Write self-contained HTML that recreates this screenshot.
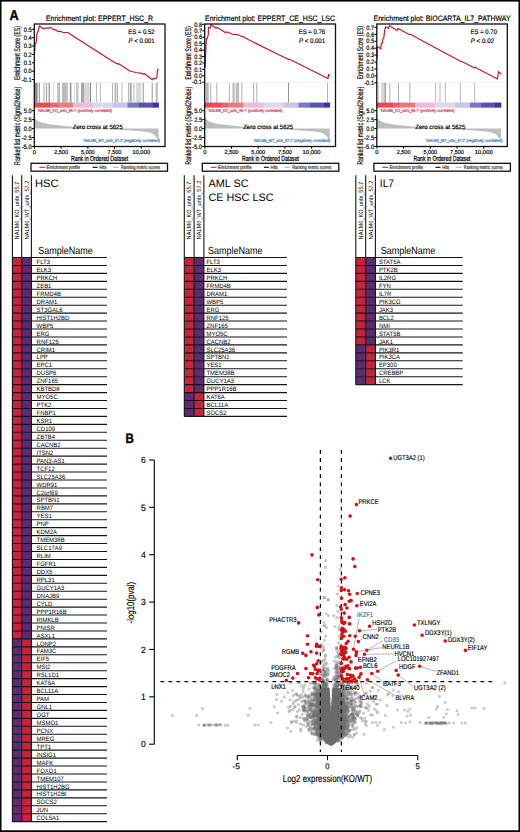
<!DOCTYPE html><html><head><meta charset="utf-8"><style>html,body{margin:0;padding:0;background:#fff;}svg{display:block;}text{font-family:"Liberation Sans",sans-serif;text-rendering:geometricPrecision;}</style></head><body>
<svg width="520" height="832" viewBox="0 0 520 832">
<rect x="0.00" y="0.00" width="520.00" height="832.00" fill="#fff"/>
<text x="46.00" y="20.70" font-size="7.9" textLength="107.0" lengthAdjust="spacingAndGlyphs" stroke="#000" stroke-width="0.18">Enrichment plot: EPPERT_HSC_R</text>
<line x1="34.30" y1="82.60" x2="165.00" y2="82.60" stroke="#e6e6e6" stroke-width="0.6"/>
<line x1="34.30" y1="102.60" x2="165.00" y2="102.60" stroke="#e6e6e6" stroke-width="0.6"/>
<line x1="34.30" y1="107.60" x2="165.00" y2="107.60" stroke="#e6e6e6" stroke-width="0.6"/>
<line x1="35.50" y1="82.80" x2="35.50" y2="102.60" stroke="#4b4b4b" stroke-width="0.65"/>
<line x1="36.50" y1="82.80" x2="36.50" y2="102.60" stroke="#4b4b4b" stroke-width="0.65"/>
<line x1="37.40" y1="82.80" x2="37.40" y2="102.60" stroke="#878787" stroke-width="0.65"/>
<line x1="39.30" y1="82.80" x2="39.30" y2="102.60" stroke="#4b4b4b" stroke-width="0.65"/>
<line x1="43.60" y1="82.80" x2="43.60" y2="102.60" stroke="#c3c3c3" stroke-width="0.65"/>
<line x1="44.20" y1="82.80" x2="44.20" y2="102.60" stroke="#c3c3c3" stroke-width="0.65"/>
<line x1="44.90" y1="82.80" x2="44.90" y2="102.60" stroke="#c3c3c3" stroke-width="0.65"/>
<line x1="46.50" y1="82.80" x2="46.50" y2="102.60" stroke="#878787" stroke-width="0.65"/>
<line x1="48.00" y1="82.80" x2="48.00" y2="102.60" stroke="#c3c3c3" stroke-width="0.65"/>
<line x1="49.30" y1="82.80" x2="49.30" y2="102.60" stroke="#4b4b4b" stroke-width="0.65"/>
<line x1="53.60" y1="82.80" x2="53.60" y2="102.60" stroke="#c3c3c3" stroke-width="0.65"/>
<line x1="58.00" y1="82.80" x2="58.00" y2="102.60" stroke="#4b4b4b" stroke-width="0.65"/>
<line x1="59.50" y1="82.80" x2="59.50" y2="102.60" stroke="#878787" stroke-width="0.65"/>
<line x1="62.40" y1="82.80" x2="62.40" y2="102.60" stroke="#9b9b9b" stroke-width="0.65"/>
<line x1="63.40" y1="82.80" x2="63.40" y2="102.60" stroke="#878787" stroke-width="0.65"/>
<line x1="64.40" y1="82.80" x2="64.40" y2="102.60" stroke="#919191" stroke-width="0.65"/>
<line x1="65.40" y1="82.80" x2="65.40" y2="102.60" stroke="#878787" stroke-width="0.65"/>
<line x1="66.40" y1="82.80" x2="66.40" y2="102.60" stroke="#9b9b9b" stroke-width="0.65"/>
<line x1="67.40" y1="82.80" x2="67.40" y2="102.60" stroke="#9b9b9b" stroke-width="0.65"/>
<line x1="70.30" y1="82.80" x2="70.30" y2="102.60" stroke="#4b4b4b" stroke-width="0.65"/>
<line x1="71.10" y1="82.80" x2="71.10" y2="102.60" stroke="#878787" stroke-width="0.65"/>
<line x1="74.30" y1="82.80" x2="74.30" y2="102.60" stroke="#c3c3c3" stroke-width="0.65"/>
<line x1="77.00" y1="82.80" x2="77.00" y2="102.60" stroke="#4b4b4b" stroke-width="0.65"/>
<line x1="78.30" y1="82.80" x2="78.30" y2="102.60" stroke="#c3c3c3" stroke-width="0.65"/>
<line x1="81.50" y1="82.80" x2="81.50" y2="102.60" stroke="#737373" stroke-width="0.65"/>
<line x1="82.50" y1="82.80" x2="82.50" y2="102.60" stroke="#737373" stroke-width="0.65"/>
<line x1="83.60" y1="82.80" x2="83.60" y2="102.60" stroke="#737373" stroke-width="0.65"/>
<line x1="84.50" y1="82.80" x2="84.50" y2="102.60" stroke="#c3c3c3" stroke-width="0.65"/>
<line x1="85.50" y1="82.80" x2="85.50" y2="102.60" stroke="#c3c3c3" stroke-width="0.65"/>
<line x1="86.50" y1="82.80" x2="86.50" y2="102.60" stroke="#c3c3c3" stroke-width="0.65"/>
<line x1="87.50" y1="82.80" x2="87.50" y2="102.60" stroke="#c3c3c3" stroke-width="0.65"/>
<line x1="88.50" y1="82.80" x2="88.50" y2="102.60" stroke="#c3c3c3" stroke-width="0.65"/>
<line x1="89.30" y1="82.80" x2="89.30" y2="102.60" stroke="#c3c3c3" stroke-width="0.65"/>
<line x1="90.50" y1="82.80" x2="90.50" y2="102.60" stroke="#4b4b4b" stroke-width="0.65"/>
<line x1="96.60" y1="82.80" x2="96.60" y2="102.60" stroke="#919191" stroke-width="0.65"/>
<line x1="100.40" y1="82.80" x2="100.40" y2="102.60" stroke="#919191" stroke-width="0.65"/>
<line x1="112.50" y1="82.80" x2="112.50" y2="102.60" stroke="#919191" stroke-width="0.65"/>
<line x1="115.20" y1="82.80" x2="115.20" y2="102.60" stroke="#5f5f5f" stroke-width="0.65"/>
<line x1="117.20" y1="82.80" x2="117.20" y2="102.60" stroke="#555555" stroke-width="0.65"/>
<line x1="121.90" y1="82.80" x2="121.90" y2="102.60" stroke="#919191" stroke-width="0.65"/>
<line x1="128.60" y1="82.80" x2="128.60" y2="102.60" stroke="#878787" stroke-width="0.65"/>
<line x1="130.30" y1="82.80" x2="130.30" y2="102.60" stroke="#5f5f5f" stroke-width="0.65"/>
<line x1="131.30" y1="82.80" x2="131.30" y2="102.60" stroke="#878787" stroke-width="0.65"/>
<line x1="134.00" y1="82.80" x2="134.00" y2="102.60" stroke="#878787" stroke-width="0.65"/>
<line x1="136.70" y1="82.80" x2="136.70" y2="102.60" stroke="#c3c3c3" stroke-width="0.65"/>
<line x1="137.70" y1="82.80" x2="137.70" y2="102.60" stroke="#b9b9b9" stroke-width="0.65"/>
<line x1="138.70" y1="82.80" x2="138.70" y2="102.60" stroke="#c3c3c3" stroke-width="0.65"/>
<line x1="139.70" y1="82.80" x2="139.70" y2="102.60" stroke="#b9b9b9" stroke-width="0.65"/>
<line x1="140.80" y1="82.80" x2="140.80" y2="102.60" stroke="#c3c3c3" stroke-width="0.65"/>
<line x1="143.20" y1="82.80" x2="143.20" y2="102.60" stroke="#555555" stroke-width="0.65"/>
<line x1="152.20" y1="82.80" x2="152.20" y2="102.60" stroke="#555555" stroke-width="0.65"/>
<line x1="156.20" y1="82.80" x2="156.20" y2="102.60" stroke="#878787" stroke-width="0.65"/>
<line x1="157.20" y1="82.80" x2="157.20" y2="102.60" stroke="#878787" stroke-width="0.65"/>
<rect x="34.30" y="102.60" width="16.46" height="5.00" fill="#ec4a52"/>
<rect x="50.46" y="102.60" width="7.76" height="5.00" fill="#e9637a"/>
<rect x="57.92" y="102.60" width="15.22" height="5.00" fill="#ee7880"/>
<rect x="72.83" y="102.60" width="20.19" height="5.00" fill="#f4b8d8"/>
<rect x="92.72" y="102.60" width="20.19" height="5.00" fill="#ddd7ef"/>
<rect x="112.61" y="102.60" width="15.22" height="5.00" fill="#cbc4e9"/>
<rect x="127.52" y="102.60" width="11.49" height="5.00" fill="#7a76c6"/>
<rect x="138.71" y="102.60" width="13.97" height="5.00" fill="#5a52b2"/>
<rect x="152.38" y="102.60" width="6.52" height="5.00" fill="#3c32a0"/>
<path d="M34.3,128.6 L34.3,116.5 L35.8,119.0 L37.8,121.1 L43.0,122.9 L49.8,124.3 L57.9,125.2 L70.3,126.5 L84.0,127.7 L94.6,128.6 L108.9,129.3 L127.5,130.2 L143.7,131.5 L149.9,132.5 L153.6,134.3 L156.1,137.2 L158.6,140.0 L158.6,128.6 Z" fill="#bdbdbd"/>
<text x="37.70" y="111.60" font-size="4.4" textLength="74.4" lengthAdjust="spacingAndGlyphs" fill="#d8283c" stroke="#d8283c" stroke-width="0.18">'NALM6_KO_untx_55.7' (positively correlated)</text>
<text x="72.80" y="129.30" font-size="6.2" textLength="50.0" lengthAdjust="spacingAndGlyphs" stroke="#000" stroke-width="0.18">Zero cross at 5625</text>
<text x="83.30" y="141.90" font-size="4.4" textLength="76.6" lengthAdjust="spacingAndGlyphs" fill="#2e6fb4" stroke="#2e6fb4" stroke-width="0.18">'NALM6_WT_untx_57.2' (negatively correlated)</text>
<polyline points="34.5,54.5 35.1,44.2 36.1,42.9 37.0,33.4 38.1,31.4 39.4,25.8 40.8,27.1 43.5,29.0 44.8,28.1 48.8,28.1 50.9,27.4 52.9,29.4 55.6,29.8 58.3,31.7 60.3,31.2 63.0,32.5 67.7,32.5 100.0,53.2 115.4,63.1 120.0,64.4 129.8,71.0 136.2,72.5 141.9,73.3 143.7,74.4 144.2,73.6 152.3,79.8 153.5,78.2 155.2,79.0 156.9,77.3 157.5,69.8 158.6,69.0" fill="none" stroke="#c8182f" stroke-width="1.2" stroke-linejoin="round"/>
<text x="128.20" y="34.00" font-size="6.6" textLength="26.5" lengthAdjust="spacingAndGlyphs" stroke="#000" stroke-width="0.18">ES = 0.52</text>
<text x="128.40" y="42.7" font-size="6.6" textLength="26.2" lengthAdjust="spacingAndGlyphs" stroke="#000" stroke-width="0.18"><tspan font-style="italic">P</tspan> &lt; 0.001</text>
<rect x="34.30" y="24.00" width="130.70" height="122.50" fill="none" stroke="#111" stroke-width="1.3"/>
<line x1="31.80" y1="29.30" x2="34.30" y2="29.30" stroke="#000" stroke-width="1"/>
<text x="31.70" y="31.50" font-size="6.3" text-anchor="end" textLength="7.9" lengthAdjust="spacingAndGlyphs" stroke="#000" stroke-width="0.18">0.5</text>
<line x1="31.80" y1="37.68" x2="34.30" y2="37.68" stroke="#000" stroke-width="1"/>
<text x="31.70" y="39.88" font-size="6.3" text-anchor="end" textLength="7.9" lengthAdjust="spacingAndGlyphs" stroke="#000" stroke-width="0.18">0.4</text>
<line x1="31.80" y1="46.06" x2="34.30" y2="46.06" stroke="#000" stroke-width="1"/>
<text x="31.70" y="48.26" font-size="6.3" text-anchor="end" textLength="7.9" lengthAdjust="spacingAndGlyphs" stroke="#000" stroke-width="0.18">0.3</text>
<line x1="31.80" y1="54.44" x2="34.30" y2="54.44" stroke="#000" stroke-width="1"/>
<text x="31.70" y="56.64" font-size="6.3" text-anchor="end" textLength="7.9" lengthAdjust="spacingAndGlyphs" stroke="#000" stroke-width="0.18">0.2</text>
<line x1="31.80" y1="62.82" x2="34.30" y2="62.82" stroke="#000" stroke-width="1"/>
<text x="31.70" y="65.02" font-size="6.3" text-anchor="end" textLength="7.9" lengthAdjust="spacingAndGlyphs" stroke="#000" stroke-width="0.18">0.1</text>
<line x1="31.80" y1="71.20" x2="34.30" y2="71.20" stroke="#000" stroke-width="1"/>
<text x="31.70" y="73.40" font-size="6.3" text-anchor="end" textLength="7.9" lengthAdjust="spacingAndGlyphs" stroke="#000" stroke-width="0.18">0.0</text>
<line x1="31.80" y1="79.58" x2="34.30" y2="79.58" stroke="#000" stroke-width="1"/>
<text x="31.70" y="81.78" font-size="6.3" text-anchor="end" textLength="10.0" lengthAdjust="spacingAndGlyphs" stroke="#000" stroke-width="0.18">-0.1</text>
<line x1="31.80" y1="110.70" x2="34.30" y2="110.70" stroke="#000" stroke-width="1"/>
<text x="31.70" y="112.90" font-size="6.3" text-anchor="end" textLength="7.9" lengthAdjust="spacingAndGlyphs" stroke="#000" stroke-width="0.18">5.0</text>
<line x1="31.80" y1="119.65" x2="34.30" y2="119.65" stroke="#000" stroke-width="1"/>
<text x="31.70" y="121.85" font-size="6.3" text-anchor="end" textLength="7.9" lengthAdjust="spacingAndGlyphs" stroke="#000" stroke-width="0.18">2.5</text>
<line x1="31.80" y1="128.60" x2="34.30" y2="128.60" stroke="#000" stroke-width="1"/>
<text x="31.70" y="130.80" font-size="6.3" text-anchor="end" textLength="7.9" lengthAdjust="spacingAndGlyphs" stroke="#000" stroke-width="0.18">0.0</text>
<line x1="31.80" y1="137.55" x2="34.30" y2="137.55" stroke="#000" stroke-width="1"/>
<text x="31.70" y="139.75" font-size="6.3" text-anchor="end" textLength="10.0" lengthAdjust="spacingAndGlyphs" stroke="#000" stroke-width="0.18">-2.5</text>
<line x1="31.80" y1="146.50" x2="34.30" y2="146.50" stroke="#000" stroke-width="1"/>
<text x="31.70" y="148.70" font-size="6.3" text-anchor="end" textLength="10.0" lengthAdjust="spacingAndGlyphs" stroke="#000" stroke-width="0.18">-5.0</text>
<line x1="34.40" y1="146.50" x2="34.40" y2="148.70" stroke="#000" stroke-width="1"/>
<text x="34.40" y="153.60" font-size="5.8" text-anchor="middle" stroke="#000" stroke-width="0.18">0</text>
<line x1="61.10" y1="146.50" x2="61.10" y2="148.70" stroke="#000" stroke-width="1"/>
<text x="61.10" y="153.60" font-size="5.8" text-anchor="middle" textLength="13.8" lengthAdjust="spacingAndGlyphs" stroke="#000" stroke-width="0.18">2,500</text>
<line x1="87.80" y1="146.50" x2="87.80" y2="148.70" stroke="#000" stroke-width="1"/>
<text x="87.80" y="153.60" font-size="5.8" text-anchor="middle" textLength="13.8" lengthAdjust="spacingAndGlyphs" stroke="#000" stroke-width="0.18">5,000</text>
<line x1="114.50" y1="146.50" x2="114.50" y2="148.70" stroke="#000" stroke-width="1"/>
<text x="114.50" y="153.60" font-size="5.8" text-anchor="middle" textLength="13.8" lengthAdjust="spacingAndGlyphs" stroke="#000" stroke-width="0.18">7,500</text>
<line x1="141.20" y1="146.50" x2="141.20" y2="148.70" stroke="#000" stroke-width="1"/>
<text x="141.20" y="153.60" font-size="5.8" text-anchor="middle" textLength="18.0" lengthAdjust="spacingAndGlyphs" stroke="#000" stroke-width="0.18">10,000</text>
<text x="71.10" y="161.00" font-size="7.4" textLength="57.0" lengthAdjust="spacingAndGlyphs" stroke="#000" stroke-width="0.25">Rank in Ordered Dataset</text>
<text x="20.20" y="53.00" font-size="8.3" text-anchor="middle" textLength="54.2" lengthAdjust="spacingAndGlyphs" transform="rotate(-90 20.20 53.00)" stroke="#000" stroke-width="0.18">Enrichment Score (ES)</text>
<text x="20.20" y="125.80" font-size="8.3" text-anchor="middle" textLength="78.2" lengthAdjust="spacingAndGlyphs" transform="rotate(-90 20.20 125.80)" stroke="#000" stroke-width="0.18">Ranked list metric (Signal2Noise)</text>
<rect x="31.00" y="163.3" width="136.50" height="7.9" fill="none" stroke="#111" stroke-width="1.3"/>
<line x1="39.50" y1="167.30" x2="45.20" y2="167.30" stroke="#cc1f36" stroke-width="1.1"/>
<text x="46.60" y="169.10" font-size="5.0" textLength="33.6" lengthAdjust="spacingAndGlyphs" fill="#333" stroke="#333" stroke-width="0.18">Enrichment profile</text>
<line x1="92.60" y1="167.30" x2="97.60" y2="167.30" stroke="#000" stroke-width="1.1"/>
<text x="99.30" y="169.10" font-size="5.0" textLength="7.3" lengthAdjust="spacingAndGlyphs" fill="#333" stroke="#333" stroke-width="0.18">Hits</text>
<line x1="113.10" y1="167.30" x2="118.60" y2="167.30" stroke="#999" stroke-width="0.8"/>
<text x="120.90" y="169.10" font-size="5.0" textLength="39.3" lengthAdjust="spacingAndGlyphs" fill="#333" stroke="#333" stroke-width="0.18">Ranking metric scores</text>
<text x="205.00" y="20.70" font-size="7.9" textLength="130.1" lengthAdjust="spacingAndGlyphs" stroke="#000" stroke-width="0.18">Enrichment plot: EPPERT_CE_HSC_LSC</text>
<line x1="204.70" y1="82.60" x2="335.50" y2="82.60" stroke="#e6e6e6" stroke-width="0.6"/>
<line x1="204.70" y1="102.60" x2="335.50" y2="102.60" stroke="#e6e6e6" stroke-width="0.6"/>
<line x1="204.70" y1="107.60" x2="335.50" y2="107.60" stroke="#e6e6e6" stroke-width="0.6"/>
<line x1="206.50" y1="82.80" x2="206.50" y2="102.60" stroke="#919191" stroke-width="0.65"/>
<line x1="207.40" y1="82.80" x2="207.40" y2="102.60" stroke="#919191" stroke-width="0.65"/>
<line x1="208.30" y1="82.80" x2="208.30" y2="102.60" stroke="#9b9b9b" stroke-width="0.65"/>
<line x1="210.80" y1="82.80" x2="210.80" y2="102.60" stroke="#878787" stroke-width="0.65"/>
<line x1="216.80" y1="82.80" x2="216.80" y2="102.60" stroke="#878787" stroke-width="0.65"/>
<line x1="229.30" y1="82.80" x2="229.30" y2="102.60" stroke="#878787" stroke-width="0.65"/>
<line x1="233.00" y1="82.80" x2="233.00" y2="102.60" stroke="#878787" stroke-width="0.65"/>
<line x1="234.00" y1="82.80" x2="234.00" y2="102.60" stroke="#878787" stroke-width="0.65"/>
<line x1="236.10" y1="82.80" x2="236.10" y2="102.60" stroke="#9b9b9b" stroke-width="0.65"/>
<line x1="237.00" y1="82.80" x2="237.00" y2="102.60" stroke="#919191" stroke-width="0.65"/>
<line x1="237.80" y1="82.80" x2="237.80" y2="102.60" stroke="#9b9b9b" stroke-width="0.65"/>
<line x1="238.60" y1="82.80" x2="238.60" y2="102.60" stroke="#9b9b9b" stroke-width="0.65"/>
<line x1="241.80" y1="82.80" x2="241.80" y2="102.60" stroke="#878787" stroke-width="0.65"/>
<line x1="253.60" y1="82.80" x2="253.60" y2="102.60" stroke="#878787" stroke-width="0.65"/>
<line x1="256.80" y1="82.80" x2="256.80" y2="102.60" stroke="#878787" stroke-width="0.65"/>
<line x1="288.50" y1="82.80" x2="288.50" y2="102.60" stroke="#555555" stroke-width="0.65"/>
<line x1="327.50" y1="82.80" x2="327.50" y2="102.60" stroke="#878787" stroke-width="0.65"/>
<rect x="204.70" y="102.60" width="16.56" height="5.00" fill="#ec4a52"/>
<rect x="220.96" y="102.60" width="7.81" height="5.00" fill="#e9637a"/>
<rect x="228.47" y="102.60" width="15.31" height="5.00" fill="#ee7880"/>
<rect x="243.48" y="102.60" width="20.32" height="5.00" fill="#f4b8d8"/>
<rect x="263.50" y="102.60" width="20.32" height="5.00" fill="#ddd7ef"/>
<rect x="283.51" y="102.60" width="15.31" height="5.00" fill="#cbc4e9"/>
<rect x="298.52" y="102.60" width="11.56" height="5.00" fill="#7a76c6"/>
<rect x="309.78" y="102.60" width="14.06" height="5.00" fill="#5a52b2"/>
<rect x="323.55" y="102.60" width="6.56" height="5.00" fill="#3c32a0"/>
<path d="M204.7,128.6 L204.7,116.5 L206.2,119.0 L208.2,121.1 L213.5,122.9 L220.3,124.3 L228.5,125.2 L241.0,126.5 L254.7,127.7 L265.4,128.6 L279.8,129.3 L298.5,130.2 L314.8,131.5 L321.0,132.5 L324.8,134.3 L327.3,137.2 L329.8,140.0 L329.8,128.6 Z" fill="#bdbdbd"/>
<text x="208.10" y="111.60" font-size="4.4" textLength="74.4" lengthAdjust="spacingAndGlyphs" fill="#d8283c" stroke="#d8283c" stroke-width="0.18">'NALM6_KO_untx_55.7' (positively correlated)</text>
<text x="243.20" y="129.30" font-size="6.2" textLength="50.0" lengthAdjust="spacingAndGlyphs" stroke="#000" stroke-width="0.18">Zero cross at 5625</text>
<text x="253.70" y="141.90" font-size="4.4" textLength="76.6" lengthAdjust="spacingAndGlyphs" fill="#2e6fb4" stroke="#2e6fb4" stroke-width="0.18">'NALM6_WT_untx_57.2' (negatively correlated)</text>
<polyline points="205.2,67.4 205.6,55.0 206.0,44.3 206.5,38.5 207.2,38.5 208.0,35.8 208.3,34.3 208.5,27.4 209.6,27.4 210.2,28.0 210.8,25.1 211.1,24.4 216.2,28.3 217.5,27.5 225.7,32.8 226.6,31.8 233.0,34.5 238.0,34.7 241.0,36.2 243.0,36.6 250.0,40.5 288.6,59.5 289.5,59.2 328.0,78.5 328.6,74.5 329.8,75.5" fill="none" stroke="#c8182f" stroke-width="1.2" stroke-linejoin="round"/>
<text x="298.70" y="34.00" font-size="6.6" textLength="26.5" lengthAdjust="spacingAndGlyphs" stroke="#000" stroke-width="0.18">ES = 0.76</text>
<text x="298.90" y="42.7" font-size="6.6" textLength="26.2" lengthAdjust="spacingAndGlyphs" stroke="#000" stroke-width="0.18"><tspan font-style="italic">P</tspan> &lt; 0.001</text>
<rect x="204.70" y="24.00" width="130.80" height="122.50" fill="none" stroke="#111" stroke-width="1.3"/>
<line x1="202.20" y1="24.36" x2="204.70" y2="24.36" stroke="#000" stroke-width="1"/>
<text x="202.10" y="26.56" font-size="6.3" text-anchor="end" textLength="7.9" lengthAdjust="spacingAndGlyphs" stroke="#000" stroke-width="0.18">0.8</text>
<line x1="202.20" y1="30.79" x2="204.70" y2="30.79" stroke="#000" stroke-width="1"/>
<text x="202.10" y="32.99" font-size="6.3" text-anchor="end" textLength="7.9" lengthAdjust="spacingAndGlyphs" stroke="#000" stroke-width="0.18">0.7</text>
<line x1="202.20" y1="37.22" x2="204.70" y2="37.22" stroke="#000" stroke-width="1"/>
<text x="202.10" y="39.42" font-size="6.3" text-anchor="end" textLength="7.9" lengthAdjust="spacingAndGlyphs" stroke="#000" stroke-width="0.18">0.6</text>
<line x1="202.20" y1="43.65" x2="204.70" y2="43.65" stroke="#000" stroke-width="1"/>
<text x="202.10" y="45.85" font-size="6.3" text-anchor="end" textLength="7.9" lengthAdjust="spacingAndGlyphs" stroke="#000" stroke-width="0.18">0.5</text>
<line x1="202.20" y1="50.08" x2="204.70" y2="50.08" stroke="#000" stroke-width="1"/>
<text x="202.10" y="52.28" font-size="6.3" text-anchor="end" textLength="7.9" lengthAdjust="spacingAndGlyphs" stroke="#000" stroke-width="0.18">0.4</text>
<line x1="202.20" y1="56.51" x2="204.70" y2="56.51" stroke="#000" stroke-width="1"/>
<text x="202.10" y="58.71" font-size="6.3" text-anchor="end" textLength="7.9" lengthAdjust="spacingAndGlyphs" stroke="#000" stroke-width="0.18">0.3</text>
<line x1="202.20" y1="62.94" x2="204.70" y2="62.94" stroke="#000" stroke-width="1"/>
<text x="202.10" y="65.14" font-size="6.3" text-anchor="end" textLength="7.9" lengthAdjust="spacingAndGlyphs" stroke="#000" stroke-width="0.18">0.2</text>
<line x1="202.20" y1="69.37" x2="204.70" y2="69.37" stroke="#000" stroke-width="1"/>
<text x="202.10" y="71.57" font-size="6.3" text-anchor="end" textLength="7.9" lengthAdjust="spacingAndGlyphs" stroke="#000" stroke-width="0.18">0.1</text>
<line x1="202.20" y1="75.80" x2="204.70" y2="75.80" stroke="#000" stroke-width="1"/>
<text x="202.10" y="78.00" font-size="6.3" text-anchor="end" textLength="7.9" lengthAdjust="spacingAndGlyphs" stroke="#000" stroke-width="0.18">0.0</text>
<line x1="202.20" y1="82.23" x2="204.70" y2="82.23" stroke="#000" stroke-width="1"/>
<text x="202.10" y="84.43" font-size="6.3" text-anchor="end" textLength="10.0" lengthAdjust="spacingAndGlyphs" stroke="#000" stroke-width="0.18">-0.1</text>
<line x1="202.20" y1="110.70" x2="204.70" y2="110.70" stroke="#000" stroke-width="1"/>
<text x="202.10" y="112.90" font-size="6.3" text-anchor="end" textLength="7.9" lengthAdjust="spacingAndGlyphs" stroke="#000" stroke-width="0.18">5.0</text>
<line x1="202.20" y1="119.65" x2="204.70" y2="119.65" stroke="#000" stroke-width="1"/>
<text x="202.10" y="121.85" font-size="6.3" text-anchor="end" textLength="7.9" lengthAdjust="spacingAndGlyphs" stroke="#000" stroke-width="0.18">2.5</text>
<line x1="202.20" y1="128.60" x2="204.70" y2="128.60" stroke="#000" stroke-width="1"/>
<text x="202.10" y="130.80" font-size="6.3" text-anchor="end" textLength="7.9" lengthAdjust="spacingAndGlyphs" stroke="#000" stroke-width="0.18">0.0</text>
<line x1="202.20" y1="137.55" x2="204.70" y2="137.55" stroke="#000" stroke-width="1"/>
<text x="202.10" y="139.75" font-size="6.3" text-anchor="end" textLength="10.0" lengthAdjust="spacingAndGlyphs" stroke="#000" stroke-width="0.18">-2.5</text>
<line x1="202.20" y1="146.50" x2="204.70" y2="146.50" stroke="#000" stroke-width="1"/>
<text x="202.10" y="148.70" font-size="6.3" text-anchor="end" textLength="10.0" lengthAdjust="spacingAndGlyphs" stroke="#000" stroke-width="0.18">-5.0</text>
<line x1="204.80" y1="146.50" x2="204.80" y2="148.70" stroke="#000" stroke-width="1"/>
<text x="204.80" y="153.60" font-size="5.8" text-anchor="middle" stroke="#000" stroke-width="0.18">0</text>
<line x1="231.50" y1="146.50" x2="231.50" y2="148.70" stroke="#000" stroke-width="1"/>
<text x="231.50" y="153.60" font-size="5.8" text-anchor="middle" textLength="13.8" lengthAdjust="spacingAndGlyphs" stroke="#000" stroke-width="0.18">2,500</text>
<line x1="258.20" y1="146.50" x2="258.20" y2="148.70" stroke="#000" stroke-width="1"/>
<text x="258.20" y="153.60" font-size="5.8" text-anchor="middle" textLength="13.8" lengthAdjust="spacingAndGlyphs" stroke="#000" stroke-width="0.18">5,000</text>
<line x1="284.90" y1="146.50" x2="284.90" y2="148.70" stroke="#000" stroke-width="1"/>
<text x="284.90" y="153.60" font-size="5.8" text-anchor="middle" textLength="13.8" lengthAdjust="spacingAndGlyphs" stroke="#000" stroke-width="0.18">7,500</text>
<line x1="311.60" y1="146.50" x2="311.60" y2="148.70" stroke="#000" stroke-width="1"/>
<text x="311.60" y="153.60" font-size="5.8" text-anchor="middle" textLength="18.0" lengthAdjust="spacingAndGlyphs" stroke="#000" stroke-width="0.18">10,000</text>
<text x="242.00" y="161.00" font-size="7.4" textLength="57.0" lengthAdjust="spacingAndGlyphs" stroke="#000" stroke-width="0.25">Rank in Ordered Dataset</text>
<text x="190.60" y="53.00" font-size="8.3" text-anchor="middle" textLength="53.6" lengthAdjust="spacingAndGlyphs" transform="rotate(-90 190.60 53.00)" stroke="#000" stroke-width="0.18">Enrichment Score (ES)</text>
<text x="190.60" y="125.80" font-size="8.3" text-anchor="middle" textLength="78.0" lengthAdjust="spacingAndGlyphs" transform="rotate(-90 190.60 125.80)" stroke="#000" stroke-width="0.18">Ranked list metric (Signal2Noise)</text>
<rect x="202.30" y="163.3" width="136.50" height="7.9" fill="none" stroke="#111" stroke-width="1.3"/>
<line x1="210.80" y1="167.30" x2="216.50" y2="167.30" stroke="#cc1f36" stroke-width="1.1"/>
<text x="217.90" y="169.10" font-size="5.0" textLength="33.6" lengthAdjust="spacingAndGlyphs" fill="#333" stroke="#333" stroke-width="0.18">Enrichment profile</text>
<line x1="263.90" y1="167.30" x2="268.90" y2="167.30" stroke="#000" stroke-width="1.1"/>
<text x="270.60" y="169.10" font-size="5.0" textLength="7.3" lengthAdjust="spacingAndGlyphs" fill="#333" stroke="#333" stroke-width="0.18">Hits</text>
<line x1="284.40" y1="167.30" x2="289.90" y2="167.30" stroke="#999" stroke-width="0.8"/>
<text x="292.20" y="169.10" font-size="5.0" textLength="39.3" lengthAdjust="spacingAndGlyphs" fill="#333" stroke="#333" stroke-width="0.18">Ranking metric scores</text>
<text x="373.50" y="20.70" font-size="7.9" textLength="137.1" lengthAdjust="spacingAndGlyphs" stroke="#000" stroke-width="0.18">Enrichment plot: BIOCARTA_IL7_PATHWAY</text>
<line x1="376.80" y1="82.60" x2="507.30" y2="82.60" stroke="#e6e6e6" stroke-width="0.6"/>
<line x1="376.80" y1="102.60" x2="507.30" y2="102.60" stroke="#e6e6e6" stroke-width="0.6"/>
<line x1="376.80" y1="107.60" x2="507.30" y2="107.60" stroke="#e6e6e6" stroke-width="0.6"/>
<line x1="378.50" y1="82.80" x2="378.50" y2="102.60" stroke="#c3c3c3" stroke-width="0.65"/>
<line x1="381.90" y1="82.80" x2="381.90" y2="102.60" stroke="#a5a5a5" stroke-width="0.65"/>
<line x1="383.10" y1="82.80" x2="383.10" y2="102.60" stroke="#a5a5a5" stroke-width="0.65"/>
<line x1="384.40" y1="82.80" x2="384.40" y2="102.60" stroke="#919191" stroke-width="0.65"/>
<line x1="385.60" y1="82.80" x2="385.60" y2="102.60" stroke="#696969" stroke-width="0.65"/>
<line x1="389.80" y1="82.80" x2="389.80" y2="102.60" stroke="#878787" stroke-width="0.65"/>
<line x1="398.50" y1="82.80" x2="398.50" y2="102.60" stroke="#878787" stroke-width="0.65"/>
<line x1="409.80" y1="82.80" x2="409.80" y2="102.60" stroke="#878787" stroke-width="0.65"/>
<line x1="435.60" y1="82.80" x2="435.60" y2="102.60" stroke="#919191" stroke-width="0.65"/>
<line x1="440.00" y1="82.80" x2="440.00" y2="102.60" stroke="#919191" stroke-width="0.65"/>
<line x1="445.40" y1="82.80" x2="445.40" y2="102.60" stroke="#919191" stroke-width="0.65"/>
<line x1="460.30" y1="82.80" x2="460.30" y2="102.60" stroke="#919191" stroke-width="0.65"/>
<line x1="474.70" y1="82.80" x2="474.70" y2="102.60" stroke="#919191" stroke-width="0.65"/>
<rect x="376.80" y="102.60" width="16.45" height="5.00" fill="#ec4a52"/>
<rect x="392.95" y="102.60" width="7.75" height="5.00" fill="#e9637a"/>
<rect x="400.40" y="102.60" width="15.20" height="5.00" fill="#ee7880"/>
<rect x="415.30" y="102.60" width="20.17" height="5.00" fill="#f4b8d8"/>
<rect x="435.17" y="102.60" width="20.17" height="5.00" fill="#ddd7ef"/>
<rect x="455.05" y="102.60" width="15.20" height="5.00" fill="#cbc4e9"/>
<rect x="469.95" y="102.60" width="11.48" height="5.00" fill="#7a76c6"/>
<rect x="481.13" y="102.60" width="13.96" height="5.00" fill="#5a52b2"/>
<rect x="494.79" y="102.60" width="6.51" height="5.00" fill="#3c32a0"/>
<path d="M376.8,128.6 L376.8,116.5 L378.3,119.0 L380.3,121.1 L385.5,122.9 L392.3,124.3 L400.4,125.2 L412.8,126.5 L426.5,127.7 L437.0,128.6 L451.3,129.3 L469.9,130.2 L486.1,131.5 L492.3,132.5 L496.0,134.3 L498.5,137.2 L501.0,140.0 L501.0,128.6 Z" fill="#bdbdbd"/>
<text x="380.20" y="111.60" font-size="4.4" textLength="74.4" lengthAdjust="spacingAndGlyphs" fill="#d8283c" stroke="#d8283c" stroke-width="0.18">'NALM6_KO_untx_55.7' (positively correlated)</text>
<text x="415.30" y="129.30" font-size="6.2" textLength="50.0" lengthAdjust="spacingAndGlyphs" stroke="#000" stroke-width="0.18">Zero cross at 5625</text>
<text x="425.80" y="141.90" font-size="4.4" textLength="76.6" lengthAdjust="spacingAndGlyphs" fill="#2e6fb4" stroke="#2e6fb4" stroke-width="0.18">'NALM6_WT_untx_57.2' (negatively correlated)</text>
<polyline points="377.1,58.5 377.4,46.5 379.3,47.5 380.8,49.1 381.3,43.2 382.5,43.0 382.9,38.8 383.8,37.9 384.6,31.1 385.6,26.8 387.0,27.3 388.5,28.3 389.6,25.7 397.1,30.5 398.1,28.5 409.1,34.5 410.6,34.3 425.0,42.2 460.5,61.3 462.0,61.5 474.5,68.0 475.0,67.2 497.5,79.0 498.5,71.7 501.5,74.1" fill="none" stroke="#c8182f" stroke-width="1.2" stroke-linejoin="round"/>
<text x="470.50" y="34.00" font-size="6.6" textLength="26.5" lengthAdjust="spacingAndGlyphs" stroke="#000" stroke-width="0.18">ES = 0.70</text>
<text x="470.70" y="42.7" font-size="6.6" textLength="23.5" lengthAdjust="spacingAndGlyphs" stroke="#000" stroke-width="0.18"><tspan font-style="italic">P</tspan> &lt; 0.02</text>
<rect x="376.80" y="24.00" width="130.50" height="122.50" fill="none" stroke="#111" stroke-width="1.3"/>
<line x1="374.30" y1="27.39" x2="376.80" y2="27.39" stroke="#000" stroke-width="1"/>
<text x="374.20" y="29.59" font-size="6.3" text-anchor="end" textLength="7.9" lengthAdjust="spacingAndGlyphs" stroke="#000" stroke-width="0.18">0.7</text>
<line x1="374.30" y1="34.32" x2="376.80" y2="34.32" stroke="#000" stroke-width="1"/>
<text x="374.20" y="36.52" font-size="6.3" text-anchor="end" textLength="7.9" lengthAdjust="spacingAndGlyphs" stroke="#000" stroke-width="0.18">0.6</text>
<line x1="374.30" y1="41.25" x2="376.80" y2="41.25" stroke="#000" stroke-width="1"/>
<text x="374.20" y="43.45" font-size="6.3" text-anchor="end" textLength="7.9" lengthAdjust="spacingAndGlyphs" stroke="#000" stroke-width="0.18">0.5</text>
<line x1="374.30" y1="48.18" x2="376.80" y2="48.18" stroke="#000" stroke-width="1"/>
<text x="374.20" y="50.38" font-size="6.3" text-anchor="end" textLength="7.9" lengthAdjust="spacingAndGlyphs" stroke="#000" stroke-width="0.18">0.4</text>
<line x1="374.30" y1="55.11" x2="376.80" y2="55.11" stroke="#000" stroke-width="1"/>
<text x="374.20" y="57.31" font-size="6.3" text-anchor="end" textLength="7.9" lengthAdjust="spacingAndGlyphs" stroke="#000" stroke-width="0.18">0.3</text>
<line x1="374.30" y1="62.04" x2="376.80" y2="62.04" stroke="#000" stroke-width="1"/>
<text x="374.20" y="64.24" font-size="6.3" text-anchor="end" textLength="7.9" lengthAdjust="spacingAndGlyphs" stroke="#000" stroke-width="0.18">0.2</text>
<line x1="374.30" y1="68.97" x2="376.80" y2="68.97" stroke="#000" stroke-width="1"/>
<text x="374.20" y="71.17" font-size="6.3" text-anchor="end" textLength="7.9" lengthAdjust="spacingAndGlyphs" stroke="#000" stroke-width="0.18">0.1</text>
<line x1="374.30" y1="75.90" x2="376.80" y2="75.90" stroke="#000" stroke-width="1"/>
<text x="374.20" y="78.10" font-size="6.3" text-anchor="end" textLength="7.9" lengthAdjust="spacingAndGlyphs" stroke="#000" stroke-width="0.18">0.0</text>
<line x1="374.30" y1="82.83" x2="376.80" y2="82.83" stroke="#000" stroke-width="1"/>
<text x="374.20" y="85.03" font-size="6.3" text-anchor="end" textLength="10.0" lengthAdjust="spacingAndGlyphs" stroke="#000" stroke-width="0.18">-0.1</text>
<line x1="374.30" y1="110.70" x2="376.80" y2="110.70" stroke="#000" stroke-width="1"/>
<text x="374.20" y="112.90" font-size="6.3" text-anchor="end" textLength="7.9" lengthAdjust="spacingAndGlyphs" stroke="#000" stroke-width="0.18">5.0</text>
<line x1="374.30" y1="119.65" x2="376.80" y2="119.65" stroke="#000" stroke-width="1"/>
<text x="374.20" y="121.85" font-size="6.3" text-anchor="end" textLength="7.9" lengthAdjust="spacingAndGlyphs" stroke="#000" stroke-width="0.18">2.5</text>
<line x1="374.30" y1="128.60" x2="376.80" y2="128.60" stroke="#000" stroke-width="1"/>
<text x="374.20" y="130.80" font-size="6.3" text-anchor="end" textLength="7.9" lengthAdjust="spacingAndGlyphs" stroke="#000" stroke-width="0.18">0.0</text>
<line x1="374.30" y1="137.55" x2="376.80" y2="137.55" stroke="#000" stroke-width="1"/>
<text x="374.20" y="139.75" font-size="6.3" text-anchor="end" textLength="10.0" lengthAdjust="spacingAndGlyphs" stroke="#000" stroke-width="0.18">-2.5</text>
<line x1="374.30" y1="146.50" x2="376.80" y2="146.50" stroke="#000" stroke-width="1"/>
<text x="374.20" y="148.70" font-size="6.3" text-anchor="end" textLength="10.0" lengthAdjust="spacingAndGlyphs" stroke="#000" stroke-width="0.18">-5.0</text>
<line x1="376.90" y1="146.50" x2="376.90" y2="148.70" stroke="#000" stroke-width="1"/>
<text x="376.90" y="153.60" font-size="5.8" text-anchor="middle" stroke="#000" stroke-width="0.18">0</text>
<line x1="403.60" y1="146.50" x2="403.60" y2="148.70" stroke="#000" stroke-width="1"/>
<text x="403.60" y="153.60" font-size="5.8" text-anchor="middle" textLength="13.8" lengthAdjust="spacingAndGlyphs" stroke="#000" stroke-width="0.18">2,500</text>
<line x1="430.30" y1="146.50" x2="430.30" y2="148.70" stroke="#000" stroke-width="1"/>
<text x="430.30" y="153.60" font-size="5.8" text-anchor="middle" textLength="13.8" lengthAdjust="spacingAndGlyphs" stroke="#000" stroke-width="0.18">5,000</text>
<line x1="457.00" y1="146.50" x2="457.00" y2="148.70" stroke="#000" stroke-width="1"/>
<text x="457.00" y="153.60" font-size="5.8" text-anchor="middle" textLength="13.8" lengthAdjust="spacingAndGlyphs" stroke="#000" stroke-width="0.18">7,500</text>
<line x1="483.70" y1="146.50" x2="483.70" y2="148.70" stroke="#000" stroke-width="1"/>
<text x="483.70" y="153.60" font-size="5.8" text-anchor="middle" textLength="18.0" lengthAdjust="spacingAndGlyphs" stroke="#000" stroke-width="0.18">10,000</text>
<text x="413.50" y="161.00" font-size="7.4" textLength="57.0" lengthAdjust="spacingAndGlyphs" stroke="#000" stroke-width="0.25">Rank in Ordered Dataset</text>
<text x="362.70" y="52.60" font-size="8.3" text-anchor="middle" textLength="53.4" lengthAdjust="spacingAndGlyphs" transform="rotate(-90 362.70 52.60)" stroke="#000" stroke-width="0.18">Enrichment Score (ES)</text>
<text x="362.70" y="125.80" font-size="8.3" text-anchor="middle" textLength="78.0" lengthAdjust="spacingAndGlyphs" transform="rotate(-90 362.70 125.80)" stroke="#000" stroke-width="0.18">Ranked list metric (Signal2Noise)</text>
<rect x="373.90" y="163.3" width="136.50" height="7.9" fill="none" stroke="#111" stroke-width="1.3"/>
<line x1="382.40" y1="167.30" x2="388.10" y2="167.30" stroke="#cc1f36" stroke-width="1.1"/>
<text x="389.50" y="169.10" font-size="5.0" textLength="33.6" lengthAdjust="spacingAndGlyphs" fill="#333" stroke="#333" stroke-width="0.18">Enrichment profile</text>
<line x1="435.50" y1="167.30" x2="440.50" y2="167.30" stroke="#000" stroke-width="1.1"/>
<text x="442.20" y="169.10" font-size="5.0" textLength="7.3" lengthAdjust="spacingAndGlyphs" fill="#333" stroke="#333" stroke-width="0.18">Hits</text>
<line x1="456.00" y1="167.30" x2="461.50" y2="167.30" stroke="#999" stroke-width="0.8"/>
<text x="463.80" y="169.10" font-size="5.0" textLength="39.3" lengthAdjust="spacingAndGlyphs" fill="#333" stroke="#333" stroke-width="0.18">Ranking metric scores</text>
<rect x="12.40" y="257.50" width="9.30" height="7.95" fill="#c9223a"/>
<rect x="21.70" y="257.50" width="9.70" height="7.95" fill="#5e2a74"/>
<text x="36.60" y="264.10" font-size="6.3" textLength="13.4" lengthAdjust="spacingAndGlyphs">FLT3</text>
<rect x="12.40" y="265.45" width="9.30" height="7.95" fill="#c9223a"/>
<rect x="21.70" y="265.45" width="9.70" height="7.95" fill="#5e2a74"/>
<text x="36.60" y="272.05" font-size="6.3" textLength="14.5" lengthAdjust="spacingAndGlyphs">ELK3</text>
<rect x="12.40" y="273.39" width="9.30" height="7.95" fill="#c9223a"/>
<rect x="21.70" y="273.39" width="9.70" height="7.95" fill="#5e2a74"/>
<text x="36.60" y="279.99" font-size="6.3" textLength="20.7" lengthAdjust="spacingAndGlyphs">PRKCH</text>
<rect x="12.40" y="281.34" width="9.30" height="7.95" fill="#c9223a"/>
<rect x="21.70" y="281.34" width="9.70" height="7.95" fill="#5e2a74"/>
<text x="36.60" y="287.94" font-size="6.3" textLength="14.8" lengthAdjust="spacingAndGlyphs">ZEB1</text>
<rect x="12.40" y="289.28" width="9.30" height="7.95" fill="#c9223a"/>
<rect x="21.70" y="289.28" width="9.70" height="7.95" fill="#5e2a74"/>
<text x="36.60" y="295.88" font-size="6.3" textLength="24.3" lengthAdjust="spacingAndGlyphs">FRMD4B</text>
<rect x="12.40" y="297.23" width="9.30" height="7.95" fill="#c9223a"/>
<rect x="21.70" y="297.23" width="9.70" height="7.95" fill="#5e2a74"/>
<text x="36.60" y="303.83" font-size="6.3" textLength="20.7" lengthAdjust="spacingAndGlyphs">DRAM1</text>
<rect x="12.40" y="305.18" width="9.30" height="7.95" fill="#c9223a"/>
<rect x="21.70" y="305.18" width="9.70" height="7.95" fill="#5e2a74"/>
<text x="36.60" y="311.78" font-size="6.3" textLength="26.0" lengthAdjust="spacingAndGlyphs">ST3GAL6</text>
<rect x="12.40" y="313.12" width="9.30" height="7.95" fill="#c9223a"/>
<rect x="21.70" y="313.12" width="9.70" height="7.95" fill="#5e2a74"/>
<text x="36.60" y="319.72" font-size="6.3" textLength="32.6" lengthAdjust="spacingAndGlyphs">HIST1H2BD</text>
<rect x="12.40" y="321.07" width="9.30" height="7.95" fill="#c9223a"/>
<rect x="21.70" y="321.07" width="9.70" height="7.95" fill="#5e2a74"/>
<text x="36.60" y="327.67" font-size="6.3" textLength="16.8" lengthAdjust="spacingAndGlyphs">WBP5</text>
<rect x="12.40" y="329.01" width="9.30" height="7.95" fill="#c9223a"/>
<rect x="21.70" y="329.01" width="9.70" height="7.95" fill="#5e2a74"/>
<text x="36.60" y="335.61" font-size="6.3" textLength="12.8" lengthAdjust="spacingAndGlyphs">ERG</text>
<rect x="12.40" y="336.96" width="9.30" height="7.95" fill="#c9223a"/>
<rect x="21.70" y="336.96" width="9.70" height="7.95" fill="#5e2a74"/>
<text x="36.60" y="343.56" font-size="6.3" textLength="22.1" lengthAdjust="spacingAndGlyphs">RNF125</text>
<rect x="12.40" y="344.91" width="9.30" height="7.95" fill="#c9223a"/>
<rect x="21.70" y="344.91" width="9.70" height="7.95" fill="#5e2a74"/>
<text x="36.60" y="351.51" font-size="6.3" textLength="18.4" lengthAdjust="spacingAndGlyphs">CRIM1</text>
<rect x="12.40" y="352.85" width="9.30" height="7.95" fill="#c9223a"/>
<rect x="21.70" y="352.85" width="9.70" height="7.95" fill="#5e2a74"/>
<text x="36.60" y="359.45" font-size="6.3" textLength="11.2" lengthAdjust="spacingAndGlyphs">LPP</text>
<rect x="12.40" y="360.80" width="9.30" height="7.95" fill="#c9223a"/>
<rect x="21.70" y="360.80" width="9.70" height="7.95" fill="#5e2a74"/>
<text x="36.60" y="367.40" font-size="6.3" textLength="15.5" lengthAdjust="spacingAndGlyphs">EPC1</text>
<rect x="12.40" y="368.74" width="9.30" height="7.95" fill="#c9223a"/>
<rect x="21.70" y="368.74" width="9.70" height="7.95" fill="#5e2a74"/>
<text x="36.60" y="375.34" font-size="6.3" textLength="19.7" lengthAdjust="spacingAndGlyphs">DUSP6</text>
<rect x="12.40" y="376.69" width="9.30" height="7.95" fill="#c9223a"/>
<rect x="21.70" y="376.69" width="9.70" height="7.95" fill="#5e2a74"/>
<text x="36.60" y="383.29" font-size="6.3" textLength="21.4" lengthAdjust="spacingAndGlyphs">ZNF165</text>
<rect x="12.40" y="384.64" width="9.30" height="7.95" fill="#c9223a"/>
<rect x="21.70" y="384.64" width="9.70" height="7.95" fill="#5e2a74"/>
<text x="36.60" y="391.24" font-size="6.3" textLength="23.0" lengthAdjust="spacingAndGlyphs">KBTBD8</text>
<rect x="12.40" y="392.58" width="9.30" height="7.95" fill="#c9223a"/>
<rect x="21.70" y="392.58" width="9.70" height="7.95" fill="#5e2a74"/>
<text x="36.60" y="399.18" font-size="6.3" textLength="21.1" lengthAdjust="spacingAndGlyphs">MYO5C</text>
<rect x="12.40" y="400.53" width="9.30" height="7.95" fill="#c9223a"/>
<rect x="21.70" y="400.53" width="9.70" height="7.95" fill="#5e2a74"/>
<text x="36.60" y="407.13" font-size="6.3" textLength="14.8" lengthAdjust="spacingAndGlyphs">PTK2</text>
<rect x="12.40" y="408.47" width="9.30" height="7.95" fill="#c9223a"/>
<rect x="21.70" y="408.47" width="9.70" height="7.95" fill="#5e2a74"/>
<text x="36.60" y="415.07" font-size="6.3" textLength="19.1" lengthAdjust="spacingAndGlyphs">FNBP1</text>
<rect x="12.40" y="416.42" width="9.30" height="7.95" fill="#c9223a"/>
<rect x="21.70" y="416.42" width="9.70" height="7.95" fill="#5e2a74"/>
<text x="36.60" y="423.02" font-size="6.3" textLength="15.5" lengthAdjust="spacingAndGlyphs">KSR1</text>
<rect x="12.40" y="424.37" width="9.30" height="7.95" fill="#c9223a"/>
<rect x="21.70" y="424.37" width="9.70" height="7.95" fill="#5e2a74"/>
<text x="36.60" y="430.97" font-size="6.3" textLength="18.4" lengthAdjust="spacingAndGlyphs">CD109</text>
<rect x="12.40" y="432.31" width="9.30" height="7.95" fill="#c9223a"/>
<rect x="21.70" y="432.31" width="9.70" height="7.95" fill="#5e2a74"/>
<text x="36.60" y="438.91" font-size="6.3" textLength="18.4" lengthAdjust="spacingAndGlyphs">ZBTB4</text>
<rect x="12.40" y="440.26" width="9.30" height="7.95" fill="#c9223a"/>
<rect x="21.70" y="440.26" width="9.70" height="7.95" fill="#5e2a74"/>
<text x="36.60" y="446.86" font-size="6.3" textLength="24.0" lengthAdjust="spacingAndGlyphs">CACNB2</text>
<rect x="12.40" y="448.20" width="9.30" height="7.95" fill="#c9223a"/>
<rect x="21.70" y="448.20" width="9.70" height="7.95" fill="#5e2a74"/>
<text x="36.60" y="454.80" font-size="6.3" textLength="16.8" lengthAdjust="spacingAndGlyphs">ITSN2</text>
<rect x="12.40" y="456.15" width="9.30" height="7.95" fill="#c9223a"/>
<rect x="21.70" y="456.15" width="9.70" height="7.95" fill="#5e2a74"/>
<text x="36.60" y="462.75" font-size="6.3" textLength="28.2" lengthAdjust="spacingAndGlyphs">PAN3-AS1</text>
<rect x="12.40" y="464.10" width="9.30" height="7.95" fill="#c9223a"/>
<rect x="21.70" y="464.10" width="9.70" height="7.95" fill="#5e2a74"/>
<text x="36.60" y="470.70" font-size="6.3" textLength="18.1" lengthAdjust="spacingAndGlyphs">TCF12</text>
<rect x="12.40" y="472.04" width="9.30" height="7.95" fill="#c9223a"/>
<rect x="21.70" y="472.04" width="9.70" height="7.95" fill="#5e2a74"/>
<text x="36.60" y="478.64" font-size="6.3" textLength="28.6" lengthAdjust="spacingAndGlyphs">SLC25A36</text>
<rect x="12.40" y="479.99" width="9.30" height="7.95" fill="#c9223a"/>
<rect x="21.70" y="479.99" width="9.70" height="7.95" fill="#5e2a74"/>
<text x="36.60" y="486.59" font-size="6.3" textLength="20.7" lengthAdjust="spacingAndGlyphs">WDR91</text>
<rect x="12.40" y="487.93" width="9.30" height="7.95" fill="#c9223a"/>
<rect x="21.70" y="487.93" width="9.70" height="7.95" fill="#5e2a74"/>
<text x="36.60" y="494.53" font-size="6.3" textLength="21.1" lengthAdjust="spacingAndGlyphs">C2orf69</text>
<rect x="12.40" y="495.88" width="9.30" height="7.95" fill="#c9223a"/>
<rect x="21.70" y="495.88" width="9.70" height="7.95" fill="#5e2a74"/>
<text x="36.60" y="502.48" font-size="6.3" textLength="23.0" lengthAdjust="spacingAndGlyphs">SPTBN1</text>
<rect x="12.40" y="503.83" width="9.30" height="7.95" fill="#c9223a"/>
<rect x="21.70" y="503.83" width="9.70" height="7.95" fill="#5e2a74"/>
<text x="36.60" y="510.43" font-size="6.3" textLength="16.5" lengthAdjust="spacingAndGlyphs">RBM7</text>
<rect x="12.40" y="511.77" width="9.30" height="7.95" fill="#c9223a"/>
<rect x="21.70" y="511.77" width="9.70" height="7.95" fill="#5e2a74"/>
<text x="36.60" y="518.37" font-size="6.3" textLength="15.1" lengthAdjust="spacingAndGlyphs">YES1</text>
<rect x="12.40" y="519.72" width="9.30" height="7.95" fill="#c9223a"/>
<rect x="21.70" y="519.72" width="9.70" height="7.95" fill="#5e2a74"/>
<text x="36.60" y="526.32" font-size="6.3" textLength="12.2" lengthAdjust="spacingAndGlyphs">PNP</text>
<rect x="12.40" y="527.66" width="9.30" height="7.95" fill="#c9223a"/>
<rect x="21.70" y="527.66" width="9.70" height="7.95" fill="#5e2a74"/>
<text x="36.60" y="534.26" font-size="6.3" textLength="20.4" lengthAdjust="spacingAndGlyphs">KDM2A</text>
<rect x="12.40" y="535.61" width="9.30" height="7.95" fill="#c9223a"/>
<rect x="21.70" y="535.61" width="9.70" height="7.95" fill="#5e2a74"/>
<text x="36.60" y="542.21" font-size="6.3" textLength="28.0" lengthAdjust="spacingAndGlyphs">TMEM38B</text>
<rect x="12.40" y="543.56" width="9.30" height="7.95" fill="#c9223a"/>
<rect x="21.70" y="543.56" width="9.70" height="7.95" fill="#5e2a74"/>
<text x="36.60" y="550.16" font-size="6.3" textLength="25.4" lengthAdjust="spacingAndGlyphs">SLC17A9</text>
<rect x="12.40" y="551.50" width="9.30" height="7.95" fill="#c9223a"/>
<rect x="21.70" y="551.50" width="9.70" height="7.95" fill="#5e2a74"/>
<text x="36.60" y="558.10" font-size="6.3" textLength="14.1" lengthAdjust="spacingAndGlyphs">RLIM</text>
<rect x="12.40" y="559.45" width="9.30" height="7.95" fill="#c9223a"/>
<rect x="21.70" y="559.45" width="9.70" height="7.95" fill="#5e2a74"/>
<text x="36.60" y="566.05" font-size="6.3" textLength="19.4" lengthAdjust="spacingAndGlyphs">FGFR1</text>
<rect x="12.40" y="567.39" width="9.30" height="7.95" fill="#c9223a"/>
<rect x="21.70" y="567.39" width="9.70" height="7.95" fill="#5e2a74"/>
<text x="36.60" y="573.99" font-size="6.3" textLength="15.8" lengthAdjust="spacingAndGlyphs">DDX5</text>
<rect x="12.40" y="575.34" width="9.30" height="7.95" fill="#c9223a"/>
<rect x="21.70" y="575.34" width="9.70" height="7.95" fill="#5e2a74"/>
<text x="36.60" y="581.94" font-size="6.3" textLength="18.1" lengthAdjust="spacingAndGlyphs">RPL31</text>
<rect x="12.40" y="583.29" width="9.30" height="7.95" fill="#c9223a"/>
<rect x="21.70" y="583.29" width="9.70" height="7.95" fill="#5e2a74"/>
<text x="36.60" y="589.89" font-size="6.3" textLength="27.6" lengthAdjust="spacingAndGlyphs">GUCY1A3</text>
<rect x="12.40" y="591.23" width="9.30" height="7.95" fill="#c9223a"/>
<rect x="21.70" y="591.23" width="9.70" height="7.95" fill="#5e2a74"/>
<text x="36.60" y="597.83" font-size="6.3" textLength="22.7" lengthAdjust="spacingAndGlyphs">DNAJB9</text>
<rect x="12.40" y="599.18" width="9.30" height="7.95" fill="#c9223a"/>
<rect x="21.70" y="599.18" width="9.70" height="7.95" fill="#5e2a74"/>
<text x="36.60" y="605.78" font-size="6.3" textLength="15.8" lengthAdjust="spacingAndGlyphs">CYLD</text>
<rect x="12.40" y="607.12" width="9.30" height="7.95" fill="#c9223a"/>
<rect x="21.70" y="607.12" width="9.70" height="7.95" fill="#5e2a74"/>
<text x="36.60" y="613.72" font-size="6.3" textLength="30.0" lengthAdjust="spacingAndGlyphs">PPP1R16B</text>
<rect x="12.40" y="615.07" width="9.30" height="7.95" fill="#c9223a"/>
<rect x="21.70" y="615.07" width="9.70" height="7.95" fill="#5e2a74"/>
<text x="36.60" y="621.67" font-size="6.3" textLength="22.0" lengthAdjust="spacingAndGlyphs">RIMKLB</text>
<rect x="12.40" y="623.02" width="9.30" height="7.95" fill="#c9223a"/>
<rect x="21.70" y="623.02" width="9.70" height="7.95" fill="#5e2a74"/>
<text x="36.60" y="629.62" font-size="6.3" textLength="18.1" lengthAdjust="spacingAndGlyphs">PNISR</text>
<rect x="12.40" y="630.96" width="9.30" height="7.95" fill="#c9223a"/>
<rect x="21.70" y="630.96" width="9.70" height="7.95" fill="#5e2a74"/>
<text x="36.60" y="637.56" font-size="6.3" textLength="18.4" lengthAdjust="spacingAndGlyphs">ASXL1</text>
<rect x="12.40" y="638.91" width="9.30" height="7.95" fill="#5e2a74"/>
<rect x="21.70" y="638.91" width="9.70" height="7.95" fill="#c9223a"/>
<text x="36.60" y="645.51" font-size="6.3" textLength="19.4" lengthAdjust="spacingAndGlyphs">LONP2</text>
<rect x="12.40" y="646.85" width="9.30" height="7.95" fill="#5e2a74"/>
<rect x="21.70" y="646.85" width="9.70" height="7.95" fill="#c9223a"/>
<text x="36.60" y="653.45" font-size="6.3" textLength="19.7" lengthAdjust="spacingAndGlyphs">FAM3C</text>
<rect x="12.40" y="654.80" width="9.30" height="7.95" fill="#5e2a74"/>
<rect x="21.70" y="654.80" width="9.70" height="7.95" fill="#c9223a"/>
<text x="36.60" y="661.40" font-size="6.3" textLength="12.5" lengthAdjust="spacingAndGlyphs">EIF5</text>
<rect x="12.40" y="662.75" width="9.30" height="7.95" fill="#5e2a74"/>
<rect x="21.70" y="662.75" width="9.70" height="7.95" fill="#c9223a"/>
<text x="36.60" y="669.35" font-size="6.3" textLength="13.8" lengthAdjust="spacingAndGlyphs">MSI2</text>
<rect x="12.40" y="670.69" width="9.30" height="7.95" fill="#5e2a74"/>
<rect x="21.70" y="670.69" width="9.70" height="7.95" fill="#c9223a"/>
<text x="36.60" y="677.29" font-size="6.3" textLength="22.4" lengthAdjust="spacingAndGlyphs">RSL1D1</text>
<rect x="12.40" y="678.64" width="9.30" height="7.95" fill="#5e2a74"/>
<rect x="21.70" y="678.64" width="9.70" height="7.95" fill="#c9223a"/>
<text x="36.60" y="685.24" font-size="6.3" textLength="18.3" lengthAdjust="spacingAndGlyphs">KAT6A</text>
<rect x="12.40" y="686.58" width="9.30" height="7.95" fill="#5e2a74"/>
<rect x="21.70" y="686.58" width="9.70" height="7.95" fill="#c9223a"/>
<text x="36.60" y="693.18" font-size="6.3" textLength="21.6" lengthAdjust="spacingAndGlyphs">BCL11A</text>
<rect x="12.40" y="694.53" width="9.30" height="7.95" fill="#5e2a74"/>
<rect x="21.70" y="694.53" width="9.70" height="7.95" fill="#c9223a"/>
<text x="36.60" y="701.13" font-size="6.3" textLength="12.4" lengthAdjust="spacingAndGlyphs">PAM</text>
<rect x="12.40" y="702.48" width="9.30" height="7.95" fill="#5e2a74"/>
<rect x="21.70" y="702.48" width="9.70" height="7.95" fill="#c9223a"/>
<text x="36.60" y="709.08" font-size="6.3" textLength="15.5" lengthAdjust="spacingAndGlyphs">GNL1</text>
<rect x="12.40" y="710.42" width="9.30" height="7.95" fill="#5e2a74"/>
<rect x="21.70" y="710.42" width="9.70" height="7.95" fill="#c9223a"/>
<text x="36.60" y="717.02" font-size="6.3" textLength="12.8" lengthAdjust="spacingAndGlyphs">OGT</text>
<rect x="12.40" y="718.37" width="9.30" height="7.95" fill="#5e2a74"/>
<rect x="21.70" y="718.37" width="9.70" height="7.95" fill="#c9223a"/>
<text x="36.60" y="724.97" font-size="6.3" textLength="21.7" lengthAdjust="spacingAndGlyphs">MSMO1</text>
<rect x="12.40" y="726.31" width="9.30" height="7.95" fill="#5e2a74"/>
<rect x="21.70" y="726.31" width="9.70" height="7.95" fill="#c9223a"/>
<text x="36.60" y="732.91" font-size="6.3" textLength="16.5" lengthAdjust="spacingAndGlyphs">PCNX</text>
<rect x="12.40" y="734.26" width="9.30" height="7.95" fill="#5e2a74"/>
<rect x="21.70" y="734.26" width="9.70" height="7.95" fill="#c9223a"/>
<text x="36.60" y="740.86" font-size="6.3" textLength="17.8" lengthAdjust="spacingAndGlyphs">MREG</text>
<rect x="12.40" y="742.21" width="9.30" height="7.95" fill="#5e2a74"/>
<rect x="21.70" y="742.21" width="9.70" height="7.95" fill="#c9223a"/>
<text x="36.60" y="748.81" font-size="6.3" textLength="14.5" lengthAdjust="spacingAndGlyphs">TPT1</text>
<rect x="12.40" y="750.15" width="9.30" height="7.95" fill="#5e2a74"/>
<rect x="21.70" y="750.15" width="9.70" height="7.95" fill="#c9223a"/>
<text x="36.60" y="756.75" font-size="6.3" textLength="19.4" lengthAdjust="spacingAndGlyphs">INSIG1</text>
<rect x="12.40" y="758.10" width="9.30" height="7.95" fill="#5e2a74"/>
<rect x="21.70" y="758.10" width="9.70" height="7.95" fill="#c9223a"/>
<text x="36.60" y="764.70" font-size="6.3" textLength="16.5" lengthAdjust="spacingAndGlyphs">MAFK</text>
<rect x="12.40" y="766.04" width="9.30" height="7.95" fill="#5e2a74"/>
<rect x="21.70" y="766.04" width="9.70" height="7.95" fill="#c9223a"/>
<text x="36.60" y="772.64" font-size="6.3" textLength="20.1" lengthAdjust="spacingAndGlyphs">FOXO1</text>
<rect x="12.40" y="773.99" width="9.30" height="7.95" fill="#5e2a74"/>
<rect x="21.70" y="773.99" width="9.70" height="7.95" fill="#c9223a"/>
<text x="36.60" y="780.59" font-size="6.3" textLength="27.3" lengthAdjust="spacingAndGlyphs">TMEM107</text>
<rect x="12.40" y="781.94" width="9.30" height="7.95" fill="#5e2a74"/>
<rect x="21.70" y="781.94" width="9.70" height="7.95" fill="#c9223a"/>
<text x="36.60" y="788.54" font-size="6.3" textLength="32.9" lengthAdjust="spacingAndGlyphs">HIST1H2BG</text>
<rect x="12.40" y="789.88" width="9.30" height="7.95" fill="#5e2a74"/>
<rect x="21.70" y="789.88" width="9.70" height="7.95" fill="#c9223a"/>
<text x="36.60" y="796.48" font-size="6.3" textLength="29.9" lengthAdjust="spacingAndGlyphs">HIST1H2BI</text>
<rect x="12.40" y="797.83" width="9.30" height="7.95" fill="#5e2a74"/>
<rect x="21.70" y="797.83" width="9.70" height="7.95" fill="#c9223a"/>
<text x="36.60" y="804.43" font-size="6.3" textLength="20.1" lengthAdjust="spacingAndGlyphs">SOCS2</text>
<rect x="12.40" y="805.77" width="9.30" height="7.95" fill="#5e2a74"/>
<rect x="21.70" y="805.77" width="9.70" height="7.95" fill="#c9223a"/>
<text x="36.60" y="812.37" font-size="6.3" textLength="11.5" lengthAdjust="spacingAndGlyphs">JUN</text>
<rect x="12.40" y="813.72" width="9.30" height="7.95" fill="#5e2a74"/>
<rect x="21.70" y="813.72" width="9.70" height="7.95" fill="#c9223a"/>
<text x="36.60" y="820.32" font-size="6.3" textLength="22.7" lengthAdjust="spacingAndGlyphs">COL5A1</text>
<line x1="12.40" y1="257.50" x2="107.00" y2="257.50" stroke="#141414" stroke-width="1.1"/>
<line x1="12.40" y1="265.45" x2="107.00" y2="265.45" stroke="#141414" stroke-width="1.1"/>
<line x1="12.40" y1="273.39" x2="107.00" y2="273.39" stroke="#141414" stroke-width="1.1"/>
<line x1="12.40" y1="281.34" x2="107.00" y2="281.34" stroke="#141414" stroke-width="1.1"/>
<line x1="12.40" y1="289.28" x2="107.00" y2="289.28" stroke="#141414" stroke-width="1.1"/>
<line x1="12.40" y1="297.23" x2="107.00" y2="297.23" stroke="#141414" stroke-width="1.1"/>
<line x1="12.40" y1="305.18" x2="107.00" y2="305.18" stroke="#141414" stroke-width="1.1"/>
<line x1="12.40" y1="313.12" x2="107.00" y2="313.12" stroke="#141414" stroke-width="1.1"/>
<line x1="12.40" y1="321.07" x2="107.00" y2="321.07" stroke="#141414" stroke-width="1.1"/>
<line x1="12.40" y1="329.01" x2="107.00" y2="329.01" stroke="#141414" stroke-width="1.1"/>
<line x1="12.40" y1="336.96" x2="107.00" y2="336.96" stroke="#141414" stroke-width="1.1"/>
<line x1="12.40" y1="344.91" x2="107.00" y2="344.91" stroke="#141414" stroke-width="1.1"/>
<line x1="12.40" y1="352.85" x2="107.00" y2="352.85" stroke="#141414" stroke-width="1.1"/>
<line x1="12.40" y1="360.80" x2="107.00" y2="360.80" stroke="#141414" stroke-width="1.1"/>
<line x1="12.40" y1="368.74" x2="107.00" y2="368.74" stroke="#141414" stroke-width="1.1"/>
<line x1="12.40" y1="376.69" x2="107.00" y2="376.69" stroke="#141414" stroke-width="1.1"/>
<line x1="12.40" y1="384.64" x2="107.00" y2="384.64" stroke="#141414" stroke-width="1.1"/>
<line x1="12.40" y1="392.58" x2="107.00" y2="392.58" stroke="#141414" stroke-width="1.1"/>
<line x1="12.40" y1="400.53" x2="107.00" y2="400.53" stroke="#141414" stroke-width="1.1"/>
<line x1="12.40" y1="408.47" x2="107.00" y2="408.47" stroke="#141414" stroke-width="1.1"/>
<line x1="12.40" y1="416.42" x2="107.00" y2="416.42" stroke="#141414" stroke-width="1.1"/>
<line x1="12.40" y1="424.37" x2="107.00" y2="424.37" stroke="#141414" stroke-width="1.1"/>
<line x1="12.40" y1="432.31" x2="107.00" y2="432.31" stroke="#141414" stroke-width="1.1"/>
<line x1="12.40" y1="440.26" x2="107.00" y2="440.26" stroke="#141414" stroke-width="1.1"/>
<line x1="12.40" y1="448.20" x2="107.00" y2="448.20" stroke="#141414" stroke-width="1.1"/>
<line x1="12.40" y1="456.15" x2="107.00" y2="456.15" stroke="#141414" stroke-width="1.1"/>
<line x1="12.40" y1="464.10" x2="107.00" y2="464.10" stroke="#141414" stroke-width="1.1"/>
<line x1="12.40" y1="472.04" x2="107.00" y2="472.04" stroke="#141414" stroke-width="1.1"/>
<line x1="12.40" y1="479.99" x2="107.00" y2="479.99" stroke="#141414" stroke-width="1.1"/>
<line x1="12.40" y1="487.93" x2="107.00" y2="487.93" stroke="#141414" stroke-width="1.1"/>
<line x1="12.40" y1="495.88" x2="107.00" y2="495.88" stroke="#141414" stroke-width="1.1"/>
<line x1="12.40" y1="503.83" x2="107.00" y2="503.83" stroke="#141414" stroke-width="1.1"/>
<line x1="12.40" y1="511.77" x2="107.00" y2="511.77" stroke="#141414" stroke-width="1.1"/>
<line x1="12.40" y1="519.72" x2="107.00" y2="519.72" stroke="#141414" stroke-width="1.1"/>
<line x1="12.40" y1="527.66" x2="107.00" y2="527.66" stroke="#141414" stroke-width="1.1"/>
<line x1="12.40" y1="535.61" x2="107.00" y2="535.61" stroke="#141414" stroke-width="1.1"/>
<line x1="12.40" y1="543.56" x2="107.00" y2="543.56" stroke="#141414" stroke-width="1.1"/>
<line x1="12.40" y1="551.50" x2="107.00" y2="551.50" stroke="#141414" stroke-width="1.1"/>
<line x1="12.40" y1="559.45" x2="107.00" y2="559.45" stroke="#141414" stroke-width="1.1"/>
<line x1="12.40" y1="567.39" x2="107.00" y2="567.39" stroke="#141414" stroke-width="1.1"/>
<line x1="12.40" y1="575.34" x2="107.00" y2="575.34" stroke="#141414" stroke-width="1.1"/>
<line x1="12.40" y1="583.29" x2="107.00" y2="583.29" stroke="#141414" stroke-width="1.1"/>
<line x1="12.40" y1="591.23" x2="107.00" y2="591.23" stroke="#141414" stroke-width="1.1"/>
<line x1="12.40" y1="599.18" x2="107.00" y2="599.18" stroke="#141414" stroke-width="1.1"/>
<line x1="12.40" y1="607.12" x2="107.00" y2="607.12" stroke="#141414" stroke-width="1.1"/>
<line x1="12.40" y1="615.07" x2="107.00" y2="615.07" stroke="#141414" stroke-width="1.1"/>
<line x1="12.40" y1="623.02" x2="107.00" y2="623.02" stroke="#141414" stroke-width="1.1"/>
<line x1="12.40" y1="630.96" x2="107.00" y2="630.96" stroke="#141414" stroke-width="1.1"/>
<line x1="12.40" y1="638.91" x2="107.00" y2="638.91" stroke="#141414" stroke-width="1.1"/>
<line x1="12.40" y1="646.85" x2="107.00" y2="646.85" stroke="#141414" stroke-width="1.1"/>
<line x1="12.40" y1="654.80" x2="107.00" y2="654.80" stroke="#141414" stroke-width="1.1"/>
<line x1="12.40" y1="662.75" x2="107.00" y2="662.75" stroke="#141414" stroke-width="1.1"/>
<line x1="12.40" y1="670.69" x2="107.00" y2="670.69" stroke="#141414" stroke-width="1.1"/>
<line x1="12.40" y1="678.64" x2="107.00" y2="678.64" stroke="#141414" stroke-width="1.1"/>
<line x1="12.40" y1="686.58" x2="107.00" y2="686.58" stroke="#141414" stroke-width="1.1"/>
<line x1="12.40" y1="694.53" x2="107.00" y2="694.53" stroke="#141414" stroke-width="1.1"/>
<line x1="12.40" y1="702.48" x2="107.00" y2="702.48" stroke="#141414" stroke-width="1.1"/>
<line x1="12.40" y1="710.42" x2="107.00" y2="710.42" stroke="#141414" stroke-width="1.1"/>
<line x1="12.40" y1="718.37" x2="107.00" y2="718.37" stroke="#141414" stroke-width="1.1"/>
<line x1="12.40" y1="726.31" x2="107.00" y2="726.31" stroke="#141414" stroke-width="1.1"/>
<line x1="12.40" y1="734.26" x2="107.00" y2="734.26" stroke="#141414" stroke-width="1.1"/>
<line x1="12.40" y1="742.21" x2="107.00" y2="742.21" stroke="#141414" stroke-width="1.1"/>
<line x1="12.40" y1="750.15" x2="107.00" y2="750.15" stroke="#141414" stroke-width="1.1"/>
<line x1="12.40" y1="758.10" x2="107.00" y2="758.10" stroke="#141414" stroke-width="1.1"/>
<line x1="12.40" y1="766.04" x2="107.00" y2="766.04" stroke="#141414" stroke-width="1.1"/>
<line x1="12.40" y1="773.99" x2="107.00" y2="773.99" stroke="#141414" stroke-width="1.1"/>
<line x1="12.40" y1="781.94" x2="107.00" y2="781.94" stroke="#141414" stroke-width="1.1"/>
<line x1="12.40" y1="789.88" x2="107.00" y2="789.88" stroke="#141414" stroke-width="1.1"/>
<line x1="12.40" y1="797.83" x2="107.00" y2="797.83" stroke="#141414" stroke-width="1.1"/>
<line x1="12.40" y1="805.77" x2="107.00" y2="805.77" stroke="#141414" stroke-width="1.1"/>
<line x1="12.40" y1="813.72" x2="107.00" y2="813.72" stroke="#141414" stroke-width="1.1"/>
<line x1="12.40" y1="821.67" x2="107.00" y2="821.67" stroke="#141414" stroke-width="1.1"/>
<line x1="12.40" y1="175.30" x2="12.40" y2="821.67" stroke="#141414" stroke-width="1.1"/>
<line x1="21.70" y1="175.30" x2="21.70" y2="821.67" stroke="#141414" stroke-width="1.1"/>
<line x1="31.40" y1="175.30" x2="31.40" y2="821.67" stroke="#141414" stroke-width="1.1"/>
<text x="19.25" y="239.40" font-size="6.2" textLength="57.7" lengthAdjust="spacingAndGlyphs" transform="rotate(-90 19.25 239.40)">NALM6_KO_untx_55.7</text>
<text x="28.75" y="239.40" font-size="6.2" textLength="58.8" lengthAdjust="spacingAndGlyphs" transform="rotate(-90 28.75 239.40)">NALM6_WT_untx_57.2</text>
<text x="35.00" y="186.60" font-size="10.9" textLength="23.6" lengthAdjust="spacingAndGlyphs">HSC</text>
<text x="38.20" y="253.80" font-size="10.4" textLength="54.5" lengthAdjust="spacingAndGlyphs">SampleName</text>
<rect x="184.30" y="257.50" width="9.80" height="7.95" fill="#c9223a"/>
<rect x="194.10" y="257.50" width="9.80" height="7.95" fill="#5e2a74"/>
<text x="206.50" y="264.10" font-size="6.3" textLength="13.4" lengthAdjust="spacingAndGlyphs">FLT3</text>
<rect x="184.30" y="265.45" width="9.80" height="7.95" fill="#c9223a"/>
<rect x="194.10" y="265.45" width="9.80" height="7.95" fill="#5e2a74"/>
<text x="206.50" y="272.05" font-size="6.3" textLength="14.5" lengthAdjust="spacingAndGlyphs">ELK3</text>
<rect x="184.30" y="273.39" width="9.80" height="7.95" fill="#c9223a"/>
<rect x="194.10" y="273.39" width="9.80" height="7.95" fill="#5e2a74"/>
<text x="206.50" y="279.99" font-size="6.3" textLength="20.7" lengthAdjust="spacingAndGlyphs">PRKCH</text>
<rect x="184.30" y="281.34" width="9.80" height="7.95" fill="#c9223a"/>
<rect x="194.10" y="281.34" width="9.80" height="7.95" fill="#5e2a74"/>
<text x="206.50" y="287.94" font-size="6.3" textLength="24.3" lengthAdjust="spacingAndGlyphs">FRMD4B</text>
<rect x="184.30" y="289.28" width="9.80" height="7.95" fill="#c9223a"/>
<rect x="194.10" y="289.28" width="9.80" height="7.95" fill="#5e2a74"/>
<text x="206.50" y="295.88" font-size="6.3" textLength="20.7" lengthAdjust="spacingAndGlyphs">DRAM1</text>
<rect x="184.30" y="297.23" width="9.80" height="7.95" fill="#c9223a"/>
<rect x="194.10" y="297.23" width="9.80" height="7.95" fill="#5e2a74"/>
<text x="206.50" y="303.83" font-size="6.3" textLength="16.8" lengthAdjust="spacingAndGlyphs">WBP5</text>
<rect x="184.30" y="305.18" width="9.80" height="7.95" fill="#c9223a"/>
<rect x="194.10" y="305.18" width="9.80" height="7.95" fill="#5e2a74"/>
<text x="206.50" y="311.78" font-size="6.3" textLength="12.8" lengthAdjust="spacingAndGlyphs">ERG</text>
<rect x="184.30" y="313.12" width="9.80" height="7.95" fill="#c9223a"/>
<rect x="194.10" y="313.12" width="9.80" height="7.95" fill="#5e2a74"/>
<text x="206.50" y="319.72" font-size="6.3" textLength="22.1" lengthAdjust="spacingAndGlyphs">RNF125</text>
<rect x="184.30" y="321.07" width="9.80" height="7.95" fill="#c9223a"/>
<rect x="194.10" y="321.07" width="9.80" height="7.95" fill="#5e2a74"/>
<text x="206.50" y="327.67" font-size="6.3" textLength="21.4" lengthAdjust="spacingAndGlyphs">ZNF165</text>
<rect x="184.30" y="329.01" width="9.80" height="7.95" fill="#c9223a"/>
<rect x="194.10" y="329.01" width="9.80" height="7.95" fill="#5e2a74"/>
<text x="206.50" y="335.61" font-size="6.3" textLength="21.1" lengthAdjust="spacingAndGlyphs">MYO5C</text>
<rect x="184.30" y="336.96" width="9.80" height="7.95" fill="#c9223a"/>
<rect x="194.10" y="336.96" width="9.80" height="7.95" fill="#5e2a74"/>
<text x="206.50" y="343.56" font-size="6.3" textLength="24.0" lengthAdjust="spacingAndGlyphs">CACNB2</text>
<rect x="184.30" y="344.91" width="9.80" height="7.95" fill="#c9223a"/>
<rect x="194.10" y="344.91" width="9.80" height="7.95" fill="#5e2a74"/>
<text x="206.50" y="351.51" font-size="6.3" textLength="28.6" lengthAdjust="spacingAndGlyphs">SLC25A36</text>
<rect x="184.30" y="352.85" width="9.80" height="7.95" fill="#c9223a"/>
<rect x="194.10" y="352.85" width="9.80" height="7.95" fill="#5e2a74"/>
<text x="206.50" y="359.45" font-size="6.3" textLength="23.0" lengthAdjust="spacingAndGlyphs">SPTBN1</text>
<rect x="184.30" y="360.80" width="9.80" height="7.95" fill="#c9223a"/>
<rect x="194.10" y="360.80" width="9.80" height="7.95" fill="#5e2a74"/>
<text x="206.50" y="367.40" font-size="6.3" textLength="15.1" lengthAdjust="spacingAndGlyphs">YES1</text>
<rect x="184.30" y="368.74" width="9.80" height="7.95" fill="#c9223a"/>
<rect x="194.10" y="368.74" width="9.80" height="7.95" fill="#5e2a74"/>
<text x="206.50" y="375.34" font-size="6.3" textLength="28.0" lengthAdjust="spacingAndGlyphs">TMEM38B</text>
<rect x="184.30" y="376.69" width="9.80" height="7.95" fill="#c9223a"/>
<rect x="194.10" y="376.69" width="9.80" height="7.95" fill="#5e2a74"/>
<text x="206.50" y="383.29" font-size="6.3" textLength="27.6" lengthAdjust="spacingAndGlyphs">GUCY1A3</text>
<rect x="184.30" y="384.64" width="9.80" height="7.95" fill="#c9223a"/>
<rect x="194.10" y="384.64" width="9.80" height="7.95" fill="#5e2a74"/>
<text x="206.50" y="391.24" font-size="6.3" textLength="30.0" lengthAdjust="spacingAndGlyphs">PPP1R16B</text>
<rect x="184.30" y="392.58" width="9.80" height="7.95" fill="#5e2a74"/>
<rect x="194.10" y="392.58" width="9.80" height="7.95" fill="#c9223a"/>
<text x="206.50" y="399.18" font-size="6.3" textLength="18.3" lengthAdjust="spacingAndGlyphs">KAT6A</text>
<rect x="184.30" y="400.53" width="9.80" height="7.95" fill="#5e2a74"/>
<rect x="194.10" y="400.53" width="9.80" height="7.95" fill="#c9223a"/>
<text x="206.50" y="407.13" font-size="6.3" textLength="21.6" lengthAdjust="spacingAndGlyphs">BCL11A</text>
<rect x="184.30" y="408.47" width="9.80" height="7.95" fill="#5e2a74"/>
<rect x="194.10" y="408.47" width="9.80" height="7.95" fill="#c9223a"/>
<text x="206.50" y="415.07" font-size="6.3" textLength="20.1" lengthAdjust="spacingAndGlyphs">SOCS2</text>
<line x1="184.30" y1="257.50" x2="287.00" y2="257.50" stroke="#141414" stroke-width="1.1"/>
<line x1="184.30" y1="265.45" x2="287.00" y2="265.45" stroke="#141414" stroke-width="1.1"/>
<line x1="184.30" y1="273.39" x2="287.00" y2="273.39" stroke="#141414" stroke-width="1.1"/>
<line x1="184.30" y1="281.34" x2="287.00" y2="281.34" stroke="#141414" stroke-width="1.1"/>
<line x1="184.30" y1="289.28" x2="287.00" y2="289.28" stroke="#141414" stroke-width="1.1"/>
<line x1="184.30" y1="297.23" x2="287.00" y2="297.23" stroke="#141414" stroke-width="1.1"/>
<line x1="184.30" y1="305.18" x2="287.00" y2="305.18" stroke="#141414" stroke-width="1.1"/>
<line x1="184.30" y1="313.12" x2="287.00" y2="313.12" stroke="#141414" stroke-width="1.1"/>
<line x1="184.30" y1="321.07" x2="287.00" y2="321.07" stroke="#141414" stroke-width="1.1"/>
<line x1="184.30" y1="329.01" x2="287.00" y2="329.01" stroke="#141414" stroke-width="1.1"/>
<line x1="184.30" y1="336.96" x2="287.00" y2="336.96" stroke="#141414" stroke-width="1.1"/>
<line x1="184.30" y1="344.91" x2="287.00" y2="344.91" stroke="#141414" stroke-width="1.1"/>
<line x1="184.30" y1="352.85" x2="287.00" y2="352.85" stroke="#141414" stroke-width="1.1"/>
<line x1="184.30" y1="360.80" x2="287.00" y2="360.80" stroke="#141414" stroke-width="1.1"/>
<line x1="184.30" y1="368.74" x2="287.00" y2="368.74" stroke="#141414" stroke-width="1.1"/>
<line x1="184.30" y1="376.69" x2="287.00" y2="376.69" stroke="#141414" stroke-width="1.1"/>
<line x1="184.30" y1="384.64" x2="287.00" y2="384.64" stroke="#141414" stroke-width="1.1"/>
<line x1="184.30" y1="392.58" x2="287.00" y2="392.58" stroke="#141414" stroke-width="1.1"/>
<line x1="184.30" y1="400.53" x2="287.00" y2="400.53" stroke="#141414" stroke-width="1.1"/>
<line x1="184.30" y1="408.47" x2="287.00" y2="408.47" stroke="#141414" stroke-width="1.1"/>
<line x1="184.30" y1="416.42" x2="287.00" y2="416.42" stroke="#141414" stroke-width="1.1"/>
<line x1="184.30" y1="175.30" x2="184.30" y2="416.42" stroke="#141414" stroke-width="1.1"/>
<line x1="194.10" y1="175.30" x2="194.10" y2="416.42" stroke="#141414" stroke-width="1.1"/>
<line x1="203.90" y1="175.30" x2="203.90" y2="416.42" stroke="#141414" stroke-width="1.1"/>
<text x="191.40" y="239.40" font-size="6.2" textLength="57.7" lengthAdjust="spacingAndGlyphs" transform="rotate(-90 191.40 239.40)">NALM6_KO_untx_55.7</text>
<text x="201.20" y="239.40" font-size="6.2" textLength="58.8" lengthAdjust="spacingAndGlyphs" transform="rotate(-90 201.20 239.40)">NALM6_WT_untx_57.2</text>
<text x="208.50" y="186.60" font-size="10.9" textLength="40.0" lengthAdjust="spacingAndGlyphs">AML SC</text>
<text x="208.50" y="201.20" font-size="10.9" textLength="65.0" lengthAdjust="spacingAndGlyphs">CE HSC LSC</text>
<text x="207.90" y="253.80" font-size="10.4" textLength="54.5" lengthAdjust="spacingAndGlyphs">SampleName</text>
<rect x="355.80" y="257.50" width="9.90" height="7.95" fill="#c9223a"/>
<rect x="365.70" y="257.50" width="9.70" height="7.95" fill="#5e2a74"/>
<text x="378.90" y="264.10" font-size="6.3" textLength="21.5" lengthAdjust="spacingAndGlyphs">STAT5A</text>
<rect x="355.80" y="265.45" width="9.90" height="7.95" fill="#c9223a"/>
<rect x="365.70" y="265.45" width="9.70" height="7.95" fill="#5e2a74"/>
<text x="378.90" y="272.05" font-size="6.3" textLength="18.8" lengthAdjust="spacingAndGlyphs">PTK2B</text>
<rect x="355.80" y="273.39" width="9.90" height="7.95" fill="#c9223a"/>
<rect x="365.70" y="273.39" width="9.70" height="7.95" fill="#5e2a74"/>
<text x="378.90" y="279.99" font-size="6.3" textLength="17.1" lengthAdjust="spacingAndGlyphs">IL2RG</text>
<rect x="355.80" y="281.34" width="9.90" height="7.95" fill="#c9223a"/>
<rect x="365.70" y="281.34" width="9.70" height="7.95" fill="#5e2a74"/>
<text x="378.90" y="287.94" font-size="6.3" textLength="11.8" lengthAdjust="spacingAndGlyphs">FYN</text>
<rect x="355.80" y="289.28" width="9.90" height="7.95" fill="#c9223a"/>
<rect x="365.70" y="289.28" width="9.70" height="7.95" fill="#5e2a74"/>
<text x="378.90" y="295.88" font-size="6.3" textLength="12.5" lengthAdjust="spacingAndGlyphs">IL7R</text>
<rect x="355.80" y="297.23" width="9.90" height="7.95" fill="#c9223a"/>
<rect x="365.70" y="297.23" width="9.70" height="7.95" fill="#5e2a74"/>
<text x="378.90" y="303.83" font-size="6.3" textLength="21.7" lengthAdjust="spacingAndGlyphs">PIK3CG</text>
<rect x="355.80" y="305.18" width="9.90" height="7.95" fill="#c9223a"/>
<rect x="365.70" y="305.18" width="9.70" height="7.95" fill="#5e2a74"/>
<text x="378.90" y="311.78" font-size="6.3" textLength="14.2" lengthAdjust="spacingAndGlyphs">JAK3</text>
<rect x="355.80" y="313.12" width="9.90" height="7.95" fill="#c9223a"/>
<rect x="365.70" y="313.12" width="9.70" height="7.95" fill="#5e2a74"/>
<text x="378.90" y="319.72" font-size="6.3" textLength="14.8" lengthAdjust="spacingAndGlyphs">BCL2</text>
<rect x="355.80" y="321.07" width="9.90" height="7.95" fill="#c9223a"/>
<rect x="365.70" y="321.07" width="9.70" height="7.95" fill="#5e2a74"/>
<text x="378.90" y="327.67" font-size="6.3" textLength="10.9" lengthAdjust="spacingAndGlyphs">NMI</text>
<rect x="355.80" y="329.01" width="9.90" height="7.95" fill="#c9223a"/>
<rect x="365.70" y="329.01" width="9.70" height="7.95" fill="#5e2a74"/>
<text x="378.90" y="335.61" font-size="6.3" textLength="21.5" lengthAdjust="spacingAndGlyphs">STAT5B</text>
<rect x="355.80" y="336.96" width="9.90" height="7.95" fill="#c9223a"/>
<rect x="365.70" y="336.96" width="9.70" height="7.95" fill="#5e2a74"/>
<text x="378.90" y="343.56" font-size="6.3" textLength="14.2" lengthAdjust="spacingAndGlyphs">JAK1</text>
<rect x="355.80" y="344.91" width="9.90" height="7.95" fill="#5e2a74"/>
<rect x="365.70" y="344.91" width="9.70" height="7.95" fill="#c9223a"/>
<text x="378.90" y="351.51" font-size="6.3" textLength="20.4" lengthAdjust="spacingAndGlyphs">PIK3R1</text>
<rect x="355.80" y="352.85" width="9.90" height="7.95" fill="#5e2a74"/>
<rect x="365.70" y="352.85" width="9.70" height="7.95" fill="#c9223a"/>
<text x="378.90" y="359.45" font-size="6.3" textLength="21.1" lengthAdjust="spacingAndGlyphs">PIK3CA</text>
<rect x="355.80" y="360.80" width="9.90" height="7.95" fill="#5e2a74"/>
<rect x="365.70" y="360.80" width="9.70" height="7.95" fill="#c9223a"/>
<text x="378.90" y="367.40" font-size="6.3" textLength="17.8" lengthAdjust="spacingAndGlyphs">EP300</text>
<rect x="355.80" y="368.74" width="9.90" height="7.95" fill="#5e2a74"/>
<rect x="365.70" y="368.74" width="9.70" height="7.95" fill="#c9223a"/>
<text x="378.90" y="375.34" font-size="6.3" textLength="24.4" lengthAdjust="spacingAndGlyphs">CREBBP</text>
<rect x="355.80" y="376.69" width="9.90" height="7.95" fill="#5e2a74"/>
<rect x="365.70" y="376.69" width="9.70" height="7.95" fill="#c9223a"/>
<text x="378.90" y="383.29" font-size="6.3" textLength="11.5" lengthAdjust="spacingAndGlyphs">LCK</text>
<line x1="355.80" y1="257.50" x2="462.70" y2="257.50" stroke="#141414" stroke-width="1.1"/>
<line x1="355.80" y1="265.45" x2="462.70" y2="265.45" stroke="#141414" stroke-width="1.1"/>
<line x1="355.80" y1="273.39" x2="462.70" y2="273.39" stroke="#141414" stroke-width="1.1"/>
<line x1="355.80" y1="281.34" x2="462.70" y2="281.34" stroke="#141414" stroke-width="1.1"/>
<line x1="355.80" y1="289.28" x2="462.70" y2="289.28" stroke="#141414" stroke-width="1.1"/>
<line x1="355.80" y1="297.23" x2="462.70" y2="297.23" stroke="#141414" stroke-width="1.1"/>
<line x1="355.80" y1="305.18" x2="462.70" y2="305.18" stroke="#141414" stroke-width="1.1"/>
<line x1="355.80" y1="313.12" x2="462.70" y2="313.12" stroke="#141414" stroke-width="1.1"/>
<line x1="355.80" y1="321.07" x2="462.70" y2="321.07" stroke="#141414" stroke-width="1.1"/>
<line x1="355.80" y1="329.01" x2="462.70" y2="329.01" stroke="#141414" stroke-width="1.1"/>
<line x1="355.80" y1="336.96" x2="462.70" y2="336.96" stroke="#141414" stroke-width="1.1"/>
<line x1="355.80" y1="344.91" x2="462.70" y2="344.91" stroke="#141414" stroke-width="1.1"/>
<line x1="355.80" y1="352.85" x2="462.70" y2="352.85" stroke="#141414" stroke-width="1.1"/>
<line x1="355.80" y1="360.80" x2="462.70" y2="360.80" stroke="#141414" stroke-width="1.1"/>
<line x1="355.80" y1="368.74" x2="462.70" y2="368.74" stroke="#141414" stroke-width="1.1"/>
<line x1="355.80" y1="376.69" x2="462.70" y2="376.69" stroke="#141414" stroke-width="1.1"/>
<line x1="355.80" y1="384.64" x2="462.70" y2="384.64" stroke="#141414" stroke-width="1.1"/>
<line x1="355.80" y1="175.30" x2="355.80" y2="384.64" stroke="#141414" stroke-width="1.1"/>
<line x1="365.70" y1="175.30" x2="365.70" y2="384.64" stroke="#141414" stroke-width="1.1"/>
<line x1="375.40" y1="175.30" x2="375.40" y2="384.64" stroke="#141414" stroke-width="1.1"/>
<text x="362.95" y="239.40" font-size="6.2" textLength="57.7" lengthAdjust="spacingAndGlyphs" transform="rotate(-90 362.95 239.40)">NALM6_KO_untx_55.7</text>
<text x="372.75" y="239.40" font-size="6.2" textLength="58.8" lengthAdjust="spacingAndGlyphs" transform="rotate(-90 372.75 239.40)">NALM6_WT_untx_57.2</text>
<text x="379.80" y="186.60" font-size="10.9" textLength="14.2" lengthAdjust="spacingAndGlyphs">IL7</text>
<text x="380.70" y="253.80" font-size="10.4" textLength="54.5" lengthAdjust="spacingAndGlyphs">SampleName</text>
<text x="9.40" y="19.60" font-size="14.2" textLength="9.2" lengthAdjust="spacingAndGlyphs" font-weight="bold" stroke="#000" stroke-width="0.35">A</text>
<line x1="154.30" y1="459.90" x2="154.30" y2="744.20" stroke="#000" stroke-width="1.1"/>
<line x1="149.20" y1="744.20" x2="154.30" y2="744.20" stroke="#000" stroke-width="1.1"/>
<text x="145.70" y="747.40" font-size="9.0" text-anchor="end" textLength="4.8" lengthAdjust="spacingAndGlyphs" stroke="#000" stroke-width="0.15">0</text>
<line x1="149.20" y1="696.83" x2="154.30" y2="696.83" stroke="#000" stroke-width="1.1"/>
<text x="145.70" y="700.03" font-size="9.0" text-anchor="end" textLength="4.8" lengthAdjust="spacingAndGlyphs" stroke="#000" stroke-width="0.15">1</text>
<line x1="149.20" y1="649.46" x2="154.30" y2="649.46" stroke="#000" stroke-width="1.1"/>
<text x="145.70" y="652.66" font-size="9.0" text-anchor="end" textLength="4.8" lengthAdjust="spacingAndGlyphs" stroke="#000" stroke-width="0.15">2</text>
<line x1="149.20" y1="602.09" x2="154.30" y2="602.09" stroke="#000" stroke-width="1.1"/>
<text x="145.70" y="605.29" font-size="9.0" text-anchor="end" textLength="4.8" lengthAdjust="spacingAndGlyphs" stroke="#000" stroke-width="0.15">3</text>
<line x1="149.20" y1="554.72" x2="154.30" y2="554.72" stroke="#000" stroke-width="1.1"/>
<text x="145.70" y="557.92" font-size="9.0" text-anchor="end" textLength="4.8" lengthAdjust="spacingAndGlyphs" stroke="#000" stroke-width="0.15">4</text>
<line x1="149.20" y1="507.35" x2="154.30" y2="507.35" stroke="#000" stroke-width="1.1"/>
<text x="145.70" y="510.55" font-size="9.0" text-anchor="end" textLength="4.8" lengthAdjust="spacingAndGlyphs" stroke="#000" stroke-width="0.15">5</text>
<line x1="149.20" y1="459.98" x2="154.30" y2="459.98" stroke="#000" stroke-width="1.1"/>
<text x="145.70" y="463.18" font-size="9.0" text-anchor="end" textLength="4.8" lengthAdjust="spacingAndGlyphs" stroke="#000" stroke-width="0.15">6</text>
<text x="134.40" y="602.60" font-size="10.0" text-anchor="middle" textLength="41.6" lengthAdjust="spacingAndGlyphs" transform="rotate(-90 134.40 602.60)" stroke="#000" stroke-width="0.15">-log10(pval)</text>
<line x1="237.25" y1="755.50" x2="417.75" y2="755.50" stroke="#000" stroke-width="1.1"/>
<line x1="237.25" y1="755.50" x2="237.25" y2="760.20" stroke="#000" stroke-width="1.1"/>
<text x="236.15" y="768.60" font-size="8.2" text-anchor="middle" textLength="7.6" lengthAdjust="spacingAndGlyphs" stroke="#000" stroke-width="0.15">-5</text>
<line x1="327.50" y1="755.50" x2="327.50" y2="760.20" stroke="#000" stroke-width="1.1"/>
<text x="327.50" y="768.60" font-size="8.2" text-anchor="middle" textLength="4.3" lengthAdjust="spacingAndGlyphs" stroke="#000" stroke-width="0.15">0</text>
<line x1="417.75" y1="755.50" x2="417.75" y2="760.20" stroke="#000" stroke-width="1.1"/>
<text x="417.75" y="768.60" font-size="8.2" text-anchor="middle" textLength="4.3" lengthAdjust="spacingAndGlyphs" stroke="#000" stroke-width="0.15">5</text>
<text x="282.80" y="781.50" font-size="10.0" textLength="89.4" lengthAdjust="spacingAndGlyphs" stroke="#000" stroke-width="0.15">Log2 expression(KO/WT)</text>
<text x="125.60" y="442.90" font-size="13.7" textLength="8.3" lengthAdjust="spacingAndGlyphs" font-weight="bold" stroke="#000" stroke-width="0.4">B</text>
<polygon points="320.4,688 329.6,688 331,714 332.4,688 341.4,688 341.4,735.6 331.1,744.5 320.4,735.6" fill="#6e6e6e"/>
<path d="M330.1 740.2h0M328.5 721.1h0M324.1 705.4h0M337.3 732.6h0M328.2 734.6h0M332.7 731.2h0M332.4 734.3h0M329.4 735.5h0M339.2 655.4h0M328.9 738.8h0M326.9 711.3h0M335.1 734.0h0M328.6 726.8h0M330.7 742.2h0M330.8 743.3h0M326.6 735.2h0M328.8 739.2h0M332.6 730.2h0M335.0 737.0h0M331.5 740.6h0M329.3 740.7h0M332.6 734.6h0M334.1 726.2h0M331.2 740.8h0M323.3 722.1h0M337.9 693.5h0M308.9 710.8h0M322.6 651.6h0M327.2 698.5h0M325.2 725.2h0M327.4 738.3h0M333.5 716.3h0M328.6 726.6h0M328.6 735.3h0M329.5 729.3h0M332.9 739.3h0M334.5 722.1h0M329.9 733.7h0M319.4 711.8h0M319.3 718.3h0M321.9 726.2h0M333.6 709.5h0M333.8 726.4h0M329.5 722.2h0M329.0 721.9h0M325.5 729.1h0M332.8 729.7h0M332.2 742.2h0M334.8 732.9h0M328.7 735.4h0M332.2 728.1h0M333.0 732.3h0M317.5 717.4h0M332.8 724.8h0M346.5 713.0h0M327.4 740.4h0M333.7 715.2h0M336.4 706.3h0M329.0 733.9h0M334.1 731.1h0M323.3 720.3h0M326.2 716.1h0M324.9 733.0h0M332.1 731.0h0M327.9 738.8h0M337.2 719.9h0M339.3 732.5h0M332.2 736.3h0M319.6 722.9h0M333.2 724.5h0M337.4 701.7h0M320.4 733.2h0M341.8 727.5h0M334.1 742.2h0M323.1 701.2h0M328.6 718.4h0M332.5 718.8h0M335.5 730.8h0M294.9 706.4h0M333.2 734.4h0M327.8 738.3h0M328.1 727.0h0M322.3 716.0h0M326.5 723.4h0M337.0 719.4h0M336.0 732.6h0M309.9 683.3h0M337.2 735.5h0M326.5 721.4h0M333.8 717.1h0M333.2 717.4h0M328.7 709.4h0M333.7 703.3h0M353.6 710.0h0M337.7 715.8h0M328.5 711.6h0M316.8 699.0h0M334.7 729.4h0M336.9 724.4h0M321.8 695.5h0M327.7 714.5h0M337.6 714.7h0M334.9 697.0h0M334.1 729.9h0M341.5 697.0h0M319.9 724.9h0M337.9 722.4h0M322.3 730.6h0M328.2 726.4h0M324.8 709.1h0M325.7 726.2h0M328.8 730.5h0M322.5 721.6h0M326.3 737.0h0M347.1 734.1h0M337.9 735.1h0M325.6 727.2h0M351.0 703.7h0M330.2 735.5h0M334.1 716.8h0M341.5 732.3h0M328.3 728.2h0M341.0 674.3h0M318.4 697.9h0M349.8 693.3h0M335.9 701.2h0M327.6 730.0h0M332.4 724.8h0M327.3 719.2h0M334.9 732.0h0M337.7 705.6h0M311.1 711.0h0M326.5 700.5h0M341.1 696.8h0M331.8 732.4h0M342.2 726.0h0M327.5 735.2h0M331.7 734.7h0M331.9 735.6h0M334.4 710.8h0M329.1 724.6h0M342.0 727.3h0M326.7 709.6h0M325.4 737.9h0M305.2 700.9h0M333.1 740.6h0M328.5 718.1h0M333.2 737.2h0M321.1 707.7h0M324.7 702.4h0M329.4 722.2h0M309.1 695.4h0M320.0 733.2h0M337.6 698.4h0M320.1 706.2h0M325.2 715.0h0M328.8 727.2h0M334.0 738.9h0M335.5 704.8h0M324.0 729.1h0M323.4 695.0h0M335.1 711.0h0M324.7 705.0h0M334.2 726.3h0M321.9 737.4h0M330.2 730.6h0M332.3 709.1h0M308.4 725.2h0M340.1 721.3h0M318.6 713.9h0M319.0 727.0h0M336.4 708.6h0M334.7 735.9h0M335.0 705.3h0M326.6 727.4h0M333.4 719.4h0M338.9 710.9h0M329.0 717.2h0M315.4 707.5h0M310.7 703.2h0M307.5 716.0h0M334.9 733.4h0M312.3 699.9h0M318.0 701.9h0M335.7 734.2h0M334.4 726.0h0M328.4 722.3h0M352.4 718.3h0M334.6 700.7h0M346.7 726.2h0M318.1 717.3h0M329.1 723.9h0M335.3 722.5h0M327.5 742.5h0M342.9 729.6h0M320.4 704.7h0M329.8 722.6h0M328.3 708.3h0M335.6 724.2h0M327.5 735.8h0M340.9 731.5h0M325.0 733.3h0M311.0 710.2h0M353.4 726.9h0M322.9 719.7h0M335.7 726.9h0M339.6 730.0h0M350.5 721.5h0M335.3 733.2h0M324.2 734.7h0M332.7 710.5h0M336.4 707.1h0M327.6 730.5h0M336.5 725.6h0M337.0 702.5h0M326.1 722.8h0M326.2 733.7h0M315.5 723.4h0M334.3 739.8h0M325.0 712.9h0M321.3 730.9h0M332.9 702.0h0M327.8 735.1h0M324.3 726.4h0M353.4 720.8h0M335.6 704.6h0M338.8 721.1h0M328.8 742.7h0M344.7 688.5h0M324.1 728.8h0M341.2 714.0h0M325.3 723.0h0M338.9 694.8h0M342.8 711.6h0M325.9 738.9h0M318.8 710.7h0M343.4 709.0h0M338.9 730.4h0M339.9 716.1h0M327.7 718.5h0M342.0 723.8h0M338.2 726.4h0M326.7 736.0h0M318.3 702.8h0M337.2 716.9h0M344.3 725.3h0M321.8 702.6h0M340.6 703.1h0M326.2 714.5h0M322.2 713.0h0M335.9 724.5h0M319.4 719.8h0M316.7 733.9h0M322.9 709.9h0M326.8 737.2h0M327.3 711.8h0M334.8 704.5h0M335.1 736.5h0M331.9 712.3h0M337.3 694.7h0M339.4 702.0h0M347.2 712.6h0M339.9 684.6h0M349.4 717.3h0M338.0 713.2h0M332.8 723.0h0M329.4 719.1h0M336.0 734.4h0M350.8 682.5h0M361.6 701.2h0M340.2 734.9h0M337.0 721.0h0M338.6 741.1h0M326.9 720.4h0M340.3 713.5h0M315.2 726.7h0M334.7 704.1h0M322.5 705.9h0M321.5 713.0h0M317.5 715.0h0M335.8 719.9h0M357.7 716.4h0M328.3 713.6h0M326.6 710.2h0M336.1 708.8h0M335.5 691.9h0M339.1 700.8h0M322.2 730.7h0M338.3 703.6h0M341.2 714.0h0M337.3 728.4h0M314.9 696.9h0M342.5 737.5h0M333.6 696.9h0M342.5 734.6h0M328.4 696.2h0M322.6 714.0h0M327.9 728.2h0M303.7 708.4h0M343.9 733.6h0M326.6 705.0h0M335.5 717.0h0M340.0 727.6h0M335.0 708.8h0M338.9 709.7h0M328.0 679.8h0M340.3 722.4h0M338.0 672.4h0M323.5 684.6h0M338.5 720.8h0M321.9 719.3h0M330.1 727.7h0M356.3 713.7h0M322.9 721.6h0M325.7 688.6h0M339.0 721.7h0M323.8 692.3h0M324.2 702.7h0M325.4 725.5h0M352.2 704.3h0M326.6 707.0h0M351.4 701.5h0M342.1 734.2h0M315.6 711.7h0M323.4 732.8h0M323.1 716.3h0M327.4 699.1h0M335.7 722.5h0M324.6 734.8h0M324.9 730.7h0M337.4 687.6h0M374.1 696.4h0M308.4 711.0h0M339.1 724.2h0M341.2 725.5h0M318.5 722.8h0M328.0 700.6h0M341.1 725.0h0M327.4 704.5h0M337.9 718.2h0M335.2 710.8h0M325.7 724.0h0M350.7 701.6h0M344.0 728.2h0M336.0 693.3h0M328.1 708.2h0M339.0 705.7h0M338.4 689.2h0M335.3 739.4h0M310.7 704.5h0M345.5 697.6h0M313.3 721.8h0M324.2 735.8h0M327.2 687.2h0M354.1 693.6h0M331.6 730.4h0M315.1 706.5h0M348.4 693.1h0M323.1 732.7h0M327.8 704.7h0M324.8 708.2h0M322.1 710.7h0M323.0 723.0h0M319.2 735.0h0M318.5 709.0h0M336.4 722.0h0M335.1 714.7h0M342.5 694.7h0M340.5 705.7h0M330.0 731.5h0M326.8 696.2h0M355.3 682.4h0M324.4 705.5h0M325.0 725.4h0M339.3 715.2h0M327.3 697.0h0M337.9 677.5h0M323.0 725.5h0M325.0 703.4h0M325.7 710.7h0M336.4 681.8h0M344.5 723.0h0M346.9 728.3h0M336.8 700.2h0M318.3 722.4h0M341.3 706.8h0M323.5 697.2h0M320.9 716.2h0M339.4 726.5h0M334.7 719.3h0M326.3 683.5h0M338.1 729.7h0M306.7 718.8h0M341.2 724.0h0M329.4 711.0h0M313.6 682.5h0M327.7 741.1h0M319.7 713.0h0M336.2 722.3h0M322.1 719.0h0M292.8 709.7h0M325.2 686.2h0M339.4 705.2h0M324.8 717.8h0M336.5 701.1h0M328.4 711.7h0M320.3 703.4h0M350.4 718.4h0M214.5 725.0h0M387.0 705.5h0M433.5 723.0h0M446.3 713.8h0M325.8 560.5h0M326.5 627.7h0M441.9 722.6h0M209.7 724.8h0" stroke="#6c6c6c" stroke-opacity=".36" stroke-width="3.2" stroke-linecap="round" fill="none"/>
<path d="M327.3 715.2h0M341.6 719.8h0M318.3 686.7h0M324.4 715.9h0M337.9 733.3h0M323.5 712.6h0M330.6 743.1h0M332.7 723.8h0M326.3 731.0h0M329.8 738.2h0M326.4 721.6h0M343.2 722.7h0M325.0 721.7h0M301.4 685.5h0M327.3 692.2h0M331.1 743.5h0M338.2 721.6h0M349.9 683.3h0M339.5 708.2h0M315.9 721.5h0M331.5 743.2h0M332.7 735.9h0M334.4 718.4h0M331.0 743.8h0M330.7 743.4h0M330.3 742.8h0M332.5 732.4h0M330.6 740.4h0M332.5 734.4h0M324.5 737.7h0M328.9 739.6h0M326.2 738.1h0M328.8 736.2h0M331.0 743.5h0M337.6 714.7h0M327.6 732.1h0M331.5 743.1h0M334.4 708.4h0M322.5 718.8h0M335.5 738.5h0M327.6 707.7h0M336.8 700.5h0M331.2 741.9h0M324.1 732.6h0M323.4 733.8h0M329.8 730.8h0M325.3 731.2h0M325.1 727.2h0M326.9 715.0h0M333.7 739.0h0M334.2 722.3h0M329.1 732.1h0M320.8 739.3h0M323.6 699.5h0M341.6 725.7h0M329.0 736.2h0M336.7 715.3h0M332.7 733.7h0M332.0 734.5h0M305.0 701.1h0M330.2 733.9h0M325.2 686.6h0M332.1 722.3h0M328.6 741.8h0M337.2 686.0h0M340.7 719.4h0M327.4 736.9h0M334.3 729.0h0M333.8 735.6h0M319.9 728.6h0M336.4 727.9h0M333.0 736.6h0M317.7 698.8h0M329.0 739.3h0M333.9 712.4h0M312.2 682.4h0M337.8 715.4h0M338.8 717.5h0M322.5 712.3h0M336.2 714.4h0M333.2 722.0h0M325.8 723.7h0M334.8 728.2h0M321.7 723.9h0M337.4 694.0h0M323.4 699.9h0M333.5 717.8h0M332.1 725.9h0M336.9 714.5h0M333.9 734.1h0M322.8 710.5h0M328.1 728.2h0M336.3 725.2h0M323.7 715.9h0M328.2 738.0h0M328.8 730.1h0M328.7 740.9h0M320.1 704.8h0M332.7 732.7h0M333.2 726.1h0M344.4 724.2h0M328.7 741.0h0M337.0 725.8h0M326.1 734.1h0M338.8 710.8h0M335.0 712.3h0M332.5 729.1h0M327.7 738.4h0M327.6 718.4h0M329.2 725.2h0M332.6 741.2h0M334.8 734.8h0M337.5 731.2h0M333.8 730.7h0M325.9 715.1h0M335.9 733.6h0M335.2 725.5h0M322.1 722.1h0M329.0 719.3h0M317.2 706.0h0M328.5 726.7h0M332.0 728.0h0M320.0 706.5h0M335.1 717.3h0M334.9 729.6h0M325.7 733.1h0M315.3 724.5h0M315.2 711.6h0M327.7 734.7h0M328.3 723.9h0M329.6 734.7h0M339.9 714.0h0M334.5 731.7h0M332.4 723.9h0M299.2 682.3h0M340.6 724.6h0M336.1 730.7h0M353.4 682.4h0M334.2 679.3h0M328.9 732.6h0M335.9 712.9h0M335.3 734.4h0M334.7 728.0h0M334.6 731.5h0M333.2 740.2h0M329.3 725.7h0M315.5 719.4h0M339.7 704.4h0M350.4 692.0h0M337.9 722.2h0M322.5 711.2h0M335.5 724.1h0M336.3 663.8h0M329.1 728.0h0M334.3 738.8h0M339.8 727.5h0M325.5 709.1h0M337.8 738.0h0M318.1 713.0h0M290.1 699.8h0M331.7 732.6h0M320.4 716.9h0M311.4 700.6h0M328.8 704.6h0M336.3 725.1h0M324.3 720.8h0M335.6 721.8h0M344.1 691.0h0M324.0 702.5h0M342.9 713.7h0M333.5 709.0h0M334.5 735.6h0M339.8 716.3h0M329.3 725.6h0M329.7 719.5h0M339.8 723.7h0M326.2 713.5h0M326.4 722.3h0M293.0 703.8h0M322.6 698.2h0M329.1 729.4h0M323.6 710.4h0M340.6 720.7h0M325.6 700.6h0M322.4 716.3h0M324.9 722.5h0M337.7 740.9h0M340.8 725.1h0M340.2 732.1h0M339.3 722.4h0M316.2 723.3h0M326.4 732.2h0M334.6 728.1h0M326.1 734.7h0M324.3 715.2h0M317.6 722.3h0M330.1 735.0h0M322.1 689.4h0M333.4 715.6h0M334.8 702.3h0M350.3 700.5h0M320.9 730.7h0M325.4 724.6h0M343.3 731.9h0M326.3 735.1h0M327.8 722.0h0M342.2 708.7h0M321.5 691.8h0M334.4 729.9h0M339.0 731.2h0M326.6 709.1h0M343.7 703.4h0M337.7 706.7h0M328.5 708.2h0M335.4 721.9h0M310.2 721.7h0M342.2 712.9h0M298.2 695.3h0M323.6 697.4h0M320.9 701.8h0M341.1 716.9h0M339.7 722.1h0M328.1 715.2h0M335.8 735.1h0M328.5 713.1h0M325.0 719.9h0M341.2 716.8h0M325.5 735.5h0M338.0 731.2h0M341.4 710.6h0M333.3 699.8h0M320.8 731.3h0M334.2 708.5h0M325.8 731.1h0M326.2 704.7h0M334.9 698.4h0M335.1 722.5h0M307.9 723.8h0M331.6 729.5h0M337.2 693.4h0M321.9 700.5h0M319.8 717.2h0M336.6 721.6h0M328.9 712.4h0M334.0 713.8h0M320.5 717.9h0M331.9 728.2h0M336.3 648.1h0M329.1 718.2h0M305.1 704.5h0M333.4 722.7h0M339.9 721.8h0M342.7 731.0h0M325.2 722.1h0M332.9 701.2h0M323.3 708.3h0M320.1 716.5h0M316.7 718.0h0M327.9 711.9h0M334.0 712.5h0M335.0 727.3h0M338.8 728.5h0M320.6 713.2h0M344.5 726.3h0M315.8 681.7h0M335.0 731.1h0M338.6 729.5h0M320.0 690.8h0M337.7 714.8h0M338.5 730.3h0M332.6 707.5h0M327.5 689.3h0M316.0 723.4h0M343.5 729.4h0M324.0 692.8h0M319.5 713.3h0M303.3 709.0h0M346.5 690.4h0M330.1 731.3h0M339.2 720.8h0M306.9 711.3h0M325.2 697.2h0M320.8 701.4h0M335.0 714.6h0M318.7 684.0h0M338.0 733.5h0M323.5 683.4h0M326.7 700.2h0M325.2 716.8h0M324.6 717.3h0M323.4 729.8h0M335.7 736.3h0M315.2 690.2h0M334.2 699.8h0M324.1 720.4h0M328.7 713.3h0M336.8 700.1h0M337.1 737.7h0M346.4 733.4h0M317.6 706.7h0M324.3 707.1h0M339.3 714.8h0M327.6 713.3h0M323.3 716.8h0M336.4 723.6h0M326.3 702.0h0M323.4 700.8h0M319.6 710.6h0M335.1 691.8h0M341.3 721.1h0M335.2 725.6h0M321.3 726.3h0M325.3 719.5h0M337.7 711.8h0M325.1 720.4h0M328.4 688.6h0M327.7 715.2h0M338.6 733.9h0M341.7 713.3h0M325.0 720.8h0M340.1 699.1h0M338.3 723.6h0M334.6 689.6h0M335.6 713.3h0M324.1 712.0h0M328.0 714.0h0M325.7 726.3h0M342.3 712.2h0M336.4 693.7h0M314.9 688.6h0M393.1 689.9h0M332.8 714.8h0M320.6 711.8h0M329.2 719.2h0M329.0 698.9h0M334.9 709.5h0M316.7 701.4h0M327.2 697.4h0M338.7 716.5h0M340.2 707.6h0M300.5 724.2h0M336.4 723.7h0M303.1 691.5h0M320.6 707.0h0M304.4 707.3h0M311.4 718.2h0M335.1 710.3h0M326.2 712.0h0M326.5 702.9h0M325.5 712.6h0M321.3 714.1h0M321.2 726.2h0M337.3 720.9h0M337.3 704.4h0M333.3 705.6h0M339.8 702.2h0M342.4 713.4h0M336.3 715.6h0M340.3 710.8h0M327.4 720.6h0M337.6 723.2h0M338.0 706.2h0M336.1 735.1h0M327.6 709.9h0M325.5 739.9h0M340.9 705.1h0M322.6 679.2h0M323.0 649.3h0M329.0 705.7h0M325.8 717.1h0M332.0 731.1h0M342.2 685.4h0M308.4 696.4h0M337.7 730.4h0M326.9 719.8h0M321.3 709.7h0M326.8 712.4h0M344.2 716.8h0M320.6 689.9h0M330.1 730.5h0M321.4 702.4h0M323.6 701.7h0M334.4 711.8h0M339.9 730.9h0M339.3 719.2h0M338.7 702.2h0M321.1 692.7h0M324.8 736.7h0M320.8 695.7h0M317.7 734.0h0M334.3 709.5h0M317.2 725.0h0M328.1 712.6h0M345.8 715.1h0M333.4 742.3h0M323.0 723.9h0M320.4 663.3h0M322.6 700.0h0M323.0 723.8h0M341.5 729.8h0M337.5 705.5h0M337.6 738.7h0M339.4 730.7h0M334.8 703.3h0M327.5 714.9h0M321.6 699.4h0M316.7 718.7h0M344.8 726.7h0M217.0 725.0h0M397.5 710.0h0M435.5 723.0h0M449.5 723.0h0M325.4 567.4h0M321.5 632.0h0M438.3 722.6h0M217.9 725.0h0" stroke="#6c6c6c" stroke-opacity=".36" stroke-width="3.2" stroke-linecap="round" fill="none"/>
<path d="M290.0 710.4h0M329.8 740.3h0M330.0 736.3h0M330.6 742.8h0M333.3 720.0h0M324.3 695.8h0M331.4 740.5h0M330.2 740.4h0M330.2 742.6h0M330.8 742.8h0M329.3 742.0h0M340.8 710.0h0M328.4 739.1h0M332.1 735.9h0M330.3 737.9h0M338.6 727.3h0M321.7 720.2h0M330.4 741.6h0M329.5 733.5h0M329.7 737.1h0M333.8 722.6h0M316.6 716.5h0M339.0 702.1h0M332.2 728.6h0M331.6 733.6h0M330.3 741.4h0M330.8 743.8h0M334.4 719.7h0M328.5 732.2h0M327.6 739.0h0M333.4 733.9h0M333.6 730.1h0M329.4 732.1h0M319.9 706.4h0M331.7 742.0h0M332.3 728.8h0M338.0 699.9h0M352.2 713.5h0M322.8 727.2h0M332.3 715.2h0M329.9 740.5h0M336.9 737.5h0M330.1 735.9h0M316.5 693.8h0M335.4 701.3h0M325.3 721.8h0M331.7 739.0h0M320.2 723.2h0M338.8 714.6h0M324.2 714.2h0M338.2 702.3h0M337.6 721.7h0M333.5 698.3h0M343.2 713.0h0M330.3 736.3h0M337.9 721.1h0M338.7 693.9h0M332.8 731.1h0M328.5 708.5h0M333.1 738.4h0M325.0 712.9h0M328.5 716.3h0M327.6 689.8h0M328.1 736.8h0M322.2 720.4h0M325.9 732.3h0M323.3 702.7h0M323.8 726.5h0M329.7 739.8h0M328.0 704.5h0M337.3 727.1h0M327.5 717.4h0M328.3 718.5h0M327.6 736.5h0M333.8 709.6h0M353.3 711.3h0M388.8 693.4h0M325.4 719.1h0M332.1 741.4h0M328.7 741.1h0M333.5 741.4h0M338.0 670.0h0M325.1 736.2h0M336.4 730.9h0M330.2 733.7h0M334.1 721.0h0M320.7 674.8h0M328.5 705.6h0M330.1 739.9h0M341.1 700.4h0M327.8 733.5h0M332.5 743.0h0M329.1 729.0h0M326.5 711.4h0M310.9 704.5h0M338.5 724.5h0M334.7 735.1h0M337.7 724.9h0M325.4 715.8h0M334.4 722.6h0M327.6 717.0h0M328.6 729.4h0M332.6 727.3h0M336.8 729.1h0M313.6 720.0h0M338.4 684.7h0M327.5 722.9h0M352.5 719.3h0M340.0 668.5h0M314.0 696.8h0M320.6 731.6h0M334.9 736.7h0M336.9 732.5h0M332.7 727.1h0M333.9 741.9h0M333.6 707.3h0M326.0 724.7h0M328.0 670.1h0M343.4 710.7h0M324.6 730.8h0M337.6 738.1h0M321.9 678.4h0M333.0 710.4h0M357.5 714.9h0M337.1 706.1h0M310.6 717.4h0M309.4 702.2h0M308.9 724.0h0M335.1 728.8h0M326.5 715.9h0M324.3 725.5h0M335.1 724.7h0M336.0 716.1h0M328.9 737.5h0M341.8 729.8h0M327.5 731.0h0M326.9 722.6h0M337.4 731.5h0M333.5 722.0h0M333.7 728.6h0M334.3 717.8h0M321.5 716.2h0M325.6 736.7h0M341.2 731.6h0M334.7 710.4h0M326.7 710.3h0M336.5 731.2h0M320.1 718.9h0M335.4 691.2h0M329.0 727.2h0M324.9 718.3h0M324.7 727.9h0M338.4 737.0h0M337.3 727.8h0M336.6 737.0h0M324.0 711.9h0M274.8 686.8h0M327.2 723.3h0M337.7 707.2h0M343.0 732.0h0M327.1 692.1h0M328.8 724.2h0M341.3 721.7h0M324.9 729.9h0M339.4 669.0h0M324.0 722.0h0M340.7 715.4h0M336.3 718.2h0M325.9 741.2h0M340.2 721.7h0M332.4 710.2h0M337.6 738.5h0M333.9 699.5h0M336.5 711.5h0M326.9 719.8h0M321.5 733.1h0M335.3 734.3h0M337.7 694.8h0M339.0 722.1h0M325.0 625.5h0M347.9 728.2h0M346.6 719.9h0M325.8 733.0h0M370.6 714.8h0M338.5 708.1h0M329.0 707.6h0M337.1 719.2h0M333.9 701.6h0M329.0 724.7h0M335.4 734.1h0M325.9 699.1h0M337.3 733.6h0M325.3 731.1h0M320.0 697.9h0M323.6 718.6h0M320.7 708.4h0M325.4 741.6h0M324.6 733.2h0M328.8 721.3h0M324.7 732.0h0M326.0 735.5h0M322.2 716.3h0M324.0 707.8h0M325.4 734.6h0M342.6 695.0h0M340.2 737.6h0M344.7 694.1h0M294.1 701.7h0M335.4 700.0h0M327.5 699.6h0M334.0 723.1h0M328.1 716.3h0M323.1 732.0h0M321.9 727.9h0M336.8 716.0h0M340.8 729.3h0M329.2 726.9h0M335.5 692.9h0M315.1 695.5h0M335.5 710.4h0M306.4 696.4h0M336.0 724.1h0M323.9 697.2h0M331.7 735.7h0M324.2 703.6h0M320.4 719.9h0M325.0 683.8h0M320.7 690.3h0M331.8 733.1h0M333.7 715.0h0M335.2 735.6h0M313.4 705.3h0M328.6 712.6h0M333.8 727.7h0M352.5 737.3h0M343.8 723.3h0M319.3 717.7h0M335.2 731.5h0M337.3 723.2h0M328.4 702.7h0M314.6 710.3h0M334.8 710.4h0M336.9 711.5h0M337.7 728.2h0M318.3 722.5h0M325.6 672.2h0M335.4 736.4h0M316.7 715.9h0M360.0 710.9h0M328.6 697.0h0M320.6 673.2h0M326.6 712.9h0M334.9 719.0h0M324.3 719.0h0M352.0 726.3h0M342.3 722.9h0M335.8 707.7h0M336.5 724.2h0M325.8 728.4h0M324.5 706.0h0M330.1 727.2h0M343.0 735.7h0M337.0 716.9h0M343.4 707.6h0M312.8 703.3h0M334.1 711.7h0M321.5 711.9h0M334.5 741.2h0M367.3 704.2h0M321.8 722.3h0M326.7 738.2h0M337.6 696.7h0M336.1 698.1h0M340.0 699.8h0M333.4 702.4h0M324.6 693.8h0M324.4 718.4h0M318.3 722.4h0M337.0 713.6h0M329.2 718.1h0M321.6 696.8h0M340.7 737.6h0M325.8 739.4h0M334.7 701.3h0M327.1 728.6h0M334.7 700.6h0M324.1 736.6h0M319.4 719.2h0M322.5 714.9h0M340.8 710.2h0M334.7 707.0h0M339.1 731.2h0M333.4 713.3h0M336.4 720.5h0M337.0 723.1h0M344.1 683.4h0M342.5 717.4h0M327.9 718.3h0M294.8 707.5h0M342.5 735.4h0M330.2 732.4h0M340.5 698.4h0M340.8 691.6h0M321.7 717.9h0M328.3 717.0h0M317.0 696.7h0M338.1 726.2h0M316.6 730.5h0M345.0 709.6h0M335.4 720.9h0M328.0 716.7h0M334.7 711.9h0M317.4 701.9h0M315.9 706.2h0M320.7 700.2h0M339.2 710.1h0M304.7 695.6h0M323.8 738.9h0M321.1 720.1h0M323.9 722.1h0M334.0 725.4h0M351.4 698.2h0M321.4 730.0h0M343.9 692.7h0M326.7 713.8h0M338.8 732.8h0M321.1 732.6h0M338.4 724.4h0M339.0 711.6h0M313.2 712.8h0M337.1 719.2h0M338.6 737.8h0M315.5 692.6h0M339.1 731.9h0M338.1 705.8h0M313.3 716.7h0M325.4 688.2h0M326.9 709.1h0M323.3 718.0h0M324.0 717.0h0M327.9 742.5h0M321.1 721.8h0M324.7 689.5h0M314.3 715.6h0M337.0 703.4h0M344.1 725.9h0M319.0 721.9h0M326.3 686.1h0M332.6 718.6h0M324.5 738.4h0M323.6 700.2h0M324.0 707.5h0M324.4 706.5h0M324.6 714.5h0M323.3 713.1h0M348.5 716.7h0M298.5 704.7h0M326.5 710.0h0M346.1 734.9h0M335.1 693.3h0M276.5 699.5h0M336.6 717.2h0M345.6 711.2h0M324.5 687.6h0M322.5 702.8h0M325.6 673.7h0M333.6 713.0h0M344.0 724.8h0M324.5 721.2h0M322.8 728.5h0M321.6 718.2h0M322.1 715.8h0M335.5 690.4h0M332.3 707.9h0M338.2 725.2h0M340.5 733.5h0M322.9 721.4h0M334.9 626.5h0M340.3 718.9h0M318.6 703.6h0M319.5 708.3h0M322.0 720.0h0M323.8 703.6h0M324.3 708.3h0M316.9 714.0h0M324.3 706.6h0M335.0 698.5h0M324.3 719.8h0M348.9 698.3h0M311.2 705.8h0M343.4 707.1h0M340.4 667.2h0M323.5 719.3h0M333.1 693.5h0M320.0 699.2h0M320.2 729.7h0M325.7 704.8h0M339.0 662.1h0M347.3 681.8h0M327.8 706.5h0M339.2 713.4h0M337.1 692.0h0M338.0 738.0h0M346.3 681.6h0M341.7 718.5h0M340.1 653.6h0M311.0 705.2h0M338.8 731.6h0M220.0 725.0h0M404.5 710.0h0M437.5 723.0h0M453.8 723.0h0M338.2 585.8h0M325.8 636.2h0M426.0 723.4h0M209.4 725.0h0" stroke="#6c6c6c" stroke-opacity=".36" stroke-width="3.2" stroke-linecap="round" fill="none"/>
<path d="M333.9 724.0h0M328.6 738.7h0M332.5 741.2h0M320.0 717.9h0M332.9 695.3h0M330.4 741.1h0M325.9 706.6h0M332.2 725.2h0M319.5 693.1h0M332.3 734.1h0M331.6 741.0h0M324.6 711.7h0M320.1 717.6h0M332.5 733.5h0M327.5 734.1h0M335.6 723.4h0M326.3 740.9h0M331.4 739.7h0M339.0 702.3h0M341.5 728.0h0M334.1 732.5h0M332.9 731.1h0M339.5 716.1h0M327.5 727.9h0M323.8 710.8h0M324.1 701.1h0M321.9 705.6h0M327.5 726.8h0M334.0 711.0h0M353.4 724.1h0M312.1 704.0h0M326.6 719.4h0M323.6 695.3h0M332.3 740.2h0M327.8 700.1h0M326.8 733.6h0M333.0 725.0h0M338.8 722.5h0M326.0 726.4h0M326.3 726.0h0M329.0 739.9h0M328.9 734.6h0M328.6 723.2h0M337.1 726.0h0M328.7 733.2h0M327.5 707.4h0M332.7 721.6h0M334.4 738.0h0M343.8 705.2h0M355.6 713.9h0M329.4 735.7h0M334.9 679.0h0M322.6 723.5h0M332.5 729.7h0M326.6 714.0h0M326.3 675.2h0M377.4 704.1h0M320.7 673.7h0M339.8 706.1h0M324.7 710.9h0M320.9 721.8h0M328.4 721.3h0M333.6 736.1h0M334.4 718.1h0M333.5 736.8h0M325.1 728.7h0M329.8 731.9h0M323.0 691.2h0M333.1 732.3h0M322.0 711.7h0M333.5 735.0h0M333.1 738.0h0M334.4 724.4h0M326.8 730.8h0M332.9 727.1h0M335.2 726.0h0M329.0 739.6h0M328.1 724.6h0M337.2 734.8h0M332.9 725.2h0M331.7 738.1h0M323.2 712.3h0M326.4 712.8h0M328.6 739.0h0M327.7 739.1h0M332.4 730.1h0M332.9 719.6h0M335.8 708.8h0M336.5 721.5h0M338.7 724.6h0M320.5 708.6h0M326.1 728.6h0M324.6 733.8h0M330.2 734.8h0M329.6 728.6h0M320.0 711.4h0M326.6 732.8h0M314.8 721.0h0M343.6 716.5h0M332.4 731.3h0M333.2 729.3h0M311.4 709.5h0M340.5 701.2h0M331.6 735.7h0M327.2 693.2h0M336.1 697.4h0M337.8 727.9h0M331.8 732.1h0M323.2 691.8h0M348.2 725.9h0M326.3 724.4h0M326.4 711.2h0M325.4 724.3h0M335.8 730.0h0M343.0 721.2h0M331.0 744.0h0M333.2 739.0h0M324.6 726.7h0M327.5 719.4h0M329.4 743.3h0M338.1 719.8h0M346.6 721.1h0M322.5 727.0h0M336.5 706.5h0M301.3 694.6h0M339.8 731.5h0M334.9 737.8h0M336.2 716.7h0M322.7 671.5h0M304.4 720.0h0M319.5 694.6h0M326.0 728.1h0M349.7 702.1h0M323.0 730.3h0M330.1 732.8h0M328.5 722.1h0M333.6 740.0h0M336.2 716.8h0M339.4 704.6h0M322.2 714.1h0M328.9 731.9h0M328.5 729.5h0M335.9 694.1h0M360.1 696.4h0M329.0 723.6h0M339.3 718.2h0M317.4 706.8h0M334.3 731.5h0M329.6 727.6h0M326.8 727.7h0M326.0 695.1h0M328.2 731.4h0M325.2 719.3h0M333.7 710.3h0M324.8 739.2h0M319.4 694.0h0M333.1 740.0h0M343.9 708.2h0M316.9 696.3h0M320.5 713.5h0M326.3 732.1h0M322.5 702.8h0M334.6 718.2h0M331.8 734.9h0M324.6 723.1h0M326.6 724.6h0M352.9 713.9h0M320.4 723.4h0M303.5 725.1h0M332.8 719.6h0M324.8 724.7h0M333.9 711.1h0M333.0 742.6h0M324.5 727.0h0M323.5 680.6h0M343.4 723.5h0M337.1 713.5h0M337.6 725.1h0M317.2 740.4h0M317.2 699.1h0M330.1 734.9h0M350.3 735.6h0M332.3 726.4h0M320.2 717.9h0M332.8 724.0h0M325.4 702.5h0M339.8 732.4h0M321.1 710.7h0M322.9 682.3h0M339.1 716.4h0M336.5 735.5h0M317.5 698.4h0M292.6 690.3h0M343.5 712.3h0M328.3 727.8h0M314.8 716.9h0M324.6 715.6h0M326.0 730.2h0M317.6 728.5h0M334.6 729.8h0M329.7 729.6h0M323.8 669.0h0M318.7 727.8h0M327.1 728.8h0M316.6 707.8h0M337.4 716.4h0M326.2 731.2h0M333.8 706.4h0M337.0 713.4h0M318.2 726.2h0M329.4 716.2h0M338.8 727.7h0M317.6 716.8h0M325.8 731.8h0M321.8 708.9h0M338.2 727.0h0M323.6 717.1h0M334.1 694.8h0M324.7 719.2h0M326.1 719.7h0M333.5 723.4h0M336.2 718.8h0M320.7 721.1h0M327.6 718.0h0M321.6 725.8h0M337.0 698.3h0M328.8 717.4h0M344.4 716.7h0M315.4 721.3h0M324.1 622.8h0M341.3 712.1h0M328.1 723.2h0M337.0 736.8h0M334.8 712.5h0M325.9 714.6h0M326.4 731.7h0M326.6 724.5h0M335.2 732.6h0M326.3 727.4h0M334.6 688.2h0M326.3 736.0h0M326.7 724.7h0M323.4 737.7h0M334.6 720.5h0M334.7 719.9h0M335.8 715.2h0M324.7 722.4h0M327.7 704.8h0M337.0 723.8h0M338.3 728.6h0M340.0 694.5h0M335.0 723.6h0M343.2 703.3h0M324.7 706.3h0M332.8 721.8h0M333.1 711.0h0M353.3 709.5h0M342.9 724.6h0M340.7 724.2h0M364.8 718.2h0M336.2 671.5h0M320.9 732.3h0M337.3 717.4h0M337.3 729.7h0M325.8 731.6h0M325.6 725.5h0M332.6 721.2h0M326.5 703.0h0M320.8 730.3h0M333.1 710.1h0M337.1 713.6h0M327.8 695.5h0M360.8 706.3h0M337.3 726.8h0M332.6 715.8h0M337.6 694.6h0M326.8 712.7h0M315.5 683.6h0M297.9 699.6h0M325.8 727.1h0M334.9 716.3h0M335.2 676.3h0M321.7 704.4h0M308.8 706.4h0M328.2 712.0h0M335.1 695.1h0M339.5 715.1h0M322.0 709.6h0M342.4 703.8h0M330.2 732.1h0M335.8 676.4h0M337.9 704.5h0M332.7 716.3h0M336.0 728.5h0M313.2 693.8h0M345.7 716.9h0M334.6 692.3h0M337.7 701.5h0M351.6 710.5h0M317.2 695.7h0M335.4 705.5h0M335.5 705.4h0M320.6 717.6h0M343.7 711.9h0M335.4 736.1h0M323.8 721.8h0M326.5 693.0h0M344.2 709.1h0M329.7 743.3h0M322.8 724.7h0M327.4 694.8h0M326.5 722.0h0M339.8 708.3h0M338.4 723.5h0M340.1 706.6h0M341.8 722.7h0M311.9 692.5h0M327.8 705.7h0M324.5 721.7h0M326.8 673.3h0M317.4 728.3h0M324.5 683.8h0M324.0 711.2h0M353.2 700.3h0M350.7 720.1h0M322.2 728.8h0M339.3 706.7h0M357.0 727.5h0M300.1 698.0h0M343.3 700.2h0M326.0 737.5h0M343.7 709.2h0M340.3 709.2h0M340.5 716.4h0M342.7 727.2h0M326.7 737.9h0M339.5 636.2h0M355.5 718.8h0M326.5 698.5h0M334.0 711.7h0M335.2 716.6h0M324.5 693.6h0M325.1 722.2h0M338.4 700.8h0M332.2 743.8h0M322.1 687.3h0M324.5 713.9h0M347.4 722.4h0M322.7 723.4h0M324.4 738.2h0M334.1 716.6h0M326.2 740.7h0M299.8 699.0h0M333.8 695.9h0M343.6 689.4h0M336.8 715.2h0M324.3 717.6h0M321.6 696.3h0M321.3 727.0h0M335.1 708.8h0M318.6 727.2h0M323.3 709.4h0M338.4 714.6h0M335.1 691.7h0M338.7 720.5h0M338.3 707.9h0M341.4 722.8h0M328.1 698.1h0M320.6 719.5h0M305.0 708.0h0M325.0 717.6h0M337.4 717.7h0M344.1 711.6h0M333.2 702.9h0M325.4 711.0h0M319.6 691.1h0M337.0 740.8h0M322.0 704.0h0M326.3 688.8h0M325.1 705.4h0M325.0 735.4h0M320.6 733.3h0M328.1 717.7h0M308.1 698.9h0M342.9 732.4h0M335.8 712.3h0M334.1 694.4h0M319.4 696.2h0M323.8 708.9h0M325.7 706.1h0M335.7 709.0h0M339.2 725.2h0M322.0 708.5h0M337.0 729.2h0M351.8 694.0h0M325.3 700.8h0M317.4 734.5h0M355.6 711.5h0M337.8 720.2h0M332.5 713.5h0M341.1 737.0h0M311.5 713.5h0M327.7 742.1h0M319.5 713.9h0M325.1 703.7h0M338.6 642.8h0M334.3 705.8h0M338.4 696.1h0M225.0 725.3h0M410.0 708.8h0M439.5 723.0h0M457.0 710.8h0M324.3 597.7h0M438.5 723.3h0M430.2 722.7h0M216.0 724.6h0" stroke="#6c6c6c" stroke-opacity=".36" stroke-width="3.2" stroke-linecap="round" fill="none"/>
<path d="M332.7 734.2h0M327.9 725.7h0M342.2 717.6h0M328.1 736.9h0M330.5 741.7h0M329.3 735.9h0M333.1 702.1h0M320.5 729.2h0M335.8 738.1h0M329.7 741.3h0M328.3 733.2h0M328.7 735.2h0M320.5 697.2h0M332.2 719.9h0M347.2 698.8h0M328.4 701.8h0M341.0 727.9h0M342.6 713.6h0M333.0 720.3h0M326.2 699.3h0M315.6 689.5h0M330.2 740.7h0M328.0 736.6h0M323.6 699.4h0M329.5 738.7h0M331.5 738.8h0M332.5 735.9h0M325.3 729.7h0M334.1 741.6h0M344.2 717.1h0M322.5 695.9h0M334.7 711.7h0M335.2 728.8h0M314.1 713.0h0M319.0 707.9h0M365.0 707.5h0M334.7 733.3h0M334.6 722.4h0M329.3 731.7h0M334.2 736.9h0M326.9 728.3h0M335.2 657.1h0M333.7 729.6h0M328.6 719.9h0M333.9 703.2h0M333.5 726.4h0M329.7 741.9h0M329.9 727.4h0M329.5 737.3h0M341.8 706.9h0M337.7 722.9h0M327.1 717.2h0M329.6 742.4h0M325.7 712.6h0M329.6 733.3h0M338.3 711.1h0M336.0 721.0h0M338.0 724.8h0M333.4 695.6h0M326.2 719.9h0M339.9 718.7h0M332.9 737.8h0M333.1 738.8h0M327.9 737.1h0M337.9 720.7h0M334.4 737.0h0M328.4 734.3h0M335.2 738.3h0M319.7 710.3h0M323.6 727.7h0M332.0 738.0h0M330.3 739.5h0M342.8 699.6h0M328.4 722.7h0M333.5 738.5h0M328.4 716.8h0M328.8 733.5h0M327.2 727.0h0M333.8 738.9h0M320.3 697.2h0M333.9 721.5h0M332.5 739.7h0M332.7 742.4h0M335.6 734.9h0M325.0 725.1h0M316.3 693.6h0M335.4 731.1h0M330.4 738.9h0M314.8 714.9h0M333.0 717.7h0M327.7 715.2h0M327.5 722.8h0M334.3 724.9h0M334.1 714.6h0M329.8 742.8h0M348.9 724.9h0M323.5 717.7h0M327.4 725.1h0M329.6 721.1h0M320.7 727.6h0M332.2 741.6h0M322.8 719.6h0M336.0 720.3h0M330.1 732.5h0M326.6 725.8h0M322.4 736.6h0M353.2 717.5h0M324.5 675.9h0M328.7 721.1h0M304.1 718.9h0M321.9 698.6h0M333.8 734.4h0M328.9 739.3h0M328.6 719.0h0M328.6 728.2h0M327.2 710.2h0M337.1 734.7h0M320.9 723.5h0M340.5 693.2h0M325.7 711.6h0M332.5 727.7h0M328.7 724.8h0M318.8 692.9h0M345.9 722.3h0M314.9 734.6h0M335.5 728.6h0M333.5 716.3h0M347.6 683.8h0M338.0 718.4h0M333.6 716.2h0M328.5 736.7h0M327.9 692.6h0M321.6 725.8h0M333.2 709.5h0M341.1 678.2h0M372.6 715.0h0M332.4 728.7h0M319.2 709.1h0M315.3 724.9h0M334.1 713.4h0M328.3 731.9h0M334.3 731.8h0M326.7 705.6h0M318.4 727.1h0M348.8 691.0h0M328.4 696.8h0M331.9 731.5h0M321.9 718.2h0M342.7 714.1h0M339.2 727.2h0M328.9 720.0h0M334.1 713.9h0M336.1 714.4h0M318.4 711.0h0M339.4 726.8h0M334.1 724.7h0M327.4 705.8h0M336.2 667.3h0M335.2 733.3h0M324.5 720.2h0M336.3 729.2h0M328.0 702.4h0M346.1 705.4h0M318.2 724.0h0M324.8 705.1h0M326.0 709.5h0M333.0 708.0h0M329.2 729.6h0M315.5 705.8h0M323.1 722.4h0M336.3 717.9h0M332.9 725.9h0M342.8 702.9h0M327.5 694.8h0M322.8 722.1h0M339.4 728.8h0M307.8 706.9h0M340.1 705.4h0M323.0 718.3h0M326.0 742.4h0M326.8 718.1h0M326.5 734.7h0M335.0 737.5h0M339.6 700.8h0M334.1 735.4h0M337.7 719.6h0M322.7 716.3h0M326.0 739.1h0M337.5 714.8h0M319.2 697.3h0M338.9 703.5h0M295.3 693.9h0M340.2 703.0h0M323.8 709.8h0M328.3 714.8h0M333.8 714.9h0M343.7 726.6h0M340.6 693.9h0M337.6 738.1h0M337.3 711.1h0M336.9 661.8h0M329.3 724.4h0M320.4 713.2h0M334.6 733.7h0M324.5 640.1h0M328.0 712.5h0M330.2 735.7h0M346.0 717.5h0M332.9 724.7h0M326.8 710.4h0M347.7 703.4h0M323.8 728.4h0M339.4 709.0h0M338.5 719.8h0M335.2 713.7h0M317.6 719.7h0M316.8 729.5h0M322.3 734.4h0M335.6 738.4h0M337.3 705.9h0M326.7 699.6h0M323.3 715.4h0M322.6 727.2h0M333.3 693.6h0M333.7 709.6h0M341.0 710.3h0M339.0 725.7h0M324.5 717.9h0M318.9 726.0h0M325.1 726.5h0M329.8 722.6h0M319.6 727.5h0M334.3 718.8h0M328.8 742.8h0M329.5 720.3h0M337.3 709.7h0M337.4 718.1h0M323.9 675.1h0M342.8 708.8h0M327.0 700.9h0M353.6 706.9h0M310.1 707.8h0M341.3 711.8h0M339.1 711.6h0M324.2 732.0h0M338.4 676.2h0M335.1 720.2h0M323.7 728.3h0M339.6 693.5h0M333.4 707.0h0M319.7 717.8h0M336.4 721.5h0M350.5 705.3h0M327.5 710.5h0M338.2 724.0h0M325.6 733.5h0M322.7 724.8h0M318.3 715.7h0M336.3 727.1h0M321.8 697.0h0M324.8 723.4h0M320.3 742.1h0M331.9 732.0h0M337.4 686.1h0M322.4 726.4h0M323.3 695.5h0M323.8 709.3h0M337.3 716.0h0M333.8 723.3h0M313.9 723.9h0M335.7 689.4h0M338.1 726.1h0M330.2 733.3h0M338.9 736.5h0M334.3 661.0h0M320.1 722.4h0M333.5 714.3h0M327.8 714.8h0M325.6 687.8h0M340.1 731.9h0M335.6 731.6h0M333.9 708.3h0M310.1 709.5h0M333.4 709.6h0M336.8 738.4h0M344.1 724.5h0M331.9 730.6h0M325.1 711.8h0M332.7 711.8h0M304.2 711.3h0M324.2 690.8h0M325.0 703.0h0M337.7 720.8h0M339.3 703.3h0M330.5 734.6h0M344.0 716.3h0M327.8 740.9h0M341.2 698.1h0M341.3 673.4h0M318.1 702.8h0M325.4 720.8h0M328.0 709.5h0M337.0 717.2h0M328.0 742.0h0M347.2 708.6h0M326.5 731.2h0M338.3 730.7h0M339.1 725.4h0M334.3 738.7h0M324.7 724.2h0M339.2 695.6h0M335.9 716.1h0M333.4 701.7h0M340.2 697.5h0M343.4 718.0h0M326.9 707.3h0M310.2 726.5h0M325.8 735.8h0M334.2 702.5h0M333.5 703.8h0M353.3 729.6h0M343.6 721.1h0M328.3 707.0h0M325.8 696.1h0M340.8 700.2h0M324.8 728.5h0M323.7 738.3h0M339.6 733.4h0M323.7 666.0h0M325.9 701.6h0M316.3 721.1h0M339.3 704.4h0M336.4 713.4h0M335.2 711.3h0M326.7 704.3h0M327.2 708.8h0M342.4 712.7h0M304.4 706.0h0M322.0 739.9h0M340.2 725.3h0M325.4 717.4h0M302.7 697.2h0M325.9 717.5h0M335.8 687.1h0M350.0 714.5h0M305.2 703.1h0M341.4 720.1h0M324.4 700.4h0M329.3 718.0h0M339.6 668.0h0M342.7 714.1h0M327.0 715.7h0M313.7 729.6h0M338.1 718.7h0M327.0 739.1h0M340.9 684.0h0M336.7 711.0h0M309.9 697.9h0M335.5 739.3h0M337.9 731.3h0M312.5 711.6h0M337.2 717.5h0M324.5 723.5h0M319.8 726.5h0M339.3 723.7h0M288.5 707.3h0M321.2 707.9h0M339.5 720.0h0M325.9 684.3h0M315.3 704.4h0M324.0 703.9h0M323.7 733.0h0M336.9 722.0h0M345.3 733.1h0M325.9 713.7h0M354.2 716.0h0M323.6 693.8h0M339.1 699.2h0M324.8 719.1h0M321.8 698.3h0M296.6 693.8h0M318.4 697.2h0M339.8 700.7h0M302.1 706.9h0M327.9 698.3h0M310.3 704.7h0M338.0 678.6h0M317.9 727.9h0M325.0 719.8h0M316.6 709.7h0M339.8 705.7h0M343.1 711.3h0M318.6 694.9h0M327.3 680.4h0M309.6 714.1h0M336.8 706.7h0M337.4 736.3h0M342.7 720.2h0M340.9 700.9h0M344.5 716.6h0M340.6 729.0h0M332.6 719.3h0M322.3 723.7h0M315.7 724.7h0M336.2 705.0h0M338.3 698.6h0M323.6 726.3h0M337.7 685.4h0M228.0 725.3h0M408.0 711.3h0M441.5 723.0h0M458.0 714.5h0M328.2 599.7h0M441.9 723.5h0M445.6 723.4h0M220.6 724.5h0" stroke="#6c6c6c" stroke-opacity=".36" stroke-width="3.2" stroke-linecap="round" fill="none"/>
<path d="M330.4 742.2h0M329.4 734.3h0M322.6 728.3h0M325.6 724.6h0M330.5 741.1h0M325.0 736.3h0M333.8 717.9h0M329.8 736.9h0M327.4 732.2h0M324.9 659.2h0M333.0 708.4h0M376.2 704.0h0M326.3 730.4h0M316.3 715.0h0M335.5 737.5h0M328.7 741.0h0M331.4 742.4h0M337.6 728.6h0M334.0 700.0h0M338.1 727.2h0M334.7 722.9h0M332.6 730.3h0M342.4 708.8h0M326.9 734.7h0M329.3 732.2h0M329.9 738.8h0M329.1 714.5h0M333.7 731.3h0M326.1 728.3h0M333.3 729.0h0M328.6 737.8h0M332.1 729.9h0M334.6 724.1h0M348.1 723.7h0M335.2 698.3h0M333.1 731.9h0M322.1 712.9h0M315.1 727.2h0M333.0 703.4h0M319.0 712.4h0M337.2 725.7h0M332.4 724.6h0M332.4 736.0h0M334.3 734.7h0M331.6 741.5h0M328.5 719.5h0M324.5 736.9h0M337.2 687.9h0M290.6 682.8h0M332.3 732.5h0M329.3 733.6h0M325.3 724.8h0M334.7 713.5h0M329.6 735.2h0M344.8 729.2h0M330.1 739.1h0M328.4 715.6h0M330.3 737.8h0M335.1 707.1h0M336.3 733.0h0M321.1 732.0h0M333.8 739.2h0M332.3 739.6h0M342.7 692.9h0M333.0 730.5h0M327.8 735.9h0M325.5 726.8h0M338.0 704.1h0M343.7 696.8h0M322.6 725.4h0M336.3 737.5h0M333.6 728.6h0M329.0 726.6h0M328.4 718.6h0M324.7 673.4h0M324.6 732.0h0M332.3 733.2h0M327.4 726.9h0M326.1 734.4h0M335.6 727.9h0M329.2 727.3h0M323.4 737.1h0M311.5 694.6h0M323.5 713.9h0M323.7 705.3h0M312.7 683.5h0M327.0 697.1h0M329.1 732.9h0M327.3 703.1h0M323.6 681.0h0M336.7 724.8h0M326.8 718.0h0M334.1 742.9h0M351.5 707.3h0M305.2 721.2h0M334.6 729.1h0M327.0 718.7h0M327.2 725.1h0M326.0 711.1h0M343.5 703.3h0M333.1 733.3h0M328.0 719.8h0M328.8 717.2h0M325.8 729.2h0M338.5 696.8h0M339.0 729.9h0M354.0 699.9h0M305.3 718.3h0M335.0 689.5h0M325.8 722.0h0M317.1 693.0h0M326.3 732.7h0M337.8 724.7h0M335.7 721.2h0M325.1 735.3h0M329.3 728.1h0M340.9 705.7h0M323.6 700.2h0M326.2 735.8h0M337.4 718.0h0M333.8 717.1h0M328.8 726.4h0M341.2 716.3h0M341.2 720.9h0M332.8 723.0h0M326.9 699.4h0M340.3 719.2h0M334.4 715.5h0M323.4 716.4h0M339.0 696.3h0M334.0 727.4h0M333.5 712.1h0M340.6 710.4h0M334.4 739.3h0M337.1 725.3h0M334.7 720.9h0M327.7 738.6h0M340.8 719.4h0M348.9 721.5h0M297.3 711.5h0M324.6 708.1h0M321.8 644.1h0M325.3 739.1h0M328.0 723.3h0M346.7 730.7h0M328.2 722.5h0M314.7 733.2h0M334.9 713.6h0M340.5 694.3h0M348.7 693.0h0M321.0 706.7h0M327.2 699.9h0M334.9 714.2h0M336.3 712.6h0M334.8 700.9h0M326.1 724.9h0M329.2 721.5h0M327.8 721.6h0M339.7 710.4h0M325.9 713.5h0M337.1 677.0h0M327.0 723.2h0M335.2 704.8h0M324.0 684.5h0M335.7 715.4h0M339.9 692.1h0M325.9 727.9h0M335.8 705.6h0M322.6 674.4h0M323.1 696.1h0M327.3 731.3h0M346.3 699.6h0M324.5 703.8h0M332.9 711.5h0M339.7 697.1h0M334.6 741.7h0M326.8 728.6h0M361.2 706.3h0M338.2 657.3h0M350.8 688.0h0M334.7 724.8h0M328.3 721.5h0M328.7 730.2h0M333.3 705.5h0M338.8 709.7h0M328.8 730.3h0M335.6 727.6h0M328.6 732.5h0M338.1 727.7h0M325.9 733.9h0M333.5 708.4h0M327.4 739.0h0M327.8 715.1h0M307.3 715.4h0M341.3 712.6h0M333.9 719.0h0M336.7 719.7h0M329.0 720.6h0M323.4 699.9h0M308.3 701.5h0M317.2 706.4h0M319.6 711.7h0M326.2 694.1h0M325.5 733.8h0M339.6 725.0h0M337.7 723.6h0M366.3 725.6h0M326.1 725.7h0M336.2 699.1h0M314.2 714.9h0M333.6 714.5h0M323.9 719.7h0M309.5 716.2h0M337.2 727.3h0M327.0 731.9h0M326.8 726.2h0M336.9 722.5h0M341.7 719.2h0M316.1 721.2h0M328.4 705.3h0M325.2 707.2h0M328.3 710.9h0M327.2 705.1h0M337.0 737.1h0M338.5 703.9h0M322.1 718.0h0M335.0 724.2h0M332.8 717.6h0M317.3 728.9h0M325.0 728.1h0M344.6 686.3h0M335.7 725.9h0M340.9 712.0h0M335.7 718.1h0M326.7 706.4h0M327.0 714.7h0M327.8 728.8h0M326.7 729.7h0M326.3 717.5h0M328.2 694.7h0M328.4 710.7h0M336.7 726.9h0M336.0 730.1h0M324.8 725.3h0M323.3 726.9h0M338.6 704.2h0M333.4 710.5h0M327.2 730.1h0M325.8 728.8h0M321.9 713.4h0M317.9 714.6h0M334.2 725.9h0M338.8 722.0h0M335.7 699.6h0M326.6 716.7h0M340.5 725.1h0M334.9 718.3h0M354.1 718.2h0M316.7 693.8h0M336.2 665.3h0M337.0 724.9h0M327.0 715.1h0M340.5 709.2h0M340.8 721.0h0M336.2 716.5h0M333.5 709.3h0M326.4 703.3h0M338.3 702.6h0M335.0 725.5h0M345.3 732.0h0M325.8 725.3h0M327.8 721.6h0M335.0 715.3h0M338.8 729.9h0M336.7 738.4h0M321.7 726.5h0M324.0 682.1h0M335.5 725.5h0M322.9 696.7h0M376.7 710.8h0M325.9 730.2h0M323.7 736.2h0M339.8 730.4h0M321.2 721.3h0M336.3 685.2h0M326.2 687.3h0M328.1 675.1h0M318.2 706.0h0M346.0 719.4h0M321.8 737.0h0M336.5 706.6h0M332.1 715.7h0M326.4 717.2h0M326.4 694.4h0M393.2 727.1h0M336.4 687.7h0M338.5 720.9h0M339.2 728.1h0M319.8 698.9h0M327.9 692.7h0M337.2 709.7h0M321.8 718.5h0M349.0 694.4h0M310.2 703.8h0M338.3 724.9h0M318.4 719.8h0M334.8 694.4h0M327.5 706.8h0M337.8 703.2h0M317.6 724.0h0M319.0 693.1h0M337.9 734.3h0M325.8 736.2h0M323.6 701.6h0M326.5 706.6h0M336.5 739.1h0M326.9 702.1h0M328.4 710.8h0M321.2 724.5h0M338.8 717.1h0M320.9 722.7h0M322.5 688.8h0M338.3 728.9h0M337.6 736.7h0M327.2 714.5h0M355.4 722.4h0M325.3 711.5h0M334.5 701.7h0M348.2 708.8h0M336.5 703.9h0M336.3 722.1h0M340.4 713.1h0M337.3 712.4h0M323.0 723.1h0M314.6 704.5h0M321.8 728.7h0M323.8 713.2h0M339.0 711.8h0M343.6 715.8h0M321.6 714.6h0M354.9 709.4h0M324.9 719.6h0M335.9 702.5h0M321.2 696.8h0M327.3 709.8h0M338.5 698.2h0M316.8 704.9h0M338.5 724.6h0M296.1 700.5h0M325.4 708.9h0M337.0 736.4h0M348.4 706.1h0M343.2 713.4h0M324.2 718.3h0M312.7 705.3h0M341.8 726.4h0M325.0 722.9h0M338.1 694.3h0M346.4 719.8h0M334.4 706.0h0M327.2 679.6h0M324.3 650.1h0M337.2 703.4h0M336.2 676.8h0M316.9 728.9h0M336.0 698.7h0M333.5 713.1h0M322.4 699.2h0M361.0 704.9h0M314.7 687.4h0M321.4 715.0h0M314.2 710.7h0M324.3 697.1h0M345.7 694.7h0M339.0 720.2h0M343.5 719.7h0M321.8 660.6h0M329.1 717.8h0M318.6 736.3h0M324.7 716.0h0M323.6 689.1h0M336.7 675.7h0M345.1 706.4h0M339.7 693.5h0M311.5 728.4h0M338.7 666.4h0M348.2 717.0h0M327.0 682.8h0M315.5 721.9h0M318.6 689.6h0M324.5 715.8h0M339.0 728.4h0M342.7 727.5h0M340.1 711.5h0M320.4 725.6h0M324.1 738.5h0M325.7 740.5h0M336.7 664.5h0M341.2 700.2h0M323.2 736.8h0M338.8 716.5h0M322.5 726.8h0M324.0 730.5h0M343.0 728.1h0M334.8 692.3h0M357.0 706.4h0M343.6 703.0h0M306.2 720.0h0M248.2 715.3h0M410.5 715.0h0M444.0 723.0h0M462.0 723.0h0M336.9 605.4h0M440.8 723.5h0M431.8 723.6h0M216.7 725.3h0" stroke="#6c6c6c" stroke-opacity=".36" stroke-width="3.2" stroke-linecap="round" fill="none"/>
<path d="M329.1 720.2h0M333.2 737.3h0M327.4 717.4h0M324.4 724.4h0M337.5 733.7h0M322.3 712.0h0M331.7 737.0h0M333.1 731.4h0M329.6 739.1h0M329.5 736.1h0M334.4 736.8h0M333.6 720.5h0M290.7 706.3h0M333.1 728.5h0M323.8 723.1h0M330.8 742.7h0M332.0 738.7h0M320.8 720.2h0M328.4 733.5h0M329.9 739.4h0M328.5 717.7h0M330.5 743.6h0M342.4 693.9h0M337.9 732.9h0M326.8 732.2h0M327.5 732.1h0M331.6 737.2h0M332.4 725.7h0M347.0 708.3h0M337.6 711.8h0M330.0 740.1h0M329.5 737.8h0M330.6 739.2h0M317.7 692.1h0M329.5 738.2h0M336.9 728.7h0M317.5 733.4h0M336.6 668.5h0M327.2 733.6h0M328.2 729.4h0M330.0 737.1h0M328.9 740.2h0M329.5 737.6h0M319.5 712.3h0M326.1 713.0h0M314.2 700.2h0M332.6 736.7h0M329.5 734.4h0M344.4 725.9h0M337.3 716.1h0M337.4 727.0h0M329.6 723.8h0M328.2 720.8h0M333.7 732.3h0M327.3 725.4h0M327.3 713.1h0M336.2 733.9h0M339.4 692.8h0M330.2 738.7h0M331.8 727.7h0M324.0 736.4h0M331.8 737.0h0M334.0 723.3h0M336.9 730.5h0M327.2 711.7h0M334.2 728.6h0M329.5 725.1h0M328.4 737.0h0M339.4 715.3h0M331.9 736.6h0M322.2 719.4h0M334.9 702.9h0M336.0 734.8h0M321.1 690.6h0M337.3 718.2h0M324.4 690.1h0M333.6 734.8h0M334.5 708.5h0M332.2 737.2h0M323.0 669.8h0M325.9 730.6h0M330.2 739.3h0M333.7 732.6h0M329.0 730.9h0M332.5 722.7h0M320.2 709.1h0M334.8 732.2h0M334.0 732.1h0M333.8 725.9h0M324.7 708.3h0M334.7 713.0h0M333.5 715.2h0M336.0 729.3h0M333.8 711.8h0M325.3 722.7h0M340.3 718.9h0M317.4 690.9h0M321.4 723.6h0M322.9 716.1h0M343.2 710.9h0M334.2 737.1h0M334.4 737.1h0M303.8 686.7h0M328.9 738.6h0M324.3 705.8h0M334.2 723.1h0M326.2 689.7h0M326.6 728.3h0M342.1 700.8h0M326.2 720.7h0M329.8 729.7h0M333.3 733.8h0M327.7 719.7h0M327.5 712.6h0M338.0 724.0h0M324.8 727.8h0M323.2 715.1h0M337.8 727.6h0M322.8 705.7h0M328.2 725.2h0M326.1 726.7h0M336.8 714.7h0M339.3 732.6h0M320.8 724.1h0M329.9 743.1h0M319.8 728.9h0M337.0 737.9h0M338.2 701.6h0M328.0 730.9h0M310.5 717.6h0M327.7 729.4h0M346.9 698.7h0M339.0 715.0h0M336.1 725.2h0M338.9 719.2h0M342.9 720.1h0M323.2 714.5h0M332.9 717.1h0M323.3 705.9h0M345.0 704.7h0M341.5 702.6h0M352.1 724.7h0M323.0 717.3h0M327.3 734.2h0M335.6 738.1h0M334.3 728.7h0M325.4 724.2h0M329.5 719.0h0M318.2 734.9h0M334.7 735.5h0M337.4 733.0h0M327.4 723.6h0M322.2 732.3h0M327.4 694.5h0M327.3 733.4h0M327.9 721.9h0M333.8 724.7h0M334.0 725.6h0M335.0 723.8h0M336.7 699.9h0M329.3 728.7h0M288.9 711.6h0M333.3 728.1h0M338.0 696.2h0M338.1 710.3h0M358.2 693.1h0M337.5 694.2h0M334.4 731.9h0M328.7 715.1h0M345.3 697.1h0M326.3 725.1h0M325.4 701.5h0M336.5 728.0h0M328.5 713.9h0M323.2 676.1h0M335.4 725.2h0M341.3 667.8h0M327.6 739.3h0M337.6 702.3h0M338.4 719.0h0M337.4 724.7h0M336.5 723.8h0M336.0 738.1h0M326.0 709.2h0M334.4 713.7h0M327.9 724.2h0M338.5 737.3h0M325.4 727.7h0M336.0 714.8h0M326.1 736.9h0M342.1 701.7h0M318.2 727.3h0M342.7 698.0h0M326.4 716.0h0M337.9 716.0h0M321.1 733.3h0M325.8 675.3h0M340.4 697.3h0M325.6 732.1h0M326.5 701.3h0M328.7 714.1h0M344.2 709.9h0M340.9 716.7h0M330.2 731.7h0M322.5 730.6h0M326.0 716.3h0M333.2 718.5h0M339.6 672.5h0M377.7 712.8h0M317.2 700.5h0M337.5 704.3h0M337.1 719.8h0M328.9 716.1h0M325.2 719.7h0M339.5 707.4h0M338.1 721.6h0M323.8 714.0h0M327.8 719.4h0M333.4 704.6h0M323.5 690.3h0M337.3 731.2h0M320.9 738.2h0M326.5 700.1h0M338.1 725.5h0M338.5 719.2h0M325.7 721.5h0M319.8 717.4h0M326.5 732.4h0M334.9 726.1h0M324.6 723.3h0M340.2 733.6h0M318.9 714.4h0M333.6 715.4h0M322.8 732.6h0M319.9 711.0h0M331.0 744.0h0M323.6 735.0h0M319.8 699.6h0M316.7 722.8h0M325.1 727.9h0M318.7 696.4h0M307.6 710.1h0M344.5 714.0h0M319.7 733.9h0M332.7 721.5h0M311.7 733.4h0M313.4 715.4h0M348.2 694.7h0M332.5 717.7h0M325.6 705.8h0M349.4 730.8h0M335.0 741.4h0M335.0 697.8h0M336.2 693.6h0M323.1 722.9h0M336.1 728.1h0M336.2 736.1h0M338.5 724.4h0M340.3 693.7h0M322.4 722.3h0M336.2 735.6h0M338.0 726.4h0M337.6 718.0h0M318.6 728.7h0M338.3 738.1h0M333.8 718.7h0M328.0 720.4h0M341.5 711.8h0M341.0 684.1h0M341.2 703.1h0M318.7 718.6h0M343.9 702.2h0M351.6 688.2h0M309.0 709.0h0M343.1 705.2h0M328.3 673.9h0M360.8 702.3h0M320.8 713.9h0M327.7 711.8h0M327.1 730.8h0M335.6 732.6h0M322.8 720.7h0M335.7 713.5h0M324.6 701.9h0M347.1 721.9h0M333.2 710.6h0M315.2 684.5h0M323.0 714.5h0M335.2 698.0h0M328.0 708.4h0M340.6 708.0h0M333.2 742.0h0M324.3 728.7h0M322.9 721.5h0M336.0 723.0h0M325.1 714.6h0M335.5 732.6h0M328.0 712.1h0M340.8 720.3h0M338.1 728.5h0M320.4 726.1h0M316.6 694.7h0M324.9 728.3h0M320.7 731.3h0M326.5 721.4h0M320.4 699.0h0M337.6 735.6h0M320.8 720.4h0M326.1 664.5h0M305.0 684.8h0M326.7 721.9h0M336.3 672.1h0M307.5 718.9h0M303.1 710.3h0M303.2 706.3h0M325.2 736.7h0M336.6 697.3h0M344.6 710.4h0M337.9 728.7h0M326.2 705.5h0M332.9 713.0h0M339.8 717.1h0M335.2 710.2h0M338.8 726.2h0M327.4 718.6h0M323.2 716.4h0M337.1 718.9h0M338.6 699.7h0M319.8 720.2h0M293.0 695.6h0M326.0 715.1h0M325.6 685.7h0M341.9 683.8h0M318.5 696.4h0M341.2 707.1h0M328.1 709.9h0M316.9 730.1h0M335.4 735.6h0M322.5 698.8h0M337.8 729.2h0M320.1 731.4h0M342.7 709.0h0M322.4 735.3h0M325.8 740.1h0M335.0 738.4h0M321.9 700.5h0M332.5 713.9h0M341.9 711.6h0M323.4 699.0h0M321.4 731.0h0M336.4 669.2h0M326.0 710.0h0M318.9 711.2h0M344.2 696.5h0M344.6 717.1h0M352.4 699.4h0M341.1 729.9h0M335.8 689.9h0M341.6 724.5h0M327.6 720.5h0M333.7 677.6h0M326.1 740.5h0M347.1 691.9h0M340.4 723.6h0M333.1 706.8h0M336.0 736.1h0M327.5 702.3h0M324.1 687.3h0M344.3 718.4h0M339.9 702.8h0M325.5 714.7h0M337.6 731.0h0M340.3 732.7h0M339.2 706.1h0M357.8 711.5h0M355.0 719.0h0M358.1 698.0h0M320.3 728.6h0M325.6 734.2h0M326.2 683.7h0M325.0 716.4h0M332.4 720.4h0M319.1 688.8h0M339.4 734.4h0M338.7 718.9h0M321.8 694.1h0M324.5 712.4h0M305.7 708.9h0M340.6 729.7h0M377.4 725.6h0M321.1 712.7h0M324.6 714.4h0M323.1 734.7h0M318.1 701.8h0M339.0 675.0h0M326.2 712.8h0M343.4 714.7h0M333.9 705.8h0M339.3 696.8h0M315.6 714.4h0M326.4 700.0h0M334.1 719.5h0M321.8 696.1h0M321.2 662.0h0M326.9 669.0h0M336.0 704.2h0M322.9 710.7h0M172.4 715.3h0M254.8 725.0h0M401.3 722.5h0M446.3 723.0h0M465.5 723.0h0M337.7 611.5h0M426.6 723.0h0M436.8 723.2h0M204.3 725.3h0" stroke="#6c6c6c" stroke-opacity=".36" stroke-width="3.2" stroke-linecap="round" fill="none"/>
<path d="M331.7 740.9h0M329.6 731.8h0M325.3 718.7h0M334.4 730.7h0M325.6 729.6h0M332.5 741.1h0M332.9 731.3h0M331.5 740.0h0M326.3 705.3h0M323.9 710.9h0M326.2 728.6h0M344.0 715.2h0M331.5 739.9h0M331.5 740.4h0M328.7 733.0h0M328.5 726.1h0M331.6 740.8h0M332.7 738.5h0M323.2 712.0h0M343.8 730.2h0M335.8 700.7h0M336.3 731.5h0M329.9 741.9h0M332.4 723.0h0M325.0 730.6h0M328.0 724.2h0M334.8 738.6h0M328.4 737.6h0M323.6 715.5h0M331.4 743.2h0M326.6 711.9h0M327.4 691.7h0M338.5 732.5h0M321.4 714.8h0M335.3 735.8h0M330.0 738.7h0M340.2 569.4h0M327.3 732.9h0M333.5 715.1h0M326.4 722.4h0M329.2 737.4h0M328.1 741.4h0M344.4 695.4h0M349.2 724.0h0M336.2 711.0h0M335.9 720.7h0M331.9 737.6h0M319.4 702.9h0M311.6 699.8h0M322.4 685.6h0M326.8 723.9h0M328.7 716.7h0M328.6 708.9h0M329.4 741.6h0M330.0 739.7h0M332.1 740.5h0M326.9 732.7h0M328.9 742.3h0M328.8 730.9h0M342.4 715.1h0M326.8 733.5h0M329.5 734.6h0M347.5 706.3h0M336.0 708.4h0M320.7 697.9h0M338.8 723.5h0M338.1 700.8h0M336.4 700.1h0M333.9 728.0h0M307.0 713.6h0M327.5 734.6h0M336.6 737.2h0M339.8 716.7h0M340.5 685.2h0M328.4 718.3h0M328.8 736.0h0M333.4 720.7h0M327.0 725.6h0M326.3 742.9h0M336.9 737.1h0M334.2 737.9h0M333.9 732.8h0M333.9 731.5h0M327.3 707.3h0M338.1 653.0h0M343.7 727.9h0M327.4 732.2h0M327.6 734.5h0M337.4 709.8h0M328.9 734.1h0M328.5 723.9h0M334.8 715.4h0M312.6 734.2h0M330.1 737.5h0M338.0 725.5h0M335.0 727.5h0M312.8 711.4h0M322.7 724.1h0M321.2 701.0h0M333.6 736.8h0M333.2 711.7h0M322.7 726.8h0M326.7 729.7h0M335.7 707.7h0M336.5 730.5h0M333.0 737.4h0M326.8 726.7h0M329.1 723.9h0M340.4 732.5h0M334.7 734.1h0M333.5 722.5h0M322.6 722.8h0M343.4 719.9h0M334.1 720.9h0M325.8 721.8h0M328.7 740.2h0M342.4 709.3h0M325.3 705.6h0M329.7 726.6h0M340.8 704.2h0M339.0 727.0h0M328.8 725.8h0M333.8 721.7h0M335.7 727.4h0M335.8 727.9h0M328.7 741.7h0M324.5 737.6h0M328.0 718.6h0M335.0 729.0h0M332.6 733.4h0M333.6 730.4h0M347.5 697.9h0M342.4 695.3h0M327.1 702.7h0M328.5 720.3h0M334.5 709.1h0M331.8 733.3h0M329.1 729.9h0M327.9 728.6h0M332.7 722.9h0M335.9 734.6h0M333.2 725.7h0M336.5 732.8h0M333.2 716.1h0M332.0 732.1h0M341.5 732.0h0M324.0 660.9h0M335.4 717.1h0M345.6 688.6h0M326.9 721.8h0M335.0 696.1h0M327.7 731.6h0M333.5 720.3h0M327.9 708.1h0M333.5 707.1h0M315.3 712.4h0M316.0 697.8h0M332.9 742.8h0M333.0 722.7h0M336.3 729.7h0M342.3 710.3h0M324.6 727.4h0M324.8 693.6h0M334.9 720.6h0M332.1 743.2h0M336.3 698.4h0M321.9 736.2h0M326.6 727.6h0M340.1 722.2h0M344.0 704.0h0M320.7 735.6h0M330.0 733.9h0M337.2 729.4h0M326.0 708.5h0M328.3 732.9h0M339.2 708.7h0M339.4 722.8h0M335.2 737.7h0M356.6 684.3h0M338.7 710.5h0M323.3 722.8h0M317.7 693.3h0M333.0 721.3h0M321.0 713.4h0M323.9 726.0h0M338.8 720.8h0M322.1 700.3h0M324.7 716.3h0M321.4 688.9h0M335.4 739.5h0M336.6 734.3h0M334.3 718.3h0M322.3 711.0h0M323.6 696.6h0M340.6 710.0h0M339.7 682.5h0M323.0 705.5h0M333.6 688.5h0M333.9 740.8h0M330.0 732.9h0M339.2 723.0h0M343.5 733.0h0M343.4 736.4h0M325.2 718.8h0M333.2 727.2h0M303.8 707.2h0M334.2 721.7h0M324.9 706.5h0M344.1 731.6h0M326.7 717.4h0M365.9 693.0h0M338.8 711.4h0M316.7 713.1h0M334.8 694.7h0M320.0 708.8h0M338.1 719.9h0M313.7 728.2h0M338.2 710.5h0M324.0 726.3h0M358.1 714.2h0M320.0 731.1h0M343.1 713.9h0M335.9 715.9h0M323.3 707.5h0M322.8 695.1h0M339.6 714.6h0M343.6 717.5h0M327.5 719.5h0M321.5 729.3h0M284.2 696.9h0M327.0 740.7h0M340.1 681.9h0M336.2 736.8h0M310.4 706.8h0M333.3 711.6h0M325.3 725.7h0M310.2 717.2h0M337.0 716.1h0M324.7 700.1h0M336.0 734.5h0M327.0 722.9h0M335.4 721.2h0M325.3 712.3h0M337.3 705.0h0M335.8 698.2h0M317.9 732.6h0M317.1 689.9h0M323.0 717.7h0M338.4 730.6h0M344.4 705.7h0M333.1 719.4h0M324.6 726.5h0M341.1 709.3h0M338.8 717.8h0M336.8 678.6h0M314.3 701.0h0M325.4 730.6h0M336.5 738.2h0M317.4 715.5h0M329.1 743.3h0M337.0 722.6h0M325.3 733.6h0M327.3 726.4h0M296.7 721.1h0M338.4 717.7h0M334.4 713.0h0M342.6 729.0h0M320.0 692.6h0M344.4 734.9h0M338.8 676.4h0M339.7 706.3h0M324.3 684.1h0M322.0 703.8h0M343.4 700.8h0M336.0 714.8h0M334.2 727.1h0M335.3 711.7h0M363.4 713.2h0M321.4 718.9h0M322.4 719.9h0M348.8 731.4h0M337.9 725.8h0M325.5 720.8h0M296.6 722.7h0M325.8 711.0h0M314.1 703.2h0M327.7 742.5h0M332.7 715.2h0M345.6 733.9h0M337.4 732.2h0M339.4 720.0h0M310.6 711.0h0M351.3 701.5h0M332.1 743.1h0M339.1 733.1h0M320.7 709.4h0M324.9 737.6h0M326.2 725.5h0M362.5 720.9h0M320.9 705.2h0M340.1 717.8h0M334.1 716.8h0M328.3 699.8h0M334.5 698.5h0M351.9 696.7h0M338.0 725.2h0M335.8 732.5h0M353.3 719.8h0M309.2 701.3h0M317.8 713.0h0M330.2 733.2h0M314.4 714.7h0M338.5 700.2h0M338.7 685.3h0M320.5 732.8h0M321.1 705.2h0M352.9 714.5h0M317.6 712.0h0M300.7 730.9h0M337.1 722.2h0M328.4 707.9h0M327.8 728.6h0M324.7 731.5h0M319.1 718.6h0M325.7 738.4h0M308.8 708.4h0M324.0 663.6h0M351.7 704.5h0M326.8 697.2h0M320.1 700.9h0M325.9 714.4h0M329.5 720.5h0M338.1 739.6h0M338.4 714.3h0M323.7 733.6h0M340.0 709.9h0M315.2 687.2h0M303.8 709.9h0M320.5 697.5h0M335.8 704.2h0M317.1 695.1h0M325.2 717.5h0M326.1 736.6h0M326.4 713.1h0M338.7 718.3h0M326.5 708.9h0M335.5 705.3h0M324.7 711.2h0M324.7 721.4h0M330.1 733.2h0M339.3 727.6h0M308.6 730.2h0M319.2 704.6h0M335.2 702.1h0M346.2 708.3h0M313.8 703.4h0M323.0 706.7h0M322.7 722.4h0M339.7 724.1h0M322.2 710.2h0M326.7 693.5h0M335.1 699.7h0M339.1 740.5h0M322.9 687.8h0M342.9 733.2h0M327.4 711.4h0M349.0 722.8h0M337.5 710.9h0M313.7 694.2h0M346.7 710.1h0M332.8 711.5h0M347.5 688.2h0M334.9 706.4h0M319.6 724.8h0M326.1 704.7h0M340.9 727.6h0M316.9 732.6h0M326.8 707.2h0M318.7 720.2h0M319.4 719.2h0M328.6 743.3h0M323.0 735.4h0M318.1 711.6h0M337.4 655.6h0M348.7 737.0h0M326.0 707.4h0M339.9 706.7h0M327.6 692.8h0M335.7 693.9h0M314.3 687.7h0M339.1 720.3h0M504.9 682.9h0M339.4 731.7h0M323.6 716.8h0M324.4 706.2h0M343.5 692.0h0M407.1 716.0h0M336.2 667.5h0M323.3 705.4h0M327.2 705.5h0M327.0 696.3h0M340.4 728.1h0M315.2 684.4h0M343.5 707.5h0M344.5 710.4h0M336.6 712.5h0M337.1 703.2h0M196.6 715.3h0M258.0 725.0h0M405.5 723.0h0M428.8 717.5h0M472.0 708.0h0M326.2 613.8h0M444.9 723.2h0M430.1 723.5h0" stroke="#6c6c6c" stroke-opacity=".36" stroke-width="3.2" stroke-linecap="round" fill="none"/>
<path d="M326.6 703.2h0M321.2 730.4h0M335.5 719.8h0M328.7 719.1h0M326.9 730.3h0M327.4 731.4h0M331.0 743.9h0M330.1 740.8h0M335.3 729.2h0M342.8 703.9h0M312.1 694.6h0M332.6 733.1h0M333.0 729.6h0M324.5 722.8h0M329.9 736.9h0M327.3 703.7h0M330.1 741.8h0M330.0 736.6h0M328.8 735.2h0M334.3 708.1h0M333.1 737.7h0M340.6 690.6h0M339.5 731.5h0M332.1 739.1h0M339.1 722.2h0M320.8 731.9h0M329.8 738.4h0M332.9 699.8h0M331.0 744.0h0M329.1 735.7h0M329.5 732.4h0M328.9 734.9h0M330.0 741.1h0M328.4 715.8h0M331.2 743.5h0M308.3 713.9h0M327.4 725.1h0M332.6 738.1h0M334.5 716.6h0M329.1 726.7h0M327.9 733.8h0M329.8 731.4h0M328.1 719.4h0M347.9 703.9h0M333.7 741.1h0M334.0 704.3h0M335.0 722.6h0M332.0 736.1h0M334.8 730.5h0M329.9 733.8h0M331.9 737.4h0M347.2 714.4h0M326.6 727.0h0M336.0 679.2h0M333.9 720.0h0M332.7 736.2h0M324.9 734.7h0M328.7 725.9h0M326.9 730.2h0M333.8 708.0h0M330.6 737.4h0M333.3 735.1h0M328.0 714.0h0M341.0 719.1h0M332.6 727.9h0M330.1 734.5h0M326.9 737.5h0M323.2 729.0h0M334.6 717.3h0M338.4 736.1h0M333.2 720.1h0M317.0 732.8h0M333.8 735.2h0M336.5 735.8h0M322.1 731.5h0M328.3 721.5h0M327.8 732.1h0M328.9 732.4h0M326.4 705.0h0M324.1 737.3h0M327.3 693.1h0M329.0 732.6h0M322.8 711.3h0M314.5 719.0h0M333.6 711.9h0M329.4 731.9h0M326.8 723.5h0M335.4 733.9h0M327.9 734.7h0M328.5 695.3h0M315.3 693.6h0M343.8 722.4h0M335.8 722.8h0M327.4 731.5h0M335.3 730.4h0M333.4 739.7h0M366.3 707.9h0M360.5 706.7h0M319.9 724.2h0M333.2 737.5h0M333.1 734.7h0M325.0 720.4h0M378.2 690.3h0M334.4 739.5h0M342.5 691.8h0M325.0 719.0h0M336.4 732.0h0M338.1 721.6h0M364.1 734.3h0M321.6 724.6h0M332.3 727.9h0M328.3 723.5h0M327.5 736.6h0M326.8 713.9h0M344.2 734.0h0M320.9 716.4h0M338.0 733.6h0M328.8 697.0h0M326.3 714.5h0M327.6 720.3h0M344.0 698.4h0M301.8 701.8h0M316.3 733.3h0M328.6 722.1h0M326.3 729.2h0M355.2 704.9h0M329.0 731.0h0M336.4 713.6h0M355.5 712.1h0M345.9 712.0h0M328.6 731.8h0M339.4 720.8h0M328.7 740.0h0M332.6 728.6h0M328.0 724.4h0M322.9 686.5h0M334.2 740.1h0M338.4 730.5h0M329.2 716.0h0M328.6 738.0h0M323.1 682.7h0M340.4 720.7h0M331.9 733.7h0M318.6 718.9h0M333.0 710.7h0M324.4 715.6h0M336.5 649.2h0M342.7 714.9h0M327.0 722.5h0M325.6 739.0h0M312.3 715.9h0M333.3 706.8h0M365.3 723.8h0M329.0 725.5h0M333.4 723.2h0M340.2 718.9h0M323.3 720.3h0M336.9 704.8h0M327.8 729.9h0M314.1 704.7h0M332.7 721.1h0M337.7 722.5h0M327.2 713.6h0M326.8 718.7h0M335.4 731.6h0M334.3 715.7h0M326.0 707.8h0M325.2 714.7h0M346.8 707.2h0M340.5 719.1h0M340.8 701.9h0M336.9 729.7h0M328.9 729.4h0M336.7 715.1h0M336.9 723.3h0M338.0 735.6h0M336.2 738.6h0M328.6 727.6h0M318.1 729.0h0M338.0 734.1h0M339.9 723.1h0M326.6 728.9h0M311.8 721.4h0M329.3 727.3h0M325.7 702.5h0M329.2 720.0h0M338.0 735.2h0M329.4 725.6h0M329.1 723.3h0M335.6 737.1h0M312.3 704.3h0M337.6 725.0h0M335.4 740.3h0M334.7 733.2h0M326.8 710.5h0M324.4 735.8h0M326.3 734.2h0M318.5 701.1h0M341.6 707.6h0M319.6 705.3h0M326.6 738.3h0M328.0 714.8h0M336.6 730.5h0M326.6 733.6h0M326.7 710.4h0M334.6 696.3h0M310.8 731.2h0M325.9 730.8h0M332.0 735.9h0M328.0 727.6h0M324.0 703.2h0M324.6 727.7h0M333.0 716.0h0M324.6 722.6h0M328.4 710.0h0M328.8 722.4h0M332.7 690.8h0M336.7 717.8h0M356.7 733.0h0M321.1 699.1h0M340.4 713.3h0M336.9 703.6h0M339.3 715.8h0M325.8 738.2h0M333.0 719.4h0M327.5 711.8h0M339.4 715.2h0M322.7 711.5h0M336.5 733.2h0M333.3 727.9h0M335.8 738.8h0M326.7 690.8h0M339.1 708.6h0M321.0 713.8h0M337.3 710.5h0M343.9 728.9h0M326.1 725.5h0M341.8 686.7h0M325.5 725.6h0M327.0 709.7h0M328.0 724.1h0M337.7 716.9h0M329.3 724.1h0M334.1 740.9h0M337.6 725.4h0M323.1 716.1h0M341.2 728.0h0M335.0 696.5h0M342.8 706.9h0M317.3 716.3h0M337.3 721.5h0M334.6 724.0h0M332.9 712.7h0M290.8 731.4h0M325.4 716.8h0M352.4 703.5h0M334.0 705.7h0M318.5 711.8h0M345.4 708.4h0M305.7 694.7h0M326.8 700.3h0M319.8 734.9h0M323.8 728.4h0M338.5 724.4h0M336.2 698.8h0M335.4 705.5h0M320.3 731.0h0M329.0 722.3h0M320.8 720.3h0M328.2 689.0h0M335.4 683.1h0M327.3 716.1h0M318.4 711.8h0M333.8 714.5h0M336.9 729.3h0M307.8 720.5h0M326.6 724.3h0M331.9 721.0h0M315.8 687.3h0M323.2 669.4h0M337.1 698.8h0M323.7 725.6h0M351.7 715.1h0M329.6 724.2h0M337.9 672.4h0M342.2 732.7h0M322.9 680.6h0M331.0 744.1h0M323.2 699.6h0M337.1 734.6h0M338.1 707.2h0M327.8 742.5h0M287.7 728.0h0M336.0 726.2h0M337.0 715.5h0M327.1 699.4h0M325.4 692.1h0M323.8 725.5h0M325.5 703.6h0M361.7 703.7h0M337.0 720.8h0M359.5 701.6h0M337.5 738.9h0M341.8 699.8h0M338.7 733.1h0M335.6 717.8h0M347.6 701.9h0M327.8 740.5h0M327.6 705.1h0M329.1 722.4h0M312.1 724.4h0M352.4 709.8h0M347.5 720.9h0M334.9 704.3h0M335.9 710.1h0M324.4 732.7h0M319.5 718.9h0M334.2 694.4h0M338.3 715.6h0M338.2 740.5h0M325.8 738.8h0M319.8 705.8h0M324.1 725.0h0M336.9 733.9h0M325.4 739.6h0M324.7 729.1h0M338.9 737.1h0M321.1 727.6h0M329.2 716.7h0M331.9 731.3h0M329.3 714.6h0M317.9 700.4h0M313.2 700.2h0M336.5 723.4h0M319.8 685.4h0M339.1 718.6h0M342.3 726.3h0M317.7 736.3h0M324.1 721.9h0M335.1 707.7h0M339.5 724.3h0M333.6 687.7h0M325.6 698.3h0M325.6 717.5h0M320.7 717.5h0M348.7 718.0h0M322.4 716.8h0M327.7 719.7h0M326.9 704.0h0M325.3 696.8h0M347.5 682.1h0M328.1 697.5h0M323.3 719.3h0M335.4 706.9h0M336.1 720.3h0M329.0 711.5h0M326.5 725.2h0M374.4 709.2h0M322.3 689.4h0M334.7 711.3h0M322.6 727.3h0M311.8 716.8h0M320.4 701.5h0M314.4 682.6h0M343.4 727.7h0M321.8 726.4h0M321.9 692.8h0M345.9 693.7h0M324.1 703.0h0M337.1 731.8h0M322.3 738.7h0M324.4 713.8h0M339.0 700.5h0M333.0 718.8h0M334.4 714.6h0M347.7 712.2h0M341.8 725.8h0M322.0 700.0h0M321.3 731.0h0M321.1 707.5h0M330.1 731.0h0M333.6 705.6h0M318.4 709.9h0M334.7 710.7h0M338.2 740.2h0M337.2 708.4h0M338.6 701.9h0M370.2 691.2h0M324.1 696.1h0M312.9 687.5h0M329.4 717.1h0M347.6 717.8h0M340.7 704.9h0M352.7 717.7h0M340.4 729.6h0M326.7 693.0h0M342.1 713.9h0M337.1 698.7h0M346.1 726.6h0M322.0 719.3h0M340.7 728.0h0M325.7 739.8h0M338.8 708.9h0M347.8 726.0h0M366.5 721.5h0M342.3 699.7h0M355.1 702.6h0M202.5 708.4h0M271.0 722.5h0M410.0 721.8h0M439.5 696.3h0M475.0 708.0h0M328.5 615.7h0M444.0 722.5h0M439.8 723.6h0" stroke="#6c6c6c" stroke-opacity=".36" stroke-width="3.2" stroke-linecap="round" fill="none"/>
<path d="M329.2 723.0h0M337.1 727.6h0M325.1 705.4h0M337.5 723.2h0M326.2 730.4h0M334.0 723.7h0M325.6 728.8h0M334.0 728.9h0M329.0 735.6h0M332.1 737.0h0M334.1 717.4h0M331.0 744.1h0M333.1 720.6h0M325.2 735.0h0M345.6 714.1h0M330.1 736.4h0M319.5 706.5h0M328.9 731.6h0M336.8 682.5h0M303.6 700.7h0M333.4 739.5h0M327.4 737.8h0M335.1 697.0h0M330.5 740.0h0M329.0 733.1h0M328.8 705.7h0M345.3 721.1h0M333.1 736.2h0M333.8 729.3h0M336.3 687.9h0M331.4 738.8h0M345.5 705.3h0M331.0 743.8h0M333.5 731.2h0M335.6 730.6h0M328.4 710.6h0M332.8 738.2h0M316.8 694.7h0M335.5 690.8h0M300.3 696.5h0M340.7 714.4h0M335.0 718.5h0M333.6 733.9h0M333.8 722.0h0M316.8 703.7h0M329.5 740.2h0M322.0 682.3h0M336.6 712.0h0M338.8 722.9h0M333.3 737.6h0M329.0 711.1h0M327.4 709.6h0M327.8 694.7h0M329.8 736.9h0M331.8 736.8h0M332.3 737.3h0M330.8 744.0h0M328.9 720.5h0M337.2 721.2h0M349.6 706.9h0M325.9 729.9h0M333.0 717.4h0M332.1 737.9h0M332.9 736.5h0M323.8 671.0h0M326.9 716.3h0M333.7 724.4h0M336.0 695.4h0M335.7 731.9h0M320.1 712.3h0M334.6 740.5h0M328.9 725.4h0M327.6 737.5h0M333.5 741.4h0M332.4 735.9h0M330.1 735.0h0M327.3 727.6h0M344.4 702.6h0M332.2 735.9h0M335.3 718.1h0M326.3 723.4h0M327.9 733.1h0M341.3 697.9h0M325.8 719.6h0M335.3 719.1h0M329.7 726.3h0M341.1 720.1h0M334.3 707.4h0M332.6 731.0h0M335.1 726.1h0M333.2 739.2h0M333.1 736.9h0M333.0 714.3h0M332.3 725.7h0M328.1 741.5h0M333.2 734.0h0M333.3 718.9h0M327.6 729.7h0M337.1 702.0h0M333.6 726.3h0M327.3 738.6h0M384.1 729.7h0M328.0 721.6h0M322.1 720.8h0M331.7 734.6h0M335.6 723.5h0M325.1 707.3h0M318.3 701.4h0M334.4 730.3h0M333.9 724.1h0M320.5 713.4h0M335.5 737.3h0M334.1 726.4h0M345.3 704.3h0M333.4 740.0h0M341.5 719.9h0M327.2 684.5h0M322.5 710.1h0M327.2 724.0h0M327.9 729.5h0M324.8 738.4h0M325.7 737.4h0M339.6 696.0h0M333.7 729.2h0M328.6 728.2h0M338.9 626.8h0M316.8 692.6h0M326.8 720.7h0M324.9 736.0h0M332.8 725.0h0M332.7 729.4h0M337.2 697.1h0M334.0 736.9h0M329.2 725.3h0M327.7 726.5h0M329.3 703.8h0M354.7 721.5h0M330.0 735.4h0M338.1 709.6h0M329.0 730.9h0M336.5 699.1h0M333.3 727.0h0M347.5 689.1h0M336.5 674.7h0M326.9 734.2h0M336.6 730.8h0M294.1 721.2h0M328.6 723.6h0M312.2 725.0h0M327.1 699.0h0M342.2 709.1h0M307.8 722.9h0M355.6 692.5h0M329.0 709.7h0M316.9 699.4h0M325.1 716.6h0M335.7 680.6h0M342.0 717.4h0M336.3 721.1h0M329.5 705.4h0M334.2 730.7h0M302.2 714.3h0M335.7 734.9h0M336.1 729.6h0M360.5 717.8h0M344.8 710.9h0M324.4 676.7h0M331.9 733.8h0M323.6 722.9h0M324.0 702.8h0M327.0 714.6h0M322.6 721.5h0M337.1 699.3h0M324.8 728.8h0M326.8 708.0h0M325.7 722.1h0M336.6 737.7h0M323.9 720.3h0M318.2 721.3h0M319.8 723.8h0M328.8 722.0h0M359.1 696.6h0M337.0 726.5h0M319.0 715.3h0M335.6 737.5h0M334.3 714.8h0M328.9 720.3h0M325.1 682.8h0M327.9 736.2h0M322.8 703.7h0M336.4 688.3h0M348.9 719.9h0M335.5 740.8h0M328.9 714.1h0M364.1 695.0h0M321.5 731.9h0M339.8 720.8h0M337.5 728.3h0M334.3 721.9h0M328.7 702.4h0M334.3 740.4h0M335.2 724.9h0M324.7 721.3h0M337.0 723.2h0M326.2 715.7h0M332.6 720.0h0M325.2 718.1h0M343.9 725.1h0M327.8 741.9h0M339.2 735.6h0M326.6 720.0h0M308.9 715.8h0M346.4 729.1h0M327.1 692.9h0M326.4 722.9h0M308.7 704.4h0M334.5 741.4h0M333.7 715.1h0M323.1 701.6h0M335.0 721.5h0M342.1 697.5h0M321.0 719.6h0M326.8 706.8h0M338.1 739.4h0M337.2 721.3h0M333.0 715.3h0M325.0 721.0h0M335.5 700.0h0M318.0 723.4h0M334.0 718.6h0M339.5 708.0h0M325.7 726.4h0M336.6 728.5h0M341.6 732.8h0M323.4 730.4h0M322.3 705.8h0M324.0 737.7h0M325.5 713.1h0M326.7 725.9h0M318.3 701.0h0M326.5 702.1h0M327.7 717.0h0M334.3 706.2h0M334.9 725.8h0M327.8 721.5h0M322.6 704.9h0M359.4 712.6h0M336.0 673.4h0M338.8 725.2h0M333.8 719.8h0M323.7 723.7h0M333.9 711.0h0M322.2 715.0h0M333.5 694.6h0M335.3 723.9h0M324.4 697.3h0M325.0 737.8h0M336.8 721.8h0M328.8 708.3h0M328.8 713.9h0M333.9 706.4h0M341.9 737.6h0M335.5 736.4h0M312.8 717.2h0M320.7 735.3h0M337.2 705.8h0M333.9 723.0h0M325.6 656.4h0M338.0 725.1h0M328.5 715.7h0M340.4 693.0h0M334.9 706.1h0M324.6 699.4h0M346.8 724.8h0M324.1 733.2h0M336.8 697.4h0M336.6 709.9h0M313.7 712.9h0M334.2 719.6h0M336.7 666.2h0M325.1 684.2h0M334.6 717.3h0M345.7 714.1h0M332.8 743.3h0M340.1 734.2h0M323.4 712.7h0M324.9 714.6h0M327.4 720.1h0M336.4 728.6h0M337.9 699.3h0M327.7 709.8h0M344.8 704.4h0M334.0 693.5h0M335.1 732.2h0M314.7 699.8h0M332.0 730.0h0M331.0 744.1h0M339.7 727.6h0M335.7 685.3h0M322.7 726.4h0M344.1 721.3h0M338.4 722.4h0M321.7 707.9h0M326.1 716.6h0M349.8 699.5h0M334.8 703.0h0M338.6 715.6h0M333.8 713.8h0M340.9 731.9h0M325.0 716.6h0M328.7 696.8h0M350.0 720.4h0M339.6 738.0h0M340.8 704.5h0M337.5 714.8h0M339.3 722.0h0M335.2 714.5h0M332.5 717.0h0M328.5 710.3h0M342.3 734.4h0M336.1 738.6h0M325.8 736.6h0M316.6 729.1h0M327.2 715.5h0M360.0 705.3h0M338.7 729.7h0M323.3 715.0h0M316.6 706.7h0M326.2 704.6h0M338.3 737.1h0M339.1 711.3h0M331.7 729.7h0M323.7 697.1h0M323.5 709.3h0M322.4 694.6h0M326.5 713.5h0M340.6 689.9h0M338.5 730.0h0M321.4 689.2h0M324.4 729.8h0M326.2 736.4h0M317.5 702.1h0M352.2 690.4h0M338.8 704.0h0M344.0 700.6h0M337.9 726.6h0M337.3 726.1h0M341.4 733.0h0M327.1 697.7h0M330.0 730.3h0M333.9 700.8h0M337.8 699.5h0M320.4 695.0h0M324.2 729.8h0M319.9 690.9h0M352.1 714.2h0M340.0 705.3h0M323.4 702.1h0M337.0 738.1h0M327.4 711.0h0M323.6 737.4h0M346.0 722.7h0M343.1 683.2h0M340.2 724.1h0M327.1 711.3h0M340.5 730.5h0M330.1 731.8h0M325.4 702.9h0M343.2 722.5h0M343.0 719.0h0M345.0 691.3h0M338.9 692.4h0M373.8 701.7h0M314.6 723.9h0M316.2 719.8h0M331.8 730.2h0M320.0 716.9h0M333.3 702.9h0M337.1 732.8h0M336.8 713.9h0M332.4 715.3h0M339.8 706.6h0M338.5 731.1h0M320.8 698.5h0M338.1 720.2h0M324.3 719.2h0M340.7 713.6h0M326.6 698.3h0M342.0 708.2h0M328.2 709.2h0M338.1 735.7h0M338.6 702.4h0M335.2 716.3h0M317.1 698.3h0M323.8 727.2h0M339.3 720.5h0M337.9 737.1h0M319.6 739.4h0M328.2 709.1h0M324.5 699.1h0M336.9 726.4h0M328.5 700.7h0M335.2 712.1h0M331.7 731.8h0M340.9 693.8h0M339.1 729.9h0M319.0 693.0h0M198.6 725.1h0M274.4 706.8h0M420.0 722.5h0M445.0 702.5h0M483.8 708.5h0M333.8 615.7h0M435.4 722.7h0M443.9 722.8h0" stroke="#6c6c6c" stroke-opacity=".36" stroke-width="3.2" stroke-linecap="round" fill="none"/>
<path d="M337.3 692.4h0M329.2 721.7h0M328.3 738.3h0M325.8 729.7h0M331.2 742.4h0M326.3 700.0h0M327.5 710.3h0M335.5 729.2h0M339.0 722.7h0M327.1 727.8h0M333.0 738.8h0M324.9 738.2h0M328.7 707.6h0M332.6 730.4h0M324.2 689.9h0M333.4 732.4h0M310.9 703.5h0M316.7 696.5h0M330.1 738.7h0M326.4 723.1h0M331.1 741.1h0M331.8 736.6h0M328.0 738.2h0M334.5 714.4h0M330.3 734.7h0M333.2 707.3h0M332.8 719.2h0M323.1 713.5h0M330.9 744.2h0M329.0 738.4h0M331.5 739.4h0M338.2 693.2h0M328.4 709.3h0M341.3 727.5h0M335.0 733.2h0M329.0 721.2h0M326.3 723.5h0M329.2 733.5h0M329.0 737.1h0M329.2 728.4h0M326.7 735.8h0M335.5 739.1h0M329.3 733.3h0M326.5 735.8h0M329.6 740.8h0M332.6 726.0h0M330.4 738.9h0M329.0 736.0h0M312.3 693.7h0M333.1 719.5h0M331.0 744.1h0M335.0 723.9h0M333.7 723.5h0M304.7 710.3h0M334.6 720.6h0M326.8 710.1h0M326.0 726.7h0M332.6 732.3h0M333.8 728.8h0M324.0 727.7h0M324.0 724.9h0M336.3 733.8h0M334.3 698.2h0M329.4 731.2h0M333.9 716.1h0M331.3 738.2h0M325.3 731.9h0M333.1 734.9h0M303.4 706.2h0M333.0 740.1h0M329.3 730.6h0M333.5 738.3h0M328.2 691.2h0M328.5 728.6h0M332.8 732.7h0M325.6 733.1h0M327.3 727.3h0M330.2 737.4h0M330.1 738.1h0M320.8 700.2h0M338.0 733.4h0M327.5 735.3h0M311.0 696.6h0M324.7 721.8h0M332.2 740.9h0M328.4 740.1h0M327.2 702.0h0M336.6 736.6h0M355.7 698.7h0M303.2 688.9h0M338.5 715.6h0M334.8 734.6h0M324.6 729.6h0M326.1 730.3h0M333.7 725.3h0M330.0 734.9h0M334.5 733.0h0M337.6 735.6h0M339.1 716.2h0M314.2 689.1h0M338.0 728.5h0M341.3 727.1h0M338.8 722.2h0M336.9 692.3h0M326.1 730.0h0M325.3 732.1h0M335.7 711.9h0M324.7 723.8h0M280.0 684.9h0M334.2 702.5h0M322.1 725.7h0M339.8 699.3h0M328.4 729.6h0M332.1 739.0h0M335.9 738.1h0M328.6 728.0h0M332.4 742.4h0M338.8 721.6h0M339.6 717.0h0M316.0 688.5h0M340.8 723.5h0M333.6 732.7h0M343.2 706.7h0M323.3 719.2h0M327.9 724.0h0M321.0 717.3h0M327.8 731.6h0M348.0 703.4h0M336.6 697.0h0M339.0 707.5h0M318.2 730.8h0M333.9 700.9h0M327.4 737.6h0M323.4 726.3h0M332.7 728.1h0M351.3 720.3h0M333.2 737.6h0M326.3 714.1h0M339.0 722.9h0M336.3 725.2h0M317.8 705.4h0M335.3 718.4h0M336.6 701.3h0M335.3 729.9h0M315.3 711.3h0M332.3 742.1h0M322.9 705.0h0M337.9 723.4h0M325.6 712.8h0M327.8 734.0h0M336.1 711.6h0M326.8 729.9h0M349.1 682.4h0M325.1 707.4h0M325.1 705.1h0M355.1 707.1h0M339.1 727.3h0M326.3 731.9h0M335.1 711.0h0M332.4 726.3h0M325.8 728.0h0M330.2 732.8h0M344.7 712.0h0M321.0 705.8h0M334.9 717.1h0M335.2 729.4h0M327.4 717.4h0M316.7 725.7h0M334.0 721.8h0M325.2 715.3h0M334.0 729.5h0M334.7 735.2h0M331.9 734.0h0M332.0 726.1h0M338.7 719.5h0M333.2 725.0h0M340.4 729.8h0M336.8 717.7h0M349.6 687.2h0M337.2 711.1h0M334.7 730.1h0M329.4 721.3h0M335.4 690.3h0M347.0 706.9h0M325.2 699.9h0M333.0 714.4h0M321.9 734.8h0M334.2 727.6h0M324.1 714.3h0M336.8 734.6h0M343.2 727.3h0M324.9 718.0h0M327.2 724.7h0M339.7 721.5h0M333.4 714.0h0M335.7 737.6h0M355.6 701.7h0M341.5 720.0h0M326.6 726.8h0M354.3 734.3h0M336.5 732.7h0M327.9 739.0h0M337.3 728.3h0M348.2 683.9h0M319.5 723.9h0M340.0 721.7h0M324.6 735.1h0M332.6 721.1h0M328.5 724.4h0M329.7 724.1h0M328.1 710.1h0M337.1 717.6h0M320.3 708.0h0M325.7 720.0h0M340.7 651.3h0M336.5 706.9h0M312.6 724.0h0M336.9 694.7h0M336.9 699.0h0M323.1 731.5h0M339.3 708.7h0M327.4 719.0h0M324.7 723.2h0M334.8 705.1h0M332.3 710.5h0M326.8 720.5h0M336.9 711.7h0M334.6 728.4h0M336.2 711.4h0M346.3 711.1h0M334.9 726.1h0M325.2 709.0h0M314.7 727.3h0M326.2 713.5h0M322.1 683.4h0M347.2 729.3h0M335.8 697.9h0M320.0 724.3h0M323.4 721.0h0M345.2 714.8h0M324.7 686.2h0M334.1 738.6h0M326.0 729.5h0M341.5 715.0h0M328.1 693.4h0M341.0 715.5h0M341.7 720.7h0M335.8 699.3h0M317.2 730.5h0M333.9 722.3h0M339.9 721.5h0M335.6 722.5h0M337.3 700.0h0M277.0 694.3h0M326.9 716.4h0M326.5 733.6h0M325.7 698.8h0M327.2 703.9h0M325.9 721.5h0M322.6 726.7h0M326.5 712.0h0M313.6 719.5h0M323.3 736.5h0M336.6 717.9h0M328.9 711.1h0M325.7 720.5h0M322.1 721.0h0M322.4 700.8h0M336.7 709.4h0M348.1 730.6h0M334.4 703.3h0M322.9 735.9h0M337.2 713.7h0M321.1 696.1h0M320.4 712.5h0M324.0 717.2h0M327.0 723.0h0M338.6 715.9h0M336.1 734.4h0M339.9 654.2h0M321.7 715.8h0M326.8 722.8h0M318.2 723.8h0M332.3 712.2h0M333.4 708.2h0M326.8 711.8h0M340.5 718.5h0M336.2 729.0h0M326.6 738.8h0M325.4 654.9h0M327.2 716.1h0M324.8 733.1h0M334.7 721.9h0M340.9 719.6h0M336.5 720.6h0M337.9 734.2h0M341.4 716.3h0M319.1 729.0h0M336.4 721.5h0M340.1 723.0h0M328.4 714.8h0M344.9 696.3h0M346.1 719.9h0M336.2 715.1h0M336.7 718.3h0M322.5 725.7h0M325.2 723.2h0M339.8 693.5h0M335.1 732.1h0M339.5 730.9h0M340.6 712.4h0M325.2 739.5h0M338.3 675.9h0M344.0 711.3h0M352.5 713.8h0M317.5 703.7h0M326.0 717.3h0M325.0 717.7h0M337.1 709.3h0M337.3 711.1h0M314.7 715.8h0M320.2 701.1h0M336.1 711.8h0M338.6 733.5h0M336.6 739.7h0M340.0 725.4h0M326.3 705.1h0M322.6 735.7h0M320.0 685.9h0M337.9 719.4h0M339.0 708.0h0M323.3 728.4h0M333.4 714.3h0M338.9 705.9h0M338.8 710.0h0M336.6 718.2h0M343.5 700.3h0M341.3 720.5h0M341.0 715.4h0M342.8 712.2h0M351.9 707.2h0M317.5 690.8h0M320.1 714.4h0M324.4 714.1h0M332.6 720.8h0M355.1 729.1h0M343.4 722.8h0M336.0 718.3h0M329.5 707.9h0M339.0 731.8h0M329.1 714.1h0M318.9 694.0h0M312.1 704.1h0M344.8 702.0h0M335.1 700.7h0M332.7 709.6h0M326.0 734.1h0M325.8 713.9h0M322.1 727.4h0M327.0 706.6h0M333.9 706.4h0M336.7 717.3h0M340.8 718.6h0M323.6 724.2h0M324.8 723.7h0M321.0 723.2h0M359.2 699.0h0M341.0 732.5h0M332.6 718.6h0M335.3 698.3h0M324.2 688.8h0M318.7 710.1h0M325.6 693.6h0M327.8 699.2h0M334.7 700.0h0M337.4 695.5h0M339.7 713.9h0M321.6 711.0h0M338.2 715.0h0M314.9 708.9h0M338.3 701.1h0M330.1 728.0h0M336.6 720.1h0M341.4 717.7h0M342.8 700.6h0M317.4 714.4h0M340.7 727.3h0M337.8 730.3h0M344.3 718.0h0M328.0 714.9h0M326.2 736.3h0M338.4 728.4h0M334.4 700.9h0M319.0 738.2h0M316.3 711.4h0M322.1 693.5h0M324.4 710.4h0M327.4 707.9h0M328.0 709.4h0M335.5 698.0h0M336.6 719.3h0M338.2 718.8h0M341.9 712.3h0M335.2 685.0h0M329.1 713.0h0M345.8 735.7h0M321.4 714.6h0M204.0 725.0h0M277.6 713.0h0M425.0 723.0h0M436.3 708.8h0M372.5 722.5h0M336.9 617.7h0M436.9 723.1h0M433.2 722.6h0" stroke="#6c6c6c" stroke-opacity=".36" stroke-width="3.2" stroke-linecap="round" fill="none"/>
<path d="M332.7 728.5h0M325.9 723.5h0M324.2 699.3h0M332.0 738.6h0M333.3 730.5h0M333.9 730.1h0M337.3 731.4h0M346.8 714.3h0M339.0 709.2h0M310.0 714.5h0M331.7 736.1h0M333.8 729.5h0M324.3 731.2h0M338.5 727.9h0M331.0 742.9h0M332.1 739.8h0M329.9 742.8h0M331.4 741.4h0M326.6 719.1h0M332.9 736.6h0M334.2 712.3h0M341.9 727.4h0M332.1 738.7h0M344.6 726.7h0M329.8 736.1h0M333.9 713.3h0M325.8 734.9h0M331.5 738.8h0M323.8 711.1h0M327.1 735.9h0M334.7 734.0h0M324.6 717.7h0M323.2 731.5h0M335.9 718.6h0M329.3 717.3h0M311.5 708.3h0M334.4 730.4h0M325.4 711.0h0M327.0 723.6h0M333.3 736.4h0M332.9 731.0h0M335.3 739.3h0M329.8 740.4h0M332.4 741.9h0M331.9 732.6h0M335.6 728.5h0M334.1 714.7h0M330.4 739.1h0M331.7 739.7h0M334.5 736.6h0M327.6 730.9h0M329.4 730.8h0M332.3 724.0h0M355.8 693.5h0M332.2 736.0h0M333.4 735.3h0M339.8 702.0h0M333.3 731.4h0M325.3 718.1h0M328.3 726.9h0M329.1 730.5h0M332.0 732.6h0M326.0 722.7h0M318.6 694.5h0M332.3 733.8h0M335.8 730.6h0M334.3 717.9h0M332.5 736.5h0M322.3 725.8h0M327.7 730.0h0M311.7 716.2h0M333.2 741.3h0M325.4 695.1h0M338.2 727.9h0M327.5 722.7h0M329.3 734.5h0M333.1 716.5h0M338.7 729.8h0M328.0 741.4h0M329.0 732.1h0M336.4 728.7h0M338.7 629.6h0M338.4 704.2h0M332.9 718.2h0M328.0 704.3h0M334.1 732.4h0M327.6 729.5h0M338.5 698.7h0M334.3 734.7h0M327.0 701.1h0M322.7 735.3h0M324.2 728.3h0M330.1 736.0h0M333.2 741.0h0M336.2 731.6h0M340.9 729.6h0M321.3 726.9h0M336.3 707.1h0M327.6 737.1h0M324.6 730.4h0M324.5 713.7h0M333.8 733.0h0M335.4 716.5h0M329.2 727.1h0M334.7 734.5h0M327.5 727.4h0M338.2 721.4h0M333.2 742.0h0M325.2 718.2h0M330.4 736.4h0M333.3 739.1h0M327.6 723.8h0M325.8 715.4h0M336.2 700.4h0M328.0 724.3h0M334.1 722.0h0M328.6 734.7h0M369.4 705.9h0M333.8 712.4h0M327.9 668.1h0M325.9 735.8h0M327.6 710.7h0M329.1 719.1h0M337.9 723.5h0M337.0 712.6h0M333.3 718.7h0M333.4 733.1h0M334.0 739.7h0M327.0 730.1h0M322.8 714.7h0M340.5 727.3h0M333.3 723.4h0M322.8 714.4h0M338.8 722.8h0M296.6 717.3h0M332.9 705.1h0M328.7 723.1h0M331.8 734.2h0M333.6 724.6h0M326.8 718.1h0M329.4 717.9h0M338.8 707.3h0M323.5 718.2h0M337.9 708.3h0M336.0 665.6h0M340.1 717.6h0M333.4 718.6h0M326.7 704.9h0M329.6 742.4h0M334.5 702.3h0M335.3 733.2h0M326.4 700.1h0M352.7 707.9h0M335.1 730.3h0M338.2 711.2h0M327.0 714.5h0M321.9 696.1h0M336.4 716.6h0M326.9 715.2h0M339.4 721.1h0M319.6 717.9h0M327.3 739.3h0M320.2 727.2h0M335.9 718.9h0M329.9 743.5h0M323.6 721.2h0M337.2 706.1h0M346.7 717.6h0M322.4 696.3h0M336.5 727.1h0M323.8 703.7h0M333.1 740.4h0M329.7 725.0h0M342.3 704.3h0M337.3 735.6h0M322.5 717.8h0M323.5 715.6h0M326.2 720.4h0M339.2 694.4h0M319.2 718.3h0M334.6 715.3h0M328.3 716.4h0M324.5 718.1h0M298.9 682.7h0M338.0 718.9h0M336.4 714.3h0M335.4 726.4h0M337.6 733.2h0M332.8 726.8h0M327.3 712.2h0M327.9 727.9h0M322.6 709.2h0M334.5 696.3h0M317.6 732.0h0M306.4 726.4h0M334.7 737.7h0M327.2 707.1h0M339.4 735.0h0M320.1 716.5h0M313.4 716.0h0M351.6 694.3h0M323.3 715.8h0M281.5 701.1h0M322.5 721.1h0M345.0 717.8h0M322.0 725.2h0M328.0 712.4h0M324.6 729.8h0M326.4 716.4h0M337.5 690.3h0M336.5 720.7h0M326.9 727.4h0M333.3 712.8h0M336.9 713.4h0M332.7 723.4h0M336.3 727.0h0M319.5 734.8h0M309.9 704.7h0M326.1 717.8h0M351.2 714.6h0M336.2 694.9h0M336.3 729.5h0M336.0 723.2h0M324.5 716.5h0M350.0 730.0h0M326.6 737.5h0M341.4 721.2h0M325.9 724.4h0M333.0 707.7h0M343.4 731.8h0M316.6 709.8h0M321.0 733.6h0M334.6 716.5h0M329.4 724.9h0M337.3 684.3h0M315.0 727.9h0M334.0 740.3h0M334.3 721.2h0M326.2 729.1h0M319.8 737.3h0M325.3 728.5h0M335.7 702.7h0M334.1 727.8h0M337.2 594.0h0M334.9 725.5h0M334.8 710.0h0M307.6 697.0h0M335.5 741.0h0M335.1 739.3h0M307.2 717.7h0M337.3 721.0h0M329.1 703.5h0M333.4 727.4h0M302.7 718.0h0M348.7 733.9h0M325.1 733.0h0M327.5 726.9h0M324.4 726.9h0M322.3 730.3h0M326.6 715.9h0M321.9 714.2h0M325.0 717.3h0M330.1 728.6h0M321.1 717.2h0M322.3 733.5h0M319.9 726.1h0M339.4 710.7h0M333.0 712.4h0M354.7 717.8h0M338.6 714.9h0M326.4 718.9h0M348.0 684.9h0M335.1 725.5h0M320.6 712.6h0M331.0 744.0h0M314.0 716.4h0M340.3 734.7h0M325.4 732.4h0M328.1 709.3h0M335.1 720.0h0M336.5 737.3h0M336.0 718.9h0M350.5 694.4h0M354.1 687.9h0M322.0 733.6h0M306.0 696.5h0M336.4 702.7h0M334.3 707.0h0M325.9 737.3h0M327.5 740.7h0M326.4 731.3h0M347.6 732.5h0M307.0 703.2h0M320.3 729.2h0M343.0 720.2h0M327.0 709.0h0M317.2 714.0h0M320.3 731.5h0M337.2 714.9h0M324.8 732.6h0M342.3 695.7h0M342.8 716.9h0M334.1 712.4h0M338.1 730.1h0M337.4 730.5h0M337.8 739.0h0M337.8 698.1h0M340.3 724.3h0M354.3 707.9h0M323.5 707.1h0M319.9 709.5h0M322.1 718.2h0M337.2 714.9h0M316.2 696.0h0M325.1 671.3h0M327.3 715.7h0M348.3 726.3h0M328.2 711.7h0M336.9 699.0h0M337.4 731.1h0M326.3 693.9h0M321.7 715.5h0M319.8 706.1h0M337.5 716.8h0M336.6 708.0h0M324.6 701.0h0M336.3 718.0h0M321.9 727.7h0M331.6 728.2h0M317.8 733.3h0M334.4 705.3h0M333.4 705.3h0M326.4 707.7h0M341.4 726.9h0M335.5 696.2h0M341.1 712.7h0M327.7 740.3h0M338.6 734.7h0M325.1 705.7h0M322.1 729.5h0M323.6 732.7h0M324.0 708.9h0M322.9 728.4h0M323.3 731.5h0M323.6 721.0h0M343.1 720.1h0M341.4 676.8h0M345.3 706.4h0M340.7 694.4h0M320.8 724.8h0M322.0 728.2h0M326.3 737.1h0M358.6 706.1h0M309.2 728.6h0M335.5 722.7h0M338.9 700.1h0M322.3 720.6h0M320.8 704.1h0M338.5 717.2h0M328.5 696.8h0M322.4 733.9h0M326.6 737.1h0M323.7 715.9h0M325.3 667.5h0M340.0 702.1h0M385.4 715.4h0M348.0 711.0h0M318.5 715.3h0M340.2 721.8h0M339.1 729.1h0M338.2 718.2h0M321.1 710.0h0M342.6 730.0h0M324.7 711.0h0M318.7 703.1h0M318.1 697.2h0M337.0 710.6h0M320.5 699.6h0M355.4 694.9h0M323.3 712.9h0M322.9 706.9h0M341.4 735.2h0M321.7 722.2h0M337.8 679.6h0M343.0 704.3h0M339.2 714.5h0M340.4 719.1h0M333.5 685.1h0M334.1 742.0h0M337.7 711.4h0M326.3 706.8h0M324.2 692.8h0M326.9 706.0h0M334.5 707.4h0M311.3 728.9h0M329.0 705.5h0M340.1 662.9h0M319.6 706.0h0M351.7 716.0h0M314.8 731.6h0M319.9 725.7h0M323.9 711.5h0M340.7 726.7h0M318.5 685.0h0M323.5 723.7h0M354.6 735.1h0M343.1 698.4h0M206.5 725.0h0M372.0 687.5h0M427.5 723.0h0M437.5 706.3h0M376.0 722.5h0M324.2 597.7h0M426.3 722.7h0M206.5 724.6h0" stroke="#6c6c6c" stroke-opacity=".36" stroke-width="3.2" stroke-linecap="round" fill="none"/>
<path d="M329.2 737.1h0M341.0 732.0h0M334.2 732.6h0M329.9 741.5h0M322.0 702.2h0M328.5 740.6h0M329.9 739.8h0M326.9 720.3h0M336.5 725.8h0M311.9 704.5h0M321.9 725.9h0M332.5 739.8h0M328.8 735.2h0M328.8 741.2h0M331.4 742.7h0M338.9 710.5h0M334.1 717.9h0M330.5 738.8h0M342.8 690.7h0M329.9 736.9h0M331.5 740.8h0M328.0 729.0h0M333.3 726.8h0M332.2 741.0h0M341.1 739.3h0M331.4 736.6h0M340.4 727.3h0M333.3 737.3h0M329.1 737.0h0M330.5 740.8h0M332.8 713.0h0M327.9 736.7h0M329.2 740.4h0M336.2 732.1h0M326.3 726.9h0M329.7 736.0h0M318.0 730.0h0M336.9 701.7h0M333.1 730.2h0M331.8 739.6h0M327.6 727.7h0M328.6 735.1h0M335.7 728.2h0M333.1 720.5h0M333.2 717.8h0M329.4 730.9h0M336.6 647.4h0M327.5 724.1h0M322.1 682.1h0M341.8 693.8h0M322.4 691.9h0M335.9 729.1h0M339.4 729.5h0M339.9 645.9h0M306.0 710.8h0M332.0 737.4h0M330.0 735.6h0M329.8 728.3h0M333.5 716.7h0M317.7 720.0h0M329.4 723.6h0M330.5 738.5h0M330.3 734.1h0M351.3 682.2h0M329.5 715.6h0M334.0 734.2h0M322.7 724.4h0M325.5 733.9h0M323.0 735.5h0M326.7 735.9h0M318.6 718.9h0M329.4 734.0h0M334.7 715.8h0M330.2 737.9h0M324.9 692.1h0M334.1 730.9h0M333.9 726.6h0M332.9 731.1h0M333.5 721.2h0M318.7 712.6h0M328.2 729.9h0M331.1 744.0h0M348.1 707.7h0M329.5 726.8h0M316.6 703.3h0M333.0 680.0h0M334.8 704.7h0M329.0 721.5h0M334.8 720.3h0M319.8 720.5h0M334.7 710.2h0M322.8 716.3h0M335.2 711.9h0M329.8 733.0h0M319.3 727.2h0M321.9 704.8h0M331.7 727.0h0M335.6 712.4h0M335.0 721.3h0M330.1 735.9h0M339.7 689.3h0M333.4 722.5h0M325.4 729.3h0M318.4 701.4h0M331.9 734.7h0M327.7 737.3h0M337.1 736.4h0M322.1 708.8h0M337.5 713.4h0M327.4 717.0h0M296.6 715.9h0M317.7 715.0h0M328.9 738.5h0M339.1 706.4h0M325.1 728.9h0M328.5 731.3h0M334.9 724.2h0M336.6 724.6h0M318.7 713.8h0M325.7 734.5h0M339.7 718.3h0M334.3 736.2h0M336.4 709.4h0M332.5 711.6h0M334.8 733.3h0M334.1 668.5h0M327.6 729.6h0M345.4 709.5h0M324.2 712.0h0M336.0 726.5h0M328.2 730.8h0M348.0 710.4h0M334.3 740.0h0M324.1 719.0h0M336.8 703.2h0M321.2 713.9h0M322.3 729.6h0M336.5 727.2h0M316.1 683.6h0M325.3 701.1h0M316.6 704.9h0M325.5 736.9h0M334.3 728.8h0M324.0 727.4h0M322.8 705.5h0M335.1 731.3h0M338.1 700.3h0M335.5 727.5h0M326.9 733.1h0M333.1 724.5h0M331.8 734.2h0M327.7 721.8h0M328.7 730.0h0M325.2 723.1h0M331.6 733.5h0M334.1 735.6h0M336.4 739.6h0M323.8 712.3h0M334.1 733.5h0M329.1 723.1h0M318.2 730.4h0M314.1 693.9h0M336.9 726.7h0M322.9 686.2h0M336.5 734.0h0M328.3 718.8h0M343.3 732.6h0M331.6 730.7h0M318.1 706.3h0M339.6 701.7h0M322.9 724.7h0M328.9 724.7h0M320.1 697.4h0M345.7 723.9h0M332.8 718.4h0M330.0 726.6h0M323.1 682.6h0M333.6 709.0h0M344.7 703.7h0M373.1 687.3h0M318.5 706.4h0M324.0 733.5h0M321.3 721.2h0M315.3 728.2h0M328.2 705.1h0M325.6 724.7h0M337.9 733.9h0M324.2 719.0h0M326.3 727.3h0M327.9 736.8h0M335.6 726.3h0M324.5 725.8h0M327.1 724.4h0M326.9 735.7h0M320.4 714.4h0M334.0 709.1h0M337.6 682.8h0M335.0 740.9h0M335.4 724.6h0M337.4 716.7h0M325.3 730.8h0M327.3 707.4h0M337.0 707.8h0M323.6 646.7h0M328.9 714.8h0M325.8 697.1h0M341.2 706.3h0M346.0 726.3h0M336.7 724.9h0M325.1 717.3h0M336.2 734.2h0M323.3 724.1h0M323.1 725.0h0M325.1 740.1h0M316.8 700.1h0M336.8 694.9h0M325.1 711.5h0M322.0 710.0h0M320.7 713.0h0M328.9 722.4h0M327.5 718.3h0M339.7 712.1h0M338.5 731.8h0M337.4 727.1h0M332.0 725.9h0M324.7 724.0h0M333.4 727.6h0M337.5 729.7h0M314.1 711.4h0M324.9 726.7h0M314.6 692.3h0M308.9 729.1h0M339.5 700.5h0M324.5 722.7h0M334.9 727.3h0M327.8 699.7h0M316.9 734.2h0M334.3 709.5h0M332.4 723.8h0M332.8 723.2h0M334.3 725.0h0M331.7 735.1h0M325.5 701.2h0M299.8 717.3h0M337.5 734.1h0M324.0 720.7h0M345.3 730.3h0M324.9 735.0h0M398.5 691.9h0M340.1 736.6h0M336.6 724.3h0M353.9 717.1h0M320.2 727.9h0M325.0 724.7h0M347.2 699.4h0M306.3 701.7h0M328.2 704.1h0M325.5 731.7h0M325.0 731.6h0M330.2 734.1h0M334.1 738.8h0M337.9 669.3h0M321.1 719.3h0M340.9 721.1h0M332.9 706.6h0M287.9 692.5h0M345.8 719.5h0M324.4 730.4h0M340.7 694.5h0M325.4 709.5h0M339.3 709.7h0M314.3 699.9h0M327.1 722.9h0M334.9 686.0h0M344.5 720.1h0M335.6 723.8h0M327.5 706.2h0M328.6 671.1h0M334.4 697.6h0M328.2 742.1h0M343.1 728.8h0M332.4 743.0h0M335.6 703.1h0M319.1 732.4h0M336.1 732.1h0M326.2 720.1h0M327.1 713.5h0M335.0 712.2h0M317.9 707.2h0M333.9 698.6h0M337.2 708.4h0M327.1 684.5h0M333.3 705.3h0M323.6 720.6h0M338.7 717.1h0M335.5 735.9h0M327.7 720.6h0M333.9 713.5h0M344.1 730.5h0M322.1 727.2h0M337.7 728.9h0M332.6 716.9h0M357.9 684.4h0M326.0 732.8h0M326.9 691.3h0M336.1 737.0h0M337.7 685.4h0M343.0 737.1h0M334.9 719.3h0M328.2 707.2h0M343.7 701.8h0M328.5 698.4h0M340.6 730.9h0M340.8 726.4h0M322.5 696.2h0M335.7 720.5h0M340.8 673.7h0M333.0 719.2h0M336.1 733.5h0M340.6 696.4h0M333.7 712.8h0M336.0 723.0h0M327.0 709.2h0M334.6 710.5h0M312.3 707.7h0M321.2 715.7h0M342.9 723.8h0M339.2 724.1h0M313.1 713.8h0M327.1 706.5h0M333.0 715.0h0M335.6 717.2h0M335.9 735.1h0M334.2 703.1h0M357.7 714.9h0M334.1 741.2h0M327.7 713.3h0M323.7 720.0h0M332.6 718.0h0M324.4 722.4h0M338.9 728.3h0M326.6 662.8h0M312.7 706.6h0M312.5 712.7h0M324.9 711.0h0M324.2 738.6h0M325.3 714.6h0M339.8 725.3h0M323.6 706.9h0M322.9 715.8h0M334.5 689.3h0M326.4 693.0h0M317.6 712.6h0M325.8 715.2h0M336.5 718.2h0M333.6 696.6h0M316.3 716.0h0M336.1 685.7h0M334.6 683.1h0M335.1 736.0h0M323.2 723.1h0M321.4 711.9h0M355.4 693.1h0M319.5 720.2h0M323.9 721.3h0M324.7 705.2h0M314.9 734.7h0M313.3 708.1h0M291.7 722.7h0M339.8 663.2h0M336.5 695.7h0M334.0 702.5h0M324.5 720.4h0M314.0 715.5h0M345.6 706.6h0M334.1 711.8h0M323.7 718.2h0M322.9 719.8h0M324.0 730.7h0M344.6 724.2h0M342.4 694.2h0M318.3 726.9h0M344.3 735.4h0M341.5 719.1h0M339.6 723.3h0M318.0 730.6h0M326.7 717.2h0M340.6 731.4h0M334.5 704.4h0M337.7 712.5h0M330.1 727.7h0M336.7 705.4h0M338.2 735.5h0M324.3 674.4h0M322.2 726.4h0M343.3 729.4h0M332.0 728.1h0M335.0 709.9h0M344.6 727.8h0M322.9 724.9h0M337.7 694.8h0M334.2 709.9h0M346.6 701.7h0M311.9 732.6h0M322.8 713.3h0M311.3 706.8h0M326.4 701.9h0M209.0 725.0h0M387.5 695.0h0M429.5 723.0h0M447.5 709.5h0M380.0 722.5h0M328.1 599.8h0M431.6 723.5h0M209.1 725.1h0" stroke="#6c6c6c" stroke-opacity=".36" stroke-width="3.2" stroke-linecap="round" fill="none"/>
<path d="M338.8 714.9h0M296.8 694.8h0M332.0 729.7h0M332.5 727.1h0M331.6 742.3h0M318.7 713.9h0M331.4 742.2h0M339.5 703.1h0M329.9 741.3h0M328.3 734.6h0M335.4 693.1h0M342.7 713.0h0M329.3 727.2h0M331.4 742.4h0M341.1 695.5h0M344.6 718.9h0M333.9 719.8h0M337.5 718.8h0M328.9 728.6h0M329.2 731.9h0M332.8 738.8h0M324.8 713.6h0M366.0 693.7h0M331.2 739.7h0M320.7 722.6h0M344.3 706.1h0M326.2 678.4h0M329.8 729.2h0M332.2 734.7h0M331.8 737.7h0M322.0 729.6h0M333.2 731.3h0M330.9 744.2h0M323.3 711.2h0M325.2 705.6h0M339.2 737.2h0M327.4 733.5h0M330.9 744.1h0M348.4 711.2h0M330.0 742.2h0M323.9 702.6h0M327.9 725.8h0M327.8 732.3h0M334.7 725.7h0M331.5 741.7h0M325.9 713.6h0M334.6 739.0h0M339.2 724.4h0M337.5 738.0h0M321.2 706.2h0M332.9 737.5h0M332.7 735.2h0M332.6 740.2h0M335.3 727.7h0M332.2 742.7h0M300.9 729.1h0M330.0 741.6h0M326.4 701.4h0M320.5 715.4h0M337.6 720.9h0M333.3 741.7h0M342.9 715.2h0M338.8 731.0h0M314.6 694.6h0M333.3 706.3h0M327.1 713.2h0M327.7 739.1h0M320.6 715.1h0M329.4 737.1h0M332.1 730.2h0M325.4 680.4h0M326.3 718.8h0M332.6 740.2h0M338.7 728.0h0M332.7 722.5h0M314.1 722.7h0M312.7 721.5h0M326.8 738.9h0M350.5 729.9h0M337.2 701.3h0M335.7 705.1h0M333.8 721.2h0M328.6 733.7h0M328.1 728.4h0M332.7 740.6h0M341.2 686.0h0M347.7 703.3h0M333.8 735.3h0M347.9 716.4h0M321.6 710.4h0M327.6 726.2h0M336.6 727.2h0M332.8 734.1h0M336.1 668.3h0M340.1 719.2h0M336.3 731.3h0M327.6 738.2h0M328.7 725.5h0M332.8 732.4h0M335.0 729.9h0M333.4 735.1h0M339.9 733.1h0M327.1 731.9h0M335.3 739.7h0M326.7 731.0h0M340.0 736.5h0M334.6 700.3h0M328.4 737.4h0M318.9 717.3h0M341.9 718.1h0M332.4 726.6h0M342.6 723.9h0M328.2 740.8h0M325.9 719.7h0M332.3 723.8h0M330.1 736.7h0M333.9 734.1h0M335.3 728.4h0M334.7 691.9h0M325.4 736.3h0M327.7 721.2h0M337.7 733.0h0M334.7 715.0h0M336.1 738.3h0M335.7 709.9h0M322.9 720.9h0M332.3 733.8h0M333.6 727.1h0M333.6 726.2h0M312.8 705.5h0M338.2 715.0h0M332.9 729.1h0M318.8 718.7h0M332.1 726.0h0M328.1 731.5h0M331.7 732.8h0M327.9 737.1h0M340.0 720.7h0M328.7 718.2h0M336.2 697.8h0M335.5 719.6h0M327.8 709.1h0M328.0 718.0h0M327.1 717.8h0M333.4 710.3h0M326.8 733.8h0M350.7 703.3h0M325.3 722.9h0M339.7 657.9h0M330.0 742.6h0M326.0 718.8h0M361.7 718.5h0M319.9 694.3h0M320.8 732.3h0M320.3 711.1h0M327.5 713.4h0M316.9 720.9h0M327.1 734.3h0M325.8 735.2h0M338.1 726.5h0M325.5 723.2h0M328.5 725.7h0M341.0 716.1h0M319.3 722.6h0M330.0 743.3h0M317.9 715.0h0M334.1 726.1h0M324.4 727.8h0M320.4 716.7h0M333.3 725.6h0M336.2 721.9h0M337.8 699.7h0M335.5 679.9h0M332.8 726.3h0M339.2 649.8h0M336.6 731.7h0M327.9 720.9h0M343.2 699.0h0M351.1 701.9h0M328.7 720.7h0M299.4 709.8h0M324.7 726.7h0M326.7 708.4h0M334.5 713.1h0M331.8 735.4h0M346.7 696.1h0M335.8 730.7h0M335.3 719.2h0M354.7 692.3h0M345.8 708.3h0M331.7 735.7h0M334.4 739.0h0M323.7 736.4h0M368.3 710.2h0M334.0 718.6h0M342.0 717.3h0M323.5 729.8h0M327.7 740.9h0M326.7 705.1h0M329.8 716.2h0M327.8 718.3h0M328.9 724.9h0M328.7 716.7h0M332.8 720.3h0M318.6 700.5h0M337.2 721.7h0M334.4 721.8h0M331.1 744.0h0M323.3 720.3h0M334.3 723.8h0M324.9 729.5h0M328.6 727.1h0M327.9 735.4h0M322.3 724.9h0M346.1 727.0h0M324.6 705.9h0M337.6 710.9h0M335.3 719.4h0M317.5 716.3h0M325.3 726.7h0M321.8 679.3h0M313.9 698.2h0M332.6 724.4h0M343.8 724.2h0M326.5 701.5h0M319.1 688.4h0M335.4 726.5h0M324.6 724.8h0M326.5 721.5h0M340.5 731.2h0M328.8 720.0h0M322.4 715.7h0M337.2 722.4h0M340.3 692.5h0M336.3 731.2h0M342.7 710.8h0M331.9 724.5h0M334.1 727.0h0M327.4 714.7h0M331.9 730.6h0M326.2 715.1h0M339.5 733.1h0M326.9 706.7h0M337.0 710.3h0M326.7 691.2h0M322.0 694.3h0M324.9 733.5h0M322.6 731.2h0M338.6 732.9h0M353.8 718.0h0M321.2 710.5h0M336.2 732.0h0M335.6 725.4h0M335.8 720.5h0M333.8 715.7h0M333.1 722.4h0M322.8 667.1h0M334.8 720.9h0M318.4 705.2h0M337.5 722.3h0M343.6 688.1h0M325.9 680.5h0M342.5 717.9h0M319.6 734.5h0M336.2 735.3h0M334.1 705.8h0M326.0 717.6h0M332.4 711.8h0M342.0 726.5h0M325.3 715.9h0M354.4 721.8h0M320.2 716.3h0M334.2 740.1h0M318.0 729.2h0M347.5 728.4h0M343.7 720.8h0M336.6 717.5h0M323.0 731.4h0M339.7 708.0h0M392.8 695.5h0M337.2 729.6h0M328.4 702.1h0M336.4 726.1h0M321.5 722.7h0M338.0 737.7h0M333.5 704.6h0M291.2 721.6h0M317.0 720.6h0M335.8 718.0h0M336.4 693.7h0M338.3 695.6h0M314.7 713.0h0M322.2 711.0h0M336.0 705.2h0M321.4 722.6h0M335.9 735.2h0M333.6 714.6h0M328.3 703.5h0M335.7 732.5h0M320.5 709.4h0M326.5 738.0h0M352.9 714.7h0M326.3 736.6h0M330.0 743.3h0M336.8 692.1h0M325.0 722.5h0M249.9 708.6h0M329.2 720.5h0M339.5 733.1h0M326.6 739.1h0M336.8 706.3h0M325.1 737.3h0M337.7 682.2h0M328.8 713.9h0M323.9 733.5h0M344.6 702.5h0M318.0 687.0h0M322.9 702.7h0M327.4 698.3h0M338.0 707.8h0M353.3 715.3h0M346.3 709.9h0M349.6 687.5h0M332.1 743.1h0M340.4 717.7h0M353.1 721.5h0M335.5 714.2h0M313.3 715.8h0M337.6 726.2h0M319.5 718.6h0M348.0 718.8h0M322.0 701.8h0M338.9 706.7h0M324.3 731.4h0M327.3 694.2h0M334.5 709.4h0M326.3 693.0h0M366.4 683.2h0M337.2 665.3h0M325.0 671.2h0M341.6 707.0h0M346.7 716.3h0M342.6 708.0h0M338.7 677.3h0M313.3 723.1h0M340.2 696.8h0M333.6 712.4h0M339.4 710.9h0M326.8 695.1h0M337.8 712.4h0M339.2 731.4h0M326.1 715.8h0M319.9 727.7h0M324.7 712.5h0M340.2 693.9h0M339.9 714.1h0M346.1 719.8h0M322.3 718.9h0M325.7 687.5h0M335.5 717.3h0M345.3 722.5h0M340.6 693.7h0M327.5 702.1h0M344.5 716.3h0M339.7 707.7h0M343.3 716.3h0M309.1 689.1h0M313.2 728.8h0M338.8 718.6h0M338.4 710.3h0M323.0 710.8h0M330.2 733.7h0M339.7 717.3h0M367.6 708.0h0M339.6 697.0h0M319.9 739.0h0M326.9 707.8h0M322.0 706.2h0M334.2 716.9h0M336.0 722.9h0M337.1 729.7h0M321.3 715.1h0M329.0 715.8h0M315.4 724.0h0M334.5 707.5h0M340.5 730.5h0M335.4 704.6h0M327.0 741.1h0M326.7 738.4h0M318.7 723.5h0M325.3 711.9h0M321.0 737.5h0M322.8 727.8h0M350.5 716.1h0M323.8 697.5h0M336.1 706.0h0M318.8 726.3h0M352.4 722.3h0M315.7 720.3h0M340.8 685.1h0M321.9 722.4h0M337.7 651.6h0M345.5 729.5h0M321.2 714.6h0M327.1 712.4h0M340.5 732.3h0M323.0 713.7h0M212.0 725.0h0M380.0 700.0h0M431.5 723.0h0M443.8 717.5h0M365.0 721.0h0M323.8 625.8h0M441.3 722.6h0M204.1 725.2h0" stroke="#6c6c6c" stroke-opacity=".36" stroke-width="3.2" stroke-linecap="round" fill="none"/>
<line x1="320.40" y1="450.00" x2="320.40" y2="752.00" stroke="#000" stroke-width="1.25" stroke-dasharray="3.8 4.3"/>
<line x1="341.40" y1="450.00" x2="341.40" y2="752.00" stroke="#000" stroke-width="1.25" stroke-dasharray="3.8 4.3"/>
<line x1="160.40" y1="681.50" x2="495.50" y2="681.50" stroke="#000" stroke-width="1.25" stroke-dasharray="3.8 4.2"/>
<line x1="359.50" y1="630.80" x2="377.20" y2="629.40" stroke="#777" stroke-width="0.55"/>
<line x1="359.00" y1="618.60" x2="353.50" y2="648.50" stroke="#777" stroke-width="0.55"/>
<line x1="358.30" y1="641.60" x2="362.10" y2="638.90" stroke="#777" stroke-width="0.55"/>
<line x1="382.90" y1="640.60" x2="367.10" y2="650.20" stroke="#777" stroke-width="0.55"/>
<line x1="381.70" y1="647.60" x2="356.30" y2="651.90" stroke="#777" stroke-width="0.55"/>
<line x1="393.40" y1="654.00" x2="364.40" y2="654.20" stroke="#777" stroke-width="0.55"/>
<line x1="396.20" y1="660.90" x2="377.70" y2="671.10" stroke="#777" stroke-width="0.55"/>
<line x1="371.80" y1="673.50" x2="382.50" y2="681.60" stroke="#777" stroke-width="0.55"/>
<line x1="367.40" y1="679.70" x2="394.60" y2="695.20" stroke="#777" stroke-width="0.55"/>
<line x1="398.20" y1="675.10" x2="413.80" y2="687.00" stroke="#777" stroke-width="0.55"/>
<line x1="351.60" y1="684.60" x2="360.60" y2="674.30" stroke="#777" stroke-width="0.55"/>
<line x1="363.80" y1="693.50" x2="359.30" y2="677.50" stroke="#777" stroke-width="0.55"/>
<line x1="419.60" y1="666.30" x2="436.20" y2="671.40" stroke="#777" stroke-width="0.55"/>
<path d="M390.5 458.3h0M356.4 504.6h0M350.1 516.1h0M312.0 554.9h0M353.1 558.9h0M354.8 566.6h0M317.7 579.7h0M341.2 579.2h0M344.9 577.7h0M341.5 587.7h0M341.2 590.5h0M344.6 589.7h0M348.5 590.8h0M349.7 594.2h0M357.2 593.5h0M341.5 598.2h0M349.2 601.2h0M351.1 600.5h0M356.9 605.8h0M317.4 607.4h0M340.8 606.9h0M341.2 609.2h0M345.1 604.6h0M346.9 608.0h0M344.2 613.1h0M318.8 614.9h0M341.2 617.7h0M349.2 617.4h0M341.4 618.0h0M342.5 622.8h0M349.6 623.9h0M342.3 628.2h0M341.5 629.7h0M343.5 630.5h0M345.4 631.2h0M342.5 631.0h0M344.0 629.5h0M342.3 632.8h0M343.7 636.2h0M349.8 635.8h0M355.2 636.2h0M359.5 630.8h0M358.3 641.6h0M348.1 641.2h0M346.2 643.5h0M341.5 646.6h0M343.0 647.5h0M344.5 647.3h0M345.4 648.5h0M342.0 649.6h0M343.5 650.5h0M353.5 649.3h0M366.8 650.2h0M369.6 626.2h0M356.3 651.9h0M364.4 654.2h0M356.4 652.7h0M356.0 655.4h0M345.6 652.3h0M349.1 657.3h0M346.8 659.2h0M351.0 661.9h0M347.9 665.8h0M349.5 668.8h0M355.6 668.1h0M357.2 668.1h0M360.5 667.3h0M361.0 673.8h0M359.1 677.3h0M352.9 675.8h0M351.0 677.3h0M348.3 678.8h0M349.5 681.2h0M354.5 678.8h0M356.4 681.2h0M371.8 673.5h0M367.4 679.7h0M342.9 678.8h0M343.7 681.2h0M341.4 675.8h0M341.4 671.2h0M342.9 668.1h0M341.4 663.5h0M342.9 658.8h0M341.0 654.2h0M342.2 647.3h0M377.7 671.2h0M396.2 670.5h0M398.2 675.1h0M419.6 666.3h0M414.4 625.0h0M422.1 635.2h0M445.2 641.0h0M465.4 650.4h0M360.8 674.2h0M298.6 622.9h0M307.5 635.8h0M307.5 644.2h0M316.7 644.2h0M316.3 646.2h0M318.6 646.2h0M320.2 646.5h0M302.8 653.3h0M305.9 655.4h0M310.9 651.8h0M316.7 653.1h0M318.2 660.8h0M316.7 663.8h0M314.4 666.2h0M305.9 668.5h0M315.2 669.2h0M317.8 670.4h0M319.4 670.4h0M297.5 673.5h0M310.5 673.5h0M312.8 673.8h0M317.1 673.5h0M292.8 678.1h0M308.6 677.7h0M315.5 677.7h0M317.1 678.8h0M319.4 680.0h0M286.3 680.4h0M317.3 607.7h0M319.1 614.8h0M343.4 654.1h0M346.1 648.4h0M343.7 655.8h0M341.9 651.2h0M344.4 668.4h0M341.3 638.5h0M341.3 669.4h0M344.8 622.6h0M346.4 678.9h0M344.5 657.5h0M341.7 620.9h0M343.8 623.6h0M341.9 634.8h0M341.0 648.3h0M343.3 671.4h0M343.8 659.1h0M347.5 674.6h0M347.1 667.3h0M352.0 680.9h0M350.6 675.4h0M345.8 666.4h0M313.6 665.2h0M317.9 670.8h0M318.6 670.6h0M319.6 678.4h0" stroke="#d90d12" stroke-width="3.6" stroke-linecap="round" fill="none"/>
<text x="393.20" y="459.90" font-size="6.9" textLength="31.6" lengthAdjust="spacingAndGlyphs" stroke="#000" stroke-width="0.15">UGT3A2 (1)</text>
<text x="358.40" y="504.40" font-size="6.9" textLength="20.2" lengthAdjust="spacingAndGlyphs" stroke="#000" stroke-width="0.15">PRKCE</text>
<text x="360.40" y="594.60" font-size="6.9" textLength="19.6" lengthAdjust="spacingAndGlyphs" stroke="#000" stroke-width="0.15">CPNE3</text>
<text x="359.80" y="606.20" font-size="6.9" textLength="16.6" lengthAdjust="spacingAndGlyphs" stroke="#000" stroke-width="0.15">EVI2A</text>
<text x="357.10" y="617.10" font-size="6.9" textLength="16.0" lengthAdjust="spacingAndGlyphs" fill="#2468a8" stroke="#2468a8" stroke-width="0.15">IKZF1</text>
<text x="372.30" y="625.40" font-size="6.9" textLength="19.9" lengthAdjust="spacingAndGlyphs" stroke="#000" stroke-width="0.15">HSH2D</text>
<text x="377.70" y="632.10" font-size="6.9" textLength="18.6" lengthAdjust="spacingAndGlyphs" stroke="#000" stroke-width="0.15">PTK2B</text>
<text x="416.90" y="625.40" font-size="6.9" textLength="23.5" lengthAdjust="spacingAndGlyphs" stroke="#000" stroke-width="0.15">TXLNGY</text>
<text x="425.00" y="634.50" font-size="6.9" textLength="26.7" lengthAdjust="spacingAndGlyphs" stroke="#000" stroke-width="0.15">DDX3Y(1)</text>
<text x="448.10" y="641.80" font-size="6.9" textLength="26.7" lengthAdjust="spacingAndGlyphs" stroke="#000" stroke-width="0.15">DDX3Y(2)</text>
<text x="467.70" y="650.40" font-size="6.9" textLength="19.8" lengthAdjust="spacingAndGlyphs" stroke="#000" stroke-width="0.15">EIF1AY</text>
<text x="362.70" y="639.40" font-size="6.9" textLength="16.0" lengthAdjust="spacingAndGlyphs" stroke="#000" stroke-width="0.15">CNN2</text>
<text x="384.00" y="642.10" font-size="6.9" textLength="15.0" lengthAdjust="spacingAndGlyphs" fill="#2468a8" stroke="#2468a8" stroke-width="0.15">CD33</text>
<text x="382.30" y="649.10" font-size="6.9" textLength="27.1" lengthAdjust="spacingAndGlyphs" stroke="#000" stroke-width="0.15">NEURL1B</text>
<text x="394.40" y="656.00" font-size="6.9" textLength="19.9" lengthAdjust="spacingAndGlyphs" stroke="#000" stroke-width="0.15">HVCN1</text>
<text x="357.80" y="661.80" font-size="6.9" textLength="18.9" lengthAdjust="spacingAndGlyphs" stroke="#000" stroke-width="0.15">EFNB2</text>
<text x="397.70" y="661.40" font-size="6.9" textLength="41.4" lengthAdjust="spacingAndGlyphs" stroke="#000" stroke-width="0.15">LOC101927497</text>
<text x="362.90" y="668.10" font-size="6.9" textLength="14.7" lengthAdjust="spacingAndGlyphs" stroke="#000" stroke-width="0.15">BCL6</text>
<text x="399.00" y="668.50" font-size="6.9" textLength="16.6" lengthAdjust="spacingAndGlyphs" stroke="#000" stroke-width="0.15">HDGF</text>
<text x="436.50" y="674.80" font-size="6.9" textLength="22.5" lengthAdjust="spacingAndGlyphs" stroke="#000" stroke-width="0.15">ZFAND1</text>
<text x="383.10" y="686.40" font-size="6.9" textLength="17.8" lengthAdjust="spacingAndGlyphs" stroke="#000" stroke-width="0.15">BATF3</text>
<text x="414.00" y="690.20" font-size="6.9" textLength="31.6" lengthAdjust="spacingAndGlyphs" stroke="#000" stroke-width="0.15">UGT3A2 (2)</text>
<text x="341.60" y="690.20" font-size="6.9" textLength="17.9" lengthAdjust="spacingAndGlyphs" stroke="#000" stroke-width="0.15">TEX40</text>
<text x="359.70" y="699.80" font-size="6.9" textLength="17.9" lengthAdjust="spacingAndGlyphs" stroke="#000" stroke-width="0.15">ICAM2</text>
<text x="395.40" y="700.00" font-size="6.9" textLength="18.8" lengthAdjust="spacingAndGlyphs" stroke="#000" stroke-width="0.15">BLVRA</text>
<text x="269.20" y="622.00" font-size="6.9" textLength="27.4" lengthAdjust="spacingAndGlyphs" stroke="#000" stroke-width="0.15">PHACTR3</text>
<text x="281.70" y="653.70" font-size="6.9" textLength="17.6" lengthAdjust="spacingAndGlyphs" stroke="#000" stroke-width="0.15">RGMB</text>
<text x="271.20" y="670.40" font-size="6.9" textLength="24.4" lengthAdjust="spacingAndGlyphs" stroke="#000" stroke-width="0.15">PDGFRA</text>
<text x="269.20" y="676.80" font-size="6.9" textLength="20.9" lengthAdjust="spacingAndGlyphs" stroke="#000" stroke-width="0.15">SMOC2</text>
<text x="271.20" y="689.30" font-size="6.9" textLength="14.7" lengthAdjust="spacingAndGlyphs" stroke="#000" stroke-width="0.15">LNX1</text>
<rect x="0.00" y="0.00" width="520.00" height="1.60" fill="#000"/>
<rect x="0.00" y="0.00" width="1.50" height="832.00" fill="#000"/>
<rect x="518.50" y="0.00" width="1.50" height="832.00" fill="#000"/>
<rect x="0.00" y="830.30" width="520.00" height="1.70" fill="#000"/>
</svg></body></html>
